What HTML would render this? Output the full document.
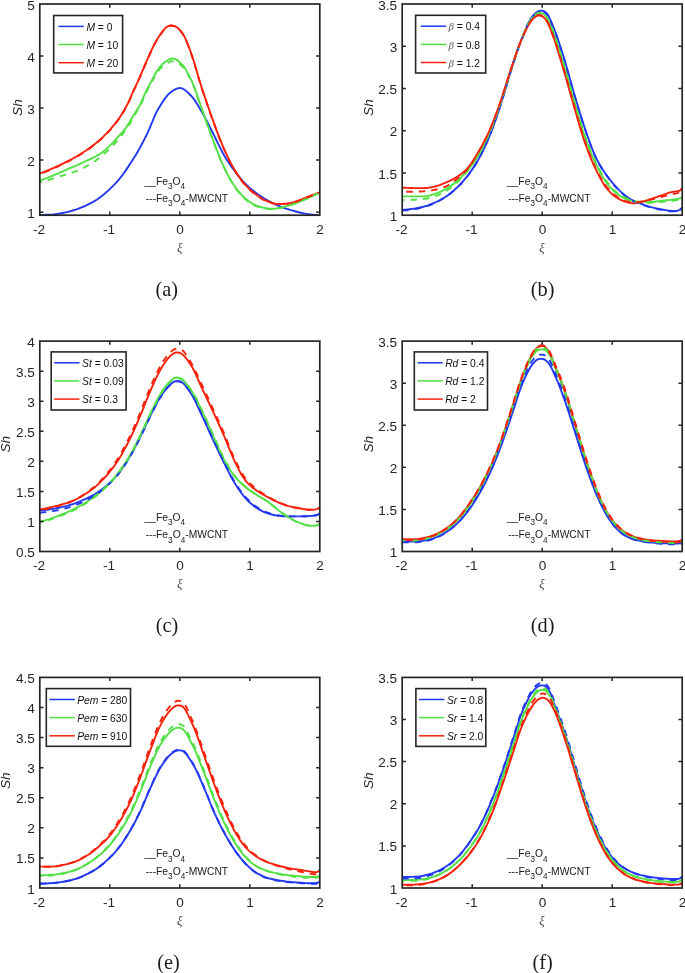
<!DOCTYPE html>
<html lang="en"><head><meta charset="utf-8"><title>Figure</title>
<style>html,body{margin:0;padding:0;background:#fff}svg{display:block;will-change:transform}</style></head><body>
<svg width="685" height="973" viewBox="0 0 685 973">
<g>
<clipPath id="clip_a"><rect x="39.8" y="3.0" width="281.0" height="213.2"/></clipPath>
<g clip-path="url(#clip_a)" fill="none" stroke-linejoin="round" stroke-linecap="butt">
<path d="M39.8,214.9 L40.8,214.9 L41.8,214.9 L42.8,214.9 L43.8,214.9 L44.8,214.9 L45.8,214.8 L46.8,214.8 L47.8,214.8 L48.8,214.8 L49.8,214.7 L50.8,214.7 L51.8,214.6 L52.8,214.6 L53.8,214.5 L54.8,214.3 L55.8,214.2 L56.8,214.0 L57.8,213.9 L58.8,213.7 L59.8,213.5 L60.8,213.3 L61.8,213.2 L62.8,213.0 L63.8,212.8 L64.8,212.6 L65.8,212.3 L66.8,212.1 L67.8,211.9 L68.8,211.6 L69.8,211.3 L70.8,211.1 L71.8,210.8 L72.8,210.5 L73.8,210.2 L74.8,209.9 L75.8,209.6 L76.8,209.2 L77.8,208.9 L78.8,208.5 L79.8,208.1 L80.8,207.7 L81.8,207.3 L82.8,206.9 L83.8,206.5 L84.8,206.1 L85.8,205.6 L86.8,205.2 L87.8,204.7 L88.8,204.2 L89.8,203.7 L90.8,203.2 L91.8,202.7 L92.8,202.1 L93.8,201.5 L94.8,200.9 L95.8,200.3 L96.8,199.7 L97.8,199.0 L98.8,198.3 L99.8,197.5 L100.8,196.8 L101.8,196.0 L102.8,195.2 L103.8,194.4 L104.8,193.5 L105.8,192.7 L106.8,191.8 L107.8,191.0 L108.8,190.1 L109.8,189.2 L110.8,188.2 L111.8,187.2 L112.8,186.2 L113.8,185.2 L114.8,184.2 L115.8,183.1 L116.8,182.0 L117.8,180.8 L118.8,179.6 L119.8,178.4 L120.8,177.2 L121.8,175.9 L122.8,174.5 L123.8,173.2 L124.8,171.8 L125.8,170.4 L126.8,168.9 L127.8,167.4 L128.8,165.9 L129.8,164.3 L130.8,162.8 L131.8,161.3 L132.8,159.7 L133.8,158.1 L134.8,156.5 L135.8,154.9 L136.8,153.2 L137.8,151.5 L138.8,149.8 L139.8,148.0 L140.8,146.1 L141.8,144.2 L142.8,142.3 L143.8,140.4 L144.8,138.4 L145.8,136.5 L146.8,134.4 L147.8,132.3 L148.8,130.1 L149.8,127.8 L150.8,125.4 L151.8,123.0 L152.8,120.6 L153.8,118.2 L154.8,115.9 L155.8,113.7 L156.8,111.7 L157.8,109.8 L158.8,108.1 L159.8,106.4 L160.8,104.8 L161.8,103.2 L162.8,101.6 L163.8,100.1 L164.8,98.7 L165.8,97.3 L166.8,96.1 L167.8,94.9 L168.8,93.9 L169.8,93.0 L170.8,92.2 L171.8,91.5 L172.8,90.8 L173.8,90.2 L174.8,89.6 L175.8,89.1 L176.8,88.6 L177.8,88.3 L178.8,88.1 L179.8,88.0 L180.8,88.1 L181.8,88.3 L182.8,88.7 L183.8,89.3 L184.8,90.0 L185.8,90.7 L186.8,91.6 L187.8,92.5 L188.8,93.5 L189.8,94.5 L190.8,95.5 L191.8,96.5 L192.8,97.7 L193.8,99.0 L194.8,100.4 L195.8,101.9 L196.8,103.5 L197.8,105.1 L198.8,106.8 L199.8,108.5 L200.8,110.2 L201.8,111.9 L202.8,113.6 L203.8,115.4 L204.8,117.3 L205.8,119.1 L206.8,121.0 L207.8,123.0 L208.8,124.9 L209.8,126.9 L210.8,128.9 L211.8,130.9 L212.8,132.8 L213.8,134.8 L214.8,136.9 L215.8,139.0 L216.8,141.0 L217.8,143.1 L218.8,145.2 L219.8,147.2 L220.8,149.2 L221.8,151.1 L222.8,153.0 L223.8,154.7 L224.8,156.4 L225.8,158.1 L226.8,159.7 L227.8,161.2 L228.8,162.7 L229.8,164.2 L230.8,165.6 L231.8,167.1 L232.8,168.5 L233.8,169.8 L234.8,171.2 L235.8,172.5 L236.8,173.8 L237.8,175.1 L238.8,176.3 L239.8,177.6 L240.8,178.8 L241.8,179.9 L242.8,181.1 L243.8,182.1 L244.8,183.2 L245.8,184.2 L246.8,185.2 L247.8,186.1 L248.8,187.1 L249.8,188.0 L250.8,188.8 L251.8,189.7 L252.8,190.5 L253.8,191.3 L254.8,192.1 L255.8,192.8 L256.8,193.5 L257.8,194.3 L258.8,195.0 L259.8,195.6 L260.8,196.3 L261.8,196.9 L262.8,197.6 L263.8,198.2 L264.8,198.8 L265.8,199.4 L266.8,199.9 L267.8,200.5 L268.8,201.0 L269.8,201.6 L270.8,202.1 L271.8,202.6 L272.8,203.1 L273.8,203.6 L274.8,204.1 L275.8,204.6 L276.8,205.0 L277.8,205.5 L278.8,205.9 L279.8,206.3 L280.8,206.7 L281.8,207.0 L282.8,207.4 L283.8,207.8 L284.8,208.1 L285.8,208.5 L286.8,208.8 L287.8,209.1 L288.8,209.4 L289.8,209.8 L290.8,210.1 L291.8,210.4 L292.8,210.7 L293.8,211.0 L294.8,211.3 L295.8,211.5 L296.8,211.8 L297.8,212.0 L298.8,212.3 L299.8,212.5 L300.8,212.7 L301.8,213.0 L302.8,213.2 L303.8,213.4 L304.8,213.6 L305.8,213.8 L306.8,213.9 L307.8,214.1 L308.8,214.2 L309.8,214.4 L310.8,214.5 L311.8,214.6 L312.8,214.7 L313.8,214.8 L314.8,214.9 L315.8,214.9 L316.8,215.0 L317.8,215.1 L318.8,215.1 L319.8,215.1" stroke="#2238f2" stroke-width="1.9"/>
<path d="M39.8,180.6 L40.8,180.2 L41.8,179.8 L42.8,179.5 L43.8,179.1 L44.8,178.7 L45.8,178.3 L46.8,177.9 L47.8,177.6 L48.8,177.2 L49.8,176.8 L50.8,176.4 L51.8,176.0 L52.8,175.6 L53.8,175.1 L54.8,174.7 L55.8,174.3 L56.8,173.9 L57.8,173.5 L58.8,173.1 L59.8,172.6 L60.8,172.2 L61.8,171.8 L62.8,171.3 L63.8,170.9 L64.8,170.4 L65.8,170.0 L66.8,169.6 L67.8,169.1 L68.8,168.7 L69.8,168.2 L70.8,167.8 L71.8,167.4 L72.8,167.0 L73.8,166.6 L74.8,166.1 L75.8,165.7 L76.8,165.3 L77.8,164.8 L78.8,164.4 L79.8,163.9 L80.8,163.5 L81.8,163.0 L82.8,162.5 L83.8,162.0 L84.8,161.5 L85.8,161.1 L86.8,160.6 L87.8,160.2 L88.8,159.7 L89.8,159.3 L90.8,158.8 L91.8,158.3 L92.8,157.8 L93.8,157.3 L94.8,156.8 L95.8,156.3 L96.8,155.7 L97.8,155.2 L98.8,154.6 L99.8,154.0 L100.8,153.3 L101.8,152.6 L102.8,151.9 L103.8,151.1 L104.8,150.3 L105.8,149.4 L106.8,148.5 L107.8,147.6 L108.8,146.7 L109.8,145.7 L110.8,144.7 L111.8,143.7 L112.8,142.6 L113.8,141.6 L114.8,140.5 L115.8,139.4 L116.8,138.3 L117.8,137.2 L118.8,136.1 L119.8,135.0 L120.8,133.9 L121.8,132.8 L122.8,131.6 L123.8,130.4 L124.8,129.1 L125.8,127.8 L126.8,126.4 L127.8,124.9 L128.8,123.4 L129.8,121.7 L130.8,120.0 L131.8,118.2 L132.8,116.5 L133.8,114.9 L134.8,113.3 L135.8,111.7 L136.8,110.2 L137.8,108.6 L138.8,107.0 L139.8,105.2 L140.8,103.1 L141.8,101.0 L142.8,98.7 L143.8,96.4 L144.8,94.2 L145.8,92.0 L146.8,89.9 L147.8,87.9 L148.8,86.0 L149.8,84.1 L150.8,82.2 L151.8,80.4 L152.8,78.5 L153.8,76.6 L154.8,74.8 L155.8,73.0 L156.8,71.3 L157.8,69.7 L158.8,68.3 L159.8,67.1 L160.8,65.9 L161.8,64.8 L162.8,63.9 L163.8,63.0 L164.8,62.2 L165.8,61.5 L166.8,60.9 L167.8,60.3 L168.8,59.7 L169.8,59.2 L170.8,58.8 L171.8,58.5 L172.8,58.5 L173.8,58.6 L174.8,58.9 L175.8,59.4 L176.8,59.9 L177.8,60.6 L178.8,61.4 L179.8,62.3 L180.8,63.3 L181.8,64.3 L182.8,65.4 L183.8,66.6 L184.8,68.0 L185.8,69.6 L186.8,71.4 L187.8,73.2 L188.8,75.1 L189.8,77.1 L190.8,79.1 L191.8,81.2 L192.8,83.5 L193.8,86.0 L194.8,88.6 L195.8,91.4 L196.8,94.2 L197.8,97.1 L198.8,100.0 L199.8,102.9 L200.8,105.8 L201.8,108.6 L202.8,111.4 L203.8,114.3 L204.8,117.1 L205.8,119.9 L206.8,122.8 L207.8,125.6 L208.8,128.5 L209.8,131.3 L210.8,134.0 L211.8,136.8 L212.8,139.4 L213.8,142.1 L214.8,144.8 L215.8,147.4 L216.8,150.0 L217.8,152.6 L218.8,155.2 L219.8,157.7 L220.8,160.1 L221.8,162.4 L222.8,164.7 L223.8,166.8 L224.8,168.9 L225.8,170.9 L226.8,172.9 L227.8,174.8 L228.8,176.7 L229.8,178.5 L230.8,180.2 L231.8,181.9 L232.8,183.5 L233.8,185.0 L234.8,186.4 L235.8,187.8 L236.8,189.2 L237.8,190.5 L238.8,191.7 L239.8,192.9 L240.8,194.1 L241.8,195.2 L242.8,196.2 L243.8,197.2 L244.8,198.1 L245.8,198.9 L246.8,199.8 L247.8,200.5 L248.8,201.3 L249.8,202.0 L250.8,202.7 L251.8,203.3 L252.8,203.9 L253.8,204.4 L254.8,204.9 L255.8,205.4 L256.8,205.7 L257.8,206.1 L258.8,206.4 L259.8,206.7 L260.8,207.0 L261.8,207.3 L262.8,207.6 L263.8,207.8 L264.8,208.0 L265.8,208.2 L266.8,208.3 L267.8,208.5 L268.8,208.6 L269.8,208.7 L270.8,208.8 L271.8,208.8 L272.8,208.7 L273.8,208.7 L274.8,208.6 L275.8,208.5 L276.8,208.3 L277.8,208.2 L278.8,208.0 L279.8,207.8 L280.8,207.7 L281.8,207.4 L282.8,207.2 L283.8,206.9 L284.8,206.7 L285.8,206.4 L286.8,206.1 L287.8,205.8 L288.8,205.6 L289.8,205.3 L290.8,204.9 L291.8,204.6 L292.8,204.3 L293.8,203.9 L294.8,203.5 L295.8,203.2 L296.8,202.8 L297.8,202.4 L298.8,202.0 L299.8,201.6 L300.8,201.2 L301.8,200.8 L302.8,200.4 L303.8,199.9 L304.8,199.5 L305.8,199.0 L306.8,198.6 L307.8,198.1 L308.8,197.7 L309.8,197.2 L310.8,196.7 L311.8,196.3 L312.8,195.8 L313.8,195.3 L314.8,194.8 L315.8,194.3 L316.8,193.8 L317.8,193.3 L318.8,192.8 L319.8,192.2" stroke="#52e044" stroke-width="1.9"/>
<path d="M39.8,173.6 L40.8,173.2 L41.8,172.8 L42.8,172.4 L43.8,172.1 L44.8,171.7 L45.8,171.3 L46.8,170.9 L47.8,170.4 L48.8,170.0 L49.8,169.6 L50.8,169.2 L51.8,168.7 L52.8,168.3 L53.8,167.9 L54.8,167.4 L55.8,166.9 L56.8,166.5 L57.8,166.0 L58.8,165.6 L59.8,165.1 L60.8,164.6 L61.8,164.1 L62.8,163.6 L63.8,163.2 L64.8,162.7 L65.8,162.2 L66.8,161.7 L67.8,161.2 L68.8,160.6 L69.8,160.1 L70.8,159.6 L71.8,159.1 L72.8,158.5 L73.8,158.0 L74.8,157.4 L75.8,156.9 L76.8,156.3 L77.8,155.7 L78.8,155.1 L79.8,154.5 L80.8,153.9 L81.8,153.3 L82.8,152.6 L83.8,152.0 L84.8,151.3 L85.8,150.7 L86.8,150.0 L87.8,149.3 L88.8,148.6 L89.8,147.9 L90.8,147.1 L91.8,146.4 L92.8,145.6 L93.8,144.9 L94.8,144.1 L95.8,143.3 L96.8,142.4 L97.8,141.6 L98.8,140.7 L99.8,139.9 L100.8,139.0 L101.8,138.1 L102.8,137.1 L103.8,136.2 L104.8,135.2 L105.8,134.2 L106.8,133.2 L107.8,132.2 L108.8,131.1 L109.8,130.0 L110.8,128.8 L111.8,127.6 L112.8,126.4 L113.8,125.2 L114.8,124.0 L115.8,122.7 L116.8,121.4 L117.8,120.0 L118.8,118.6 L119.8,117.2 L120.8,115.7 L121.8,114.1 L122.8,112.4 L123.8,110.7 L124.8,109.0 L125.8,107.3 L126.8,105.5 L127.8,103.6 L128.8,101.5 L129.8,99.3 L130.8,96.9 L131.8,94.5 L132.8,92.2 L133.8,90.0 L134.8,87.9 L135.8,85.8 L136.8,83.7 L137.8,81.6 L138.8,79.4 L139.8,77.1 L140.8,74.7 L141.8,72.3 L142.8,70.0 L143.8,67.6 L144.8,65.2 L145.8,62.9 L146.8,60.6 L147.8,58.3 L148.8,56.1 L149.8,53.9 L150.8,51.7 L151.8,49.5 L152.8,47.4 L153.8,45.3 L154.8,43.4 L155.8,41.6 L156.8,39.9 L157.8,38.3 L158.8,36.8 L159.8,35.4 L160.8,33.9 L161.8,32.5 L162.8,31.1 L163.8,29.8 L164.8,28.7 L165.8,27.8 L166.8,27.0 L167.8,26.4 L168.8,25.9 L169.8,25.6 L170.8,25.5 L171.8,25.5 L172.8,25.7 L173.8,25.9 L174.8,26.2 L175.8,26.7 L176.8,27.3 L177.8,28.1 L178.8,29.0 L179.8,30.1 L180.8,31.2 L181.8,32.4 L182.8,33.8 L183.8,35.5 L184.8,37.3 L185.8,39.3 L186.8,41.6 L187.8,44.1 L188.8,46.8 L189.8,49.5 L190.8,52.3 L191.8,55.1 L192.8,58.1 L193.8,61.3 L194.8,64.5 L195.8,67.9 L196.8,71.3 L197.8,74.8 L198.8,78.2 L199.8,81.6 L200.8,84.8 L201.8,87.9 L202.8,90.9 L203.8,93.9 L204.8,96.9 L205.8,99.9 L206.8,102.8 L207.8,105.7 L208.8,108.6 L209.8,111.5 L210.8,114.3 L211.8,117.1 L212.8,119.9 L213.8,122.6 L214.8,125.4 L215.8,128.1 L216.8,130.8 L217.8,133.5 L218.8,136.1 L219.8,138.7 L220.8,141.2 L221.8,143.7 L222.8,146.0 L223.8,148.3 L224.8,150.6 L225.8,152.8 L226.8,154.9 L227.8,157.1 L228.8,159.1 L229.8,161.1 L230.8,163.1 L231.8,164.9 L232.8,166.7 L233.8,168.5 L234.8,170.2 L235.8,171.8 L236.8,173.4 L237.8,174.9 L238.8,176.4 L239.8,177.8 L240.8,179.2 L241.8,180.6 L242.8,181.8 L243.8,183.1 L244.8,184.2 L245.8,185.3 L246.8,186.4 L247.8,187.4 L248.8,188.4 L249.8,189.4 L250.8,190.3 L251.8,191.1 L252.8,192.0 L253.8,192.8 L254.8,193.6 L255.8,194.3 L256.8,195.1 L257.8,195.8 L258.8,196.5 L259.8,197.2 L260.8,197.8 L261.8,198.5 L262.8,199.1 L263.8,199.6 L264.8,200.2 L265.8,200.6 L266.8,201.0 L267.8,201.4 L268.8,201.8 L269.8,202.2 L270.8,202.5 L271.8,202.8 L272.8,203.1 L273.8,203.4 L274.8,203.6 L275.8,203.8 L276.8,203.9 L277.8,204.0 L278.8,204.0 L279.8,204.0 L280.8,204.0 L281.8,203.9 L282.8,203.9 L283.8,203.8 L284.8,203.7 L285.8,203.6 L286.8,203.6 L287.8,203.5 L288.8,203.3 L289.8,203.2 L290.8,203.0 L291.8,202.8 L292.8,202.5 L293.8,202.2 L294.8,201.9 L295.8,201.5 L296.8,201.2 L297.8,200.8 L298.8,200.4 L299.8,200.1 L300.8,199.7 L301.8,199.3 L302.8,198.9 L303.8,198.5 L304.8,198.1 L305.8,197.7 L306.8,197.3 L307.8,196.9 L308.8,196.5 L309.8,196.1 L310.8,195.7 L311.8,195.3 L312.8,194.9 L313.8,194.5 L314.8,194.2 L315.8,193.8 L316.8,193.4 L317.8,193.0 L318.8,192.7 L319.8,192.3" stroke="#f8220c" stroke-width="1.9"/>
<path d="M39.8,182.4 L40.8,182.1 L41.8,181.8 L42.8,181.5 L43.8,181.3 L44.8,181.0 L45.8,180.7 L46.8,180.4 L47.8,180.1 L48.8,179.8 L49.8,179.5 L50.8,179.2 L51.8,178.9 L52.8,178.6 L53.8,178.3 L54.8,178.0 L55.8,177.7 L56.8,177.3 L57.8,177.0 L58.8,176.7 L59.8,176.4 L60.8,176.1 L61.8,175.8 L62.8,175.5 L63.8,175.1 L64.8,174.8 L65.8,174.5 L66.8,174.1 L67.8,173.8 L68.8,173.5 L69.8,173.2 L70.8,172.9 L71.8,172.6 L72.8,172.3 L73.8,171.9 L74.8,171.6 L75.8,171.3 L76.8,170.9 L77.8,170.6 L78.8,170.2 L79.8,169.8 L80.8,169.3 L81.8,168.8 L82.8,168.3 L83.8,167.8 L84.8,167.2 L85.8,166.7 L86.8,166.1 L87.8,165.5 L88.8,165.0 L89.8,164.4 L90.8,163.8 L91.8,163.2 L92.8,162.5 L93.8,161.9 L94.8,161.2 L95.8,160.5 L96.8,159.8 L97.8,159.1 L98.8,158.3 L99.8,157.6 L100.8,156.8 L101.8,156.0 L102.8,155.1 L103.8,154.2 L104.8,153.3 L105.8,152.4 L106.8,151.5 L107.8,150.5 L108.8,149.6 L109.8,148.6 L110.8,147.6 L111.8,146.6 L112.8,145.5 L113.8,144.5 L114.8,143.4 L115.8,142.3 L116.8,141.2 L117.8,140.0 L118.8,138.8 L119.8,137.6 L120.8,136.4 L121.8,135.1 L122.8,133.8 L123.8,132.5 L124.8,131.1 L125.8,129.8 L126.8,128.4 L127.8,127.0 L128.8,125.5 L129.8,123.8 L130.8,122.1 L131.8,120.4 L132.8,118.5 L133.8,116.6 L134.8,114.8 L135.8,113.1 L136.8,111.5 L137.8,109.9 L138.8,108.2 L139.8,106.4 L140.8,104.4 L141.8,102.3 L142.8,100.0 L143.8,97.8 L144.8,95.6 L145.8,93.4 L146.8,91.3 L147.8,89.3 L148.8,87.3 L149.8,85.5 L150.8,83.6 L151.8,81.8 L152.8,80.0 L153.8,78.2 L154.8,76.4 L155.8,74.7 L156.8,73.1 L157.8,71.6 L158.8,70.3 L159.8,69.1 L160.8,68.0 L161.8,67.0 L162.8,66.1 L163.8,65.2 L164.8,64.5 L165.8,63.9 L166.8,63.3 L167.8,62.8 L168.8,62.3 L169.8,61.8 L170.8,61.5 L171.8,61.2 L172.8,61.2 L173.8,61.3 L174.8,61.5 L175.8,61.8 L176.8,62.2 L177.8,62.7 L178.8,63.3 L179.8,64.1 L180.8,64.9 L181.8,66.0 L182.8,67.1 L183.8,68.3 L184.8,69.7 L185.8,71.1 L186.8,72.7 L187.8,74.3 L188.8,76.1 L189.8,77.9 L190.8,79.8 L191.8,81.8 L192.8,84.1 L193.8,86.5 L194.8,89.1 L195.8,91.8 L196.8,94.7 L197.8,97.6 L198.8,100.5 L199.8,103.4 L200.8,106.3 L201.8,109.1 L202.8,111.9 L203.8,114.7 L204.8,117.5 L205.8,120.4 L206.8,123.2 L207.8,126.1 L208.8,128.9 L209.8,131.7 L210.8,134.5 L211.8,137.2 L212.8,139.9 L213.8,142.5 L214.8,145.2 L215.8,147.8 L216.8,150.4 L217.8,152.9 L218.8,155.5 L219.8,157.9 L220.8,160.3 L221.8,162.6 L222.8,164.9 L223.8,167.0 L224.8,169.1 L225.8,171.2 L226.8,173.2 L227.8,175.2 L228.8,177.1 L229.8,179.0 L230.8,180.7 L231.8,182.4 L232.8,184.1 L233.8,185.6 L234.8,187.1 L235.8,188.5 L236.8,189.8 L237.8,191.1 L238.8,192.4 L239.8,193.6 L240.8,194.7 L241.8,195.8 L242.8,196.9 L243.8,197.8 L244.8,198.7 L245.8,199.6 L246.8,200.4 L247.8,201.2 L248.8,201.9 L249.8,202.7 L250.8,203.4 L251.8,204.0 L252.8,204.6 L253.8,205.1 L254.8,205.6 L255.8,206.0 L256.8,206.4 L257.8,206.7 L258.8,207.0 L259.8,207.3 L260.8,207.6 L261.8,207.8 L262.8,208.0 L263.8,208.3 L264.8,208.4 L265.8,208.6 L266.8,208.8 L267.8,208.9 L268.8,209.0 L269.8,209.1 L270.8,209.2 L271.8,209.2 L272.8,209.2 L273.8,209.1 L274.8,208.9 L275.8,208.8 L276.8,208.6 L277.8,208.4 L278.8,208.2 L279.8,208.0 L280.8,207.8 L281.8,207.5 L282.8,207.3 L283.8,207.0 L284.8,206.7 L285.8,206.5 L286.8,206.2 L287.8,205.9 L288.8,205.6 L289.8,205.2 L290.8,204.9 L291.8,204.6 L292.8,204.2 L293.8,203.9 L294.8,203.5 L295.8,203.1 L296.8,202.8 L297.8,202.4 L298.8,202.0 L299.8,201.6 L300.8,201.2 L301.8,200.8 L302.8,200.4 L303.8,199.9 L304.8,199.5 L305.8,199.0 L306.8,198.6 L307.8,198.1 L308.8,197.7 L309.8,197.2 L310.8,196.7 L311.8,196.3 L312.8,195.8 L313.8,195.3 L314.8,194.8 L315.8,194.3 L316.8,193.8 L317.8,193.3 L318.8,192.8 L319.8,192.2" stroke="#52e044" stroke-width="1.9" stroke-dasharray="6.5 6" stroke-dashoffset="4.2"/>
<path d="M39.8,174.0 L40.8,173.7 L41.8,173.3 L42.8,172.9 L43.8,172.5 L44.8,172.1 L45.8,171.7 L46.8,171.3 L47.8,170.9 L48.8,170.5 L49.8,170.0 L50.8,169.6 L51.8,169.2 L52.8,168.7 L53.8,168.3 L54.8,167.8 L55.8,167.4 L56.8,166.9 L57.8,166.5 L58.8,166.0 L59.8,165.5 L60.8,165.0 L61.8,164.6 L62.8,164.1 L63.8,163.6 L64.8,163.1 L65.8,162.6 L66.8,162.1 L67.8,161.6 L68.8,161.1 L69.8,160.6 L70.8,160.0 L71.8,159.5 L72.8,159.0 L73.8,158.4 L74.8,157.9 L75.8,157.3 L76.8,156.7 L77.8,156.1 L78.8,155.6 L79.8,154.9 L80.8,154.3 L81.8,153.7 L82.8,153.1 L83.8,152.4 L84.8,151.8 L85.8,151.1 L86.8,150.4 L87.8,149.7 L88.8,149.0 L89.8,148.3 L90.8,147.6 L91.8,146.8 L92.8,146.1 L93.8,145.3 L94.8,144.5 L95.8,143.7 L96.8,142.9 L97.8,142.0 L98.8,141.2 L99.8,140.3 L100.8,139.4 L101.8,138.5 L102.8,137.6 L103.8,136.6 L104.8,135.7 L105.8,134.7 L106.8,133.6 L107.8,132.6 L108.8,131.5 L109.8,130.4 L110.8,129.3 L111.8,128.1 L112.8,126.9 L113.8,125.7 L114.8,124.4 L115.8,123.1 L116.8,121.8 L117.8,120.5 L118.8,119.1 L119.8,117.6 L120.8,116.1 L121.8,114.5 L122.8,112.9 L123.8,111.2 L124.8,109.5 L125.8,107.8 L126.8,106.0 L127.8,104.0 L128.8,101.9 L129.8,99.7 L130.8,97.3 L131.8,94.9 L132.8,92.6 L133.8,90.4 L134.8,88.3 L135.8,86.3 L136.8,84.2 L137.8,82.0 L138.8,79.8 L139.8,77.5 L140.8,75.1 L141.8,72.8 L142.8,70.4 L143.8,68.0 L144.8,65.7 L145.8,63.3 L146.8,61.0 L147.8,58.8 L148.8,56.5 L149.8,54.3 L150.8,52.1 L151.8,50.0 L152.8,47.8 L153.8,45.8 L154.8,43.9 L155.8,42.1 L156.8,40.4 L157.8,38.8 L158.8,37.3 L159.8,35.8 L160.8,34.3 L161.8,32.9 L162.8,31.4 L163.8,30.1 L164.8,29.0 L165.8,28.0 L166.8,27.3 L167.8,26.6 L168.8,26.1 L169.8,25.8 L170.8,25.7 L171.8,25.7 L172.8,25.9 L173.8,26.1 L174.8,26.4 L175.8,26.9 L176.8,27.5 L177.8,28.3 L178.8,29.2 L179.8,30.3 L180.8,31.4 L181.8,32.7 L182.8,34.1 L183.8,35.7 L184.8,37.6 L185.8,39.6 L186.8,42.0 L187.8,44.5 L188.8,47.2 L189.8,49.9 L190.8,52.7 L191.8,55.6 L192.8,58.6 L193.8,61.7 L194.8,65.0 L195.8,68.4 L196.8,71.8 L197.8,75.2 L198.8,78.7 L199.8,82.0 L200.8,85.2 L201.8,88.4 L202.8,91.4 L203.8,94.4 L204.8,97.3 L205.8,100.3 L206.8,103.2 L207.8,106.1 L208.8,109.0 L209.8,111.9 L210.8,114.7 L211.8,117.5 L212.8,120.3 L213.8,123.0 L214.8,125.8 L215.8,128.5 L216.8,131.2 L217.8,133.9 L218.8,136.5 L219.8,139.1 L220.8,141.6 L221.8,144.1 L222.8,146.5 L223.8,148.8 L224.8,151.0 L225.8,153.2 L226.8,155.4 L227.8,157.5 L228.8,159.5 L229.8,161.6 L230.8,163.5 L231.8,165.4 L232.8,167.2 L233.8,168.9 L234.8,170.6 L235.8,172.2 L236.8,173.8 L237.8,175.3 L238.8,176.8 L239.8,178.3 L240.8,179.7 L241.8,181.0 L242.8,182.3 L243.8,183.5 L244.8,184.7 L245.8,185.8 L246.8,186.8 L247.8,187.9 L248.8,188.9 L249.8,189.8 L250.8,190.7 L251.8,191.6 L252.8,192.4 L253.8,193.3 L254.8,194.0 L255.8,194.8 L256.8,195.5 L257.8,196.2 L258.8,196.9 L259.8,197.5 L260.8,198.2 L261.8,198.8 L262.8,199.4 L263.8,199.9 L264.8,200.4 L265.8,200.9 L266.8,201.3 L267.8,201.7 L268.8,202.0 L269.8,202.4 L270.8,202.7 L271.8,203.1 L272.8,203.4 L273.8,203.6 L274.8,203.9 L275.8,204.0 L276.8,204.1 L277.8,204.2 L278.8,204.2 L279.8,204.2 L280.8,204.2 L281.8,204.1 L282.8,204.1 L283.8,204.0 L284.8,203.9 L285.8,203.9 L286.8,203.8 L287.8,203.7 L288.8,203.6 L289.8,203.4 L290.8,203.2 L291.8,203.0 L292.8,202.7 L293.8,202.4 L294.8,202.1 L295.8,201.7 L296.8,201.4 L297.8,201.0 L298.8,200.7 L299.8,200.3 L300.8,199.9 L301.8,199.6 L302.8,199.2 L303.8,198.8 L304.8,198.4 L305.8,197.9 L306.8,197.5 L307.8,197.1 L308.8,196.7 L309.8,196.3 L310.8,195.9 L311.8,195.5 L312.8,195.1 L313.8,194.7 L314.8,194.4 L315.8,194.0 L316.8,193.6 L317.8,193.3 L318.8,192.9 L319.8,192.5" stroke="#f8220c" stroke-width="1.9" stroke-dasharray="6.5 6" stroke-dashoffset="8.4"/>
</g>
<rect x="39.8" y="4.0" width="280.0" height="211.2" fill="none" stroke="#262626" stroke-width="1.7"/>
<path d="M109.8,215.2v-3.7M109.8,4.0v3.7M179.8,215.2v-3.7M179.8,4.0v3.7M249.8,215.2v-3.7M249.8,4.0v3.7M39.8,212.2h3.7M319.8,212.2h-3.7M39.8,160.1h3.7M319.8,160.1h-3.7M39.8,108.1h3.7M319.8,108.1h-3.7M39.8,56.1h3.7M319.8,56.1h-3.7" stroke="#262626" stroke-width="1.5" fill="none"/>
<g font-family='"Liberation Sans", Arial, sans-serif' font-size="13.6" fill="#262626">
<text x="39.1" y="233.8" text-anchor="middle">-2</text>
<text x="109.1" y="233.8" text-anchor="middle">-1</text>
<text x="180.1" y="233.8" text-anchor="middle">0</text>
<text x="250.1" y="233.8" text-anchor="middle">1</text>
<text x="320.1" y="233.8" text-anchor="middle">2</text>
<text x="34.8" y="217.7" text-anchor="end">1</text>
<text x="34.8" y="165.6" text-anchor="end">2</text>
<text x="34.8" y="113.6" text-anchor="end">3</text>
<text x="34.8" y="61.6" text-anchor="end">4</text>
<text x="34.8" y="9.5" text-anchor="end">5</text>
<text transform="translate(21.9,107.6) rotate(-90)" text-anchor="middle" font-style="italic" font-size="13.6">Sh</text>
</g>
<text x="179.6" y="252.0" text-anchor="middle" font-family='"Liberation Serif", "Times New Roman", serif' font-style="italic" font-size="12.6" fill="#444">ξ</text>
<g font-family='"Liberation Sans", Arial, sans-serif' font-size="10.3" fill="#1a1a1a">
<text x="144.5" y="184.5">__Fe<tspan font-size="8.2" dy="4.4">3</tspan><tspan dy="-4.4">O</tspan><tspan font-size="8.2" dy="4.4">4</tspan></text>
<text x="145.8" y="202.0">---Fe<tspan font-size="8.2" dy="4.4">3</tspan><tspan dy="-4.4">O</tspan><tspan font-size="8.2" dy="4.4">4</tspan><tspan dy="-4.4">-MWCNT</tspan></text>
</g>
<rect x="53.7" y="15.5" width="68.9" height="57.4" fill="#fff" stroke="#262626" stroke-width="1.6"/>
<path d="M58.4,26.4h25.4" stroke="#2238f2" stroke-width="1.5" fill="none"/>
<text x="86.4" y="30.6" font-family='"Liberation Sans", Arial, sans-serif' font-size="10.3" fill="#111"><tspan font-style="italic">M</tspan> = 0</text>
<path d="M58.4,44.5h25.4" stroke="#52e044" stroke-width="1.5" fill="none"/>
<text x="86.4" y="48.8" font-family='"Liberation Sans", Arial, sans-serif' font-size="10.3" fill="#111"><tspan font-style="italic">M</tspan> = 10</text>
<path d="M58.4,62.7h25.4" stroke="#f8220c" stroke-width="1.5" fill="none"/>
<text x="86.4" y="66.9" font-family='"Liberation Sans", Arial, sans-serif' font-size="10.3" fill="#111"><tspan font-style="italic">M</tspan> = 20</text>
<text x="166.7" y="295.7" text-anchor="middle" font-family='"Liberation Serif", "Times New Roman", serif' font-size="20.3" fill="#1a1a1a">(a)</text>
</g>
<g>
<clipPath id="clip_b"><rect x="402.2" y="3.0" width="281.0" height="213.2"/></clipPath>
<g clip-path="url(#clip_b)" fill="none" stroke-linejoin="round" stroke-linecap="butt">
<path d="M402.2,209.9 L403.2,209.8 L404.2,209.8 L405.2,209.7 L406.2,209.6 L407.2,209.5 L408.2,209.4 L409.2,209.3 L410.2,209.2 L411.2,209.0 L412.2,208.9 L413.2,208.8 L414.2,208.6 L415.2,208.5 L416.2,208.3 L417.2,208.1 L418.2,207.9 L419.2,207.7 L420.2,207.5 L421.2,207.3 L422.2,207.0 L423.2,206.8 L424.2,206.5 L425.2,206.2 L426.2,205.9 L427.2,205.6 L428.2,205.3 L429.2,204.9 L430.2,204.5 L431.2,204.1 L432.2,203.7 L433.2,203.3 L434.2,202.9 L435.2,202.5 L436.2,202.0 L437.2,201.5 L438.2,201.0 L439.2,200.5 L440.2,200.0 L441.2,199.4 L442.2,198.9 L443.2,198.3 L444.2,197.7 L445.2,197.0 L446.2,196.4 L447.2,195.7 L448.2,195.0 L449.2,194.2 L450.2,193.5 L451.2,192.7 L452.2,191.8 L453.2,191.0 L454.2,190.1 L455.2,189.2 L456.2,188.3 L457.2,187.4 L458.2,186.4 L459.2,185.4 L460.2,184.4 L461.2,183.3 L462.2,182.2 L463.2,181.1 L464.2,179.9 L465.2,178.7 L466.2,177.5 L467.2,176.3 L468.2,175.0 L469.2,173.6 L470.2,172.3 L471.2,170.9 L472.2,169.4 L473.2,167.9 L474.2,166.4 L475.2,164.8 L476.2,163.2 L477.2,161.5 L478.2,159.8 L479.2,158.0 L480.2,156.1 L481.2,154.2 L482.2,152.2 L483.2,150.1 L484.2,148.0 L485.2,145.8 L486.2,143.6 L487.2,141.3 L488.2,139.0 L489.2,136.6 L490.2,134.2 L491.2,131.6 L492.2,129.0 L493.2,126.4 L494.2,123.6 L495.2,120.8 L496.2,118.0 L497.2,115.1 L498.2,112.1 L499.2,109.1 L500.2,106.1 L501.2,103.0 L502.2,99.8 L503.2,96.5 L504.2,93.1 L505.2,89.8 L506.2,86.3 L507.2,82.9 L508.2,79.6 L509.2,76.3 L510.2,73.0 L511.2,69.9 L512.2,66.7 L513.2,63.6 L514.2,60.5 L515.2,57.4 L516.2,54.3 L517.2,51.4 L518.2,48.4 L519.2,45.6 L520.2,42.9 L521.2,40.3 L522.2,37.8 L523.2,35.3 L524.2,32.8 L525.2,30.3 L526.2,27.9 L527.2,25.6 L528.2,23.5 L529.2,21.4 L530.2,19.6 L531.2,18.0 L532.2,16.6 L533.2,15.5 L534.2,14.4 L535.2,13.5 L536.2,12.6 L537.2,12.0 L538.2,11.4 L539.2,11.0 L540.2,10.8 L541.2,10.7 L542.2,10.7 L543.2,10.9 L544.2,11.3 L545.2,11.9 L546.2,12.8 L547.2,13.9 L548.2,15.4 L549.2,17.3 L550.2,19.4 L551.2,21.7 L552.2,24.1 L553.2,26.6 L554.2,29.1 L555.2,31.7 L556.2,34.4 L557.2,37.2 L558.2,40.1 L559.2,43.1 L560.2,46.2 L561.2,49.3 L562.2,52.4 L563.2,55.6 L564.2,58.8 L565.2,62.1 L566.2,65.5 L567.2,69.0 L568.2,72.6 L569.2,76.2 L570.2,79.8 L571.2,83.4 L572.2,86.9 L573.2,90.5 L574.2,93.9 L575.2,97.3 L576.2,100.7 L577.2,104.0 L578.2,107.3 L579.2,110.6 L580.2,113.9 L581.2,117.1 L582.2,120.2 L583.2,123.3 L584.2,126.4 L585.2,129.3 L586.2,132.2 L587.2,135.1 L588.2,138.0 L589.2,140.8 L590.2,143.6 L591.2,146.3 L592.2,148.9 L593.2,151.4 L594.2,153.8 L595.2,156.0 L596.2,158.1 L597.2,160.1 L598.2,162.0 L599.2,163.8 L600.2,165.5 L601.2,167.1 L602.2,168.7 L603.2,170.2 L604.2,171.7 L605.2,173.2 L606.2,174.6 L607.2,176.0 L608.2,177.3 L609.2,178.6 L610.2,180.0 L611.2,181.2 L612.2,182.5 L613.2,183.7 L614.2,184.9 L615.2,186.0 L616.2,187.1 L617.2,188.2 L618.2,189.2 L619.2,190.2 L620.2,191.1 L621.2,192.1 L622.2,193.0 L623.2,193.9 L624.2,194.8 L625.2,195.6 L626.2,196.4 L627.2,197.1 L628.2,197.8 L629.2,198.4 L630.2,199.0 L631.2,199.5 L632.2,200.0 L633.2,200.5 L634.2,201.0 L635.2,201.4 L636.2,201.8 L637.2,202.3 L638.2,202.7 L639.2,203.1 L640.2,203.4 L641.2,203.8 L642.2,204.2 L643.2,204.6 L644.2,204.9 L645.2,205.3 L646.2,205.6 L647.2,206.0 L648.2,206.3 L649.2,206.6 L650.2,206.9 L651.2,207.1 L652.2,207.4 L653.2,207.7 L654.2,207.9 L655.2,208.1 L656.2,208.4 L657.2,208.6 L658.2,208.8 L659.2,209.0 L660.2,209.2 L661.2,209.4 L662.2,209.5 L663.2,209.7 L664.2,209.9 L665.2,210.1 L666.2,210.3 L667.2,210.4 L668.2,210.6 L669.2,210.7 L670.2,210.8 L671.2,210.9 L672.2,211.0 L673.2,211.0 L674.2,211.0 L675.2,211.0 L676.2,211.0 L677.2,210.8 L678.2,210.5 L679.2,210.0 L680.2,209.4 L681.2,208.5 L682.2,207.5" stroke="#2238f2" stroke-width="1.9"/>
<path d="M402.2,196.4 L403.2,196.4 L404.2,196.4 L405.2,196.4 L406.2,196.4 L407.2,196.4 L408.2,196.4 L409.2,196.4 L410.2,196.4 L411.2,196.4 L412.2,196.4 L413.2,196.4 L414.2,196.4 L415.2,196.4 L416.2,196.4 L417.2,196.4 L418.2,196.4 L419.2,196.4 L420.2,196.4 L421.2,196.4 L422.2,196.4 L423.2,196.4 L424.2,196.4 L425.2,196.3 L426.2,196.2 L427.2,196.0 L428.2,195.8 L429.2,195.6 L430.2,195.3 L431.2,195.0 L432.2,194.7 L433.2,194.4 L434.2,194.1 L435.2,193.8 L436.2,193.5 L437.2,193.1 L438.2,192.7 L439.2,192.3 L440.2,191.9 L441.2,191.4 L442.2,190.9 L443.2,190.4 L444.2,189.9 L445.2,189.4 L446.2,188.8 L447.2,188.2 L448.2,187.6 L449.2,187.0 L450.2,186.3 L451.2,185.6 L452.2,184.9 L453.2,184.1 L454.2,183.4 L455.2,182.6 L456.2,181.8 L457.2,180.9 L458.2,180.0 L459.2,179.1 L460.2,178.2 L461.2,177.2 L462.2,176.2 L463.2,175.2 L464.2,174.2 L465.2,173.1 L466.2,171.9 L467.2,170.8 L468.2,169.6 L469.2,168.4 L470.2,167.1 L471.2,165.8 L472.2,164.5 L473.2,163.1 L474.2,161.6 L475.2,160.1 L476.2,158.6 L477.2,157.0 L478.2,155.4 L479.2,153.7 L480.2,151.9 L481.2,150.1 L482.2,148.2 L483.2,146.3 L484.2,144.2 L485.2,142.2 L486.2,140.0 L487.2,137.9 L488.2,135.6 L489.2,133.3 L490.2,131.0 L491.2,128.6 L492.2,126.1 L493.2,123.5 L494.2,120.8 L495.2,118.1 L496.2,115.4 L497.2,112.6 L498.2,109.8 L499.2,106.9 L500.2,104.0 L501.2,101.0 L502.2,97.9 L503.2,94.7 L504.2,91.5 L505.2,88.2 L506.2,84.9 L507.2,81.7 L508.2,78.4 L509.2,75.2 L510.2,72.1 L511.2,69.0 L512.2,66.0 L513.2,62.9 L514.2,59.9 L515.2,56.8 L516.2,53.9 L517.2,50.9 L518.2,48.1 L519.2,45.4 L520.2,42.8 L521.2,40.2 L522.2,37.8 L523.2,35.5 L524.2,33.1 L525.2,30.8 L526.2,28.5 L527.2,26.4 L528.2,24.4 L529.2,22.5 L530.2,20.8 L531.2,19.3 L532.2,18.1 L533.2,17.0 L534.2,16.1 L535.2,15.2 L536.2,14.4 L537.2,13.8 L538.2,13.5 L539.2,13.2 L540.2,13.2 L541.2,13.2 L542.2,13.4 L543.2,13.8 L544.2,14.5 L545.2,15.4 L546.2,16.6 L547.2,18.1 L548.2,19.8 L549.2,22.0 L550.2,24.3 L551.2,26.8 L552.2,29.4 L553.2,32.1 L554.2,34.8 L555.2,37.6 L556.2,40.6 L557.2,43.6 L558.2,46.8 L559.2,50.0 L560.2,53.2 L561.2,56.5 L562.2,59.8 L563.2,63.1 L564.2,66.5 L565.2,69.8 L566.2,73.3 L567.2,76.8 L568.2,80.3 L569.2,83.9 L570.2,87.4 L571.2,91.0 L572.2,94.6 L573.2,98.1 L574.2,101.5 L575.2,105.0 L576.2,108.4 L577.2,111.9 L578.2,115.4 L579.2,118.8 L580.2,122.2 L581.2,125.6 L582.2,128.9 L583.2,132.0 L584.2,135.1 L585.2,138.0 L586.2,140.8 L587.2,143.6 L588.2,146.2 L589.2,148.8 L590.2,151.3 L591.2,153.7 L592.2,156.0 L593.2,158.3 L594.2,160.5 L595.2,162.7 L596.2,164.7 L597.2,166.7 L598.2,168.7 L599.2,170.6 L600.2,172.5 L601.2,174.3 L602.2,176.0 L603.2,177.7 L604.2,179.3 L605.2,180.8 L606.2,182.2 L607.2,183.6 L608.2,184.8 L609.2,186.0 L610.2,187.2 L611.2,188.3 L612.2,189.4 L613.2,190.4 L614.2,191.4 L615.2,192.3 L616.2,193.1 L617.2,193.9 L618.2,194.6 L619.2,195.3 L620.2,195.9 L621.2,196.5 L622.2,197.1 L623.2,197.7 L624.2,198.2 L625.2,198.7 L626.2,199.1 L627.2,199.5 L628.2,199.8 L629.2,200.1 L630.2,200.4 L631.2,200.6 L632.2,200.8 L633.2,201.0 L634.2,201.2 L635.2,201.4 L636.2,201.5 L637.2,201.7 L638.2,201.7 L639.2,201.8 L640.2,201.8 L641.2,201.8 L642.2,201.8 L643.2,201.8 L644.2,201.8 L645.2,201.8 L646.2,201.8 L647.2,201.8 L648.2,201.8 L649.2,201.8 L650.2,201.8 L651.2,201.8 L652.2,201.8 L653.2,201.7 L654.2,201.7 L655.2,201.6 L656.2,201.4 L657.2,201.3 L658.2,201.2 L659.2,201.1 L660.2,200.9 L661.2,200.8 L662.2,200.7 L663.2,200.6 L664.2,200.5 L665.2,200.4 L666.2,200.3 L667.2,200.2 L668.2,200.1 L669.2,200.0 L670.2,199.9 L671.2,199.8 L672.2,199.7 L673.2,199.6 L674.2,199.4 L675.2,199.3 L676.2,199.1 L677.2,198.9 L678.2,198.7 L679.2,198.5 L680.2,198.3 L681.2,198.1 L682.2,197.9" stroke="#52e044" stroke-width="1.9"/>
<path d="M402.2,187.7 L403.2,187.7 L404.2,187.8 L405.2,187.8 L406.2,187.9 L407.2,187.9 L408.2,187.9 L409.2,188.0 L410.2,188.0 L411.2,188.0 L412.2,188.0 L413.2,188.1 L414.2,188.1 L415.2,188.1 L416.2,188.1 L417.2,188.1 L418.2,188.1 L419.2,188.1 L420.2,188.1 L421.2,188.1 L422.2,188.1 L423.2,188.1 L424.2,188.1 L425.2,188.0 L426.2,188.0 L427.2,187.9 L428.2,187.8 L429.2,187.6 L430.2,187.4 L431.2,187.3 L432.2,187.1 L433.2,186.9 L434.2,186.7 L435.2,186.4 L436.2,186.2 L437.2,185.9 L438.2,185.6 L439.2,185.2 L440.2,184.9 L441.2,184.5 L442.2,184.1 L443.2,183.7 L444.2,183.2 L445.2,182.8 L446.2,182.4 L447.2,182.0 L448.2,181.5 L449.2,181.1 L450.2,180.6 L451.2,180.1 L452.2,179.6 L453.2,179.1 L454.2,178.5 L455.2,177.9 L456.2,177.3 L457.2,176.7 L458.2,176.1 L459.2,175.4 L460.2,174.7 L461.2,173.9 L462.2,173.2 L463.2,172.3 L464.2,171.5 L465.2,170.6 L466.2,169.6 L467.2,168.6 L468.2,167.5 L469.2,166.2 L470.2,164.9 L471.2,163.5 L472.2,162.0 L473.2,160.5 L474.2,158.9 L475.2,157.2 L476.2,155.5 L477.2,153.9 L478.2,152.2 L479.2,150.5 L480.2,148.7 L481.2,147.0 L482.2,145.2 L483.2,143.3 L484.2,141.4 L485.2,139.5 L486.2,137.5 L487.2,135.5 L488.2,133.3 L489.2,131.2 L490.2,128.9 L491.2,126.5 L492.2,124.1 L493.2,121.6 L494.2,119.0 L495.2,116.4 L496.2,113.7 L497.2,110.9 L498.2,108.1 L499.2,105.3 L500.2,102.5 L501.2,99.5 L502.2,96.5 L503.2,93.4 L504.2,90.3 L505.2,87.1 L506.2,83.9 L507.2,80.7 L508.2,77.6 L509.2,74.4 L510.2,71.4 L511.2,68.4 L512.2,65.4 L513.2,62.4 L514.2,59.4 L515.2,56.4 L516.2,53.5 L517.2,50.6 L518.2,47.8 L519.2,45.1 L520.2,42.6 L521.2,40.2 L522.2,37.9 L523.2,35.7 L524.2,33.6 L525.2,31.5 L526.2,29.4 L527.2,27.5 L528.2,25.6 L529.2,23.9 L530.2,22.4 L531.2,21.0 L532.2,19.8 L533.2,18.7 L534.2,17.7 L535.2,16.9 L536.2,16.2 L537.2,15.7 L538.2,15.5 L539.2,15.5 L540.2,15.6 L541.2,15.8 L542.2,16.2 L543.2,16.9 L544.2,17.8 L545.2,18.9 L546.2,20.3 L547.2,21.9 L548.2,23.8 L549.2,26.0 L550.2,28.5 L551.2,31.1 L552.2,33.8 L553.2,36.5 L554.2,39.3 L555.2,42.3 L556.2,45.3 L557.2,48.5 L558.2,51.7 L559.2,55.0 L560.2,58.4 L561.2,61.8 L562.2,65.1 L563.2,68.5 L564.2,71.9 L565.2,75.3 L566.2,78.8 L567.2,82.3 L568.2,85.8 L569.2,89.4 L570.2,93.0 L571.2,96.5 L572.2,100.0 L573.2,103.5 L574.2,107.0 L575.2,110.4 L576.2,113.9 L577.2,117.4 L578.2,120.8 L579.2,124.3 L580.2,127.7 L581.2,131.0 L582.2,134.3 L583.2,137.5 L584.2,140.5 L585.2,143.5 L586.2,146.3 L587.2,149.0 L588.2,151.6 L589.2,154.2 L590.2,156.7 L591.2,159.1 L592.2,161.5 L593.2,163.8 L594.2,166.0 L595.2,168.1 L596.2,170.2 L597.2,172.2 L598.2,174.2 L599.2,176.1 L600.2,178.0 L601.2,179.8 L602.2,181.6 L603.2,183.3 L604.2,184.9 L605.2,186.4 L606.2,187.7 L607.2,189.0 L608.2,190.2 L609.2,191.2 L610.2,192.3 L611.2,193.3 L612.2,194.2 L613.2,195.1 L614.2,195.9 L615.2,196.6 L616.2,197.3 L617.2,198.0 L618.2,198.5 L619.2,199.1 L620.2,199.6 L621.2,200.0 L622.2,200.5 L623.2,200.9 L624.2,201.3 L625.2,201.6 L626.2,201.9 L627.2,202.2 L628.2,202.5 L629.2,202.7 L630.2,202.9 L631.2,203.1 L632.2,203.2 L633.2,203.3 L634.2,203.3 L635.2,203.2 L636.2,203.1 L637.2,202.9 L638.2,202.7 L639.2,202.4 L640.2,202.2 L641.2,202.0 L642.2,201.7 L643.2,201.5 L644.2,201.2 L645.2,200.9 L646.2,200.5 L647.2,200.2 L648.2,199.9 L649.2,199.5 L650.2,199.2 L651.2,198.9 L652.2,198.6 L653.2,198.2 L654.2,197.9 L655.2,197.6 L656.2,197.2 L657.2,196.9 L658.2,196.5 L659.2,196.2 L660.2,195.8 L661.2,195.5 L662.2,195.1 L663.2,194.8 L664.2,194.4 L665.2,194.1 L666.2,193.7 L667.2,193.4 L668.2,193.0 L669.2,192.7 L670.2,192.4 L671.2,192.2 L672.2,191.9 L673.2,191.8 L674.2,191.6 L675.2,191.5 L676.2,191.4 L677.2,191.3 L678.2,191.1 L679.2,190.7 L680.2,190.3 L681.2,189.1 L682.2,187.9" stroke="#f8220c" stroke-width="1.9"/>
<path d="M402.2,210.5 L403.2,210.5 L404.2,210.4 L405.2,210.3 L406.2,210.3 L407.2,210.2 L408.2,210.1 L409.2,209.9 L410.2,209.8 L411.2,209.7 L412.2,209.6 L413.2,209.4 L414.2,209.3 L415.2,209.1 L416.2,208.9 L417.2,208.7 L418.2,208.5 L419.2,208.2 L420.2,208.0 L421.2,207.7 L422.2,207.5 L423.2,207.2 L424.2,206.9 L425.2,206.6 L426.2,206.3 L427.2,206.0 L428.2,205.7 L429.2,205.3 L430.2,205.0 L431.2,204.6 L432.2,204.2 L433.2,203.8 L434.2,203.3 L435.2,202.9 L436.2,202.4 L437.2,201.9 L438.2,201.4 L439.2,200.9 L440.2,200.3 L441.2,199.7 L442.2,199.2 L443.2,198.5 L444.2,197.9 L445.2,197.3 L446.2,196.6 L447.2,195.9 L448.2,195.2 L449.2,194.4 L450.2,193.7 L451.2,192.9 L452.2,192.0 L453.2,191.2 L454.2,190.3 L455.2,189.4 L456.2,188.5 L457.2,187.6 L458.2,186.6 L459.2,185.6 L460.2,184.6 L461.2,183.5 L462.2,182.4 L463.2,181.3 L464.2,180.1 L465.2,178.9 L466.2,177.7 L467.2,176.5 L468.2,175.2 L469.2,173.9 L470.2,172.5 L471.2,171.1 L472.2,169.6 L473.2,168.1 L474.2,166.6 L475.2,165.0 L476.2,163.4 L477.2,161.7 L478.2,160.0 L479.2,158.2 L480.2,156.3 L481.2,154.4 L482.2,152.4 L483.2,150.3 L484.2,148.2 L485.2,146.0 L486.2,143.8 L487.2,141.5 L488.2,139.2 L489.2,136.8 L490.2,134.4 L491.2,131.8 L492.2,129.2 L493.2,126.6 L494.2,123.8 L495.2,121.0 L496.2,118.2 L497.2,115.3 L498.2,112.3 L499.2,109.4 L500.2,106.3 L501.2,103.2 L502.2,100.0 L503.2,96.7 L504.2,93.4 L505.2,90.0 L506.2,86.6 L507.2,83.2 L508.2,79.8 L509.2,76.5 L510.2,73.3 L511.2,70.1 L512.2,66.9 L513.2,63.8 L514.2,60.7 L515.2,57.6 L516.2,54.5 L517.2,51.6 L518.2,48.6 L519.2,45.8 L520.2,43.1 L521.2,40.5 L522.2,38.0 L523.2,35.5 L524.2,33.0 L525.2,30.6 L526.2,28.2 L527.2,25.9 L528.2,23.7 L529.2,21.7 L530.2,19.9 L531.2,18.4 L532.2,17.1 L533.2,15.9 L534.2,15.0 L535.2,14.1 L536.2,13.4 L537.2,12.7 L538.2,12.3 L539.2,11.9 L540.2,11.7 L541.2,11.5 L542.2,11.6 L543.2,11.8 L544.2,12.2 L545.2,12.8 L546.2,13.7 L547.2,14.8 L548.2,16.3 L549.2,18.1 L550.2,20.3 L551.2,22.6 L552.2,25.0 L553.2,27.4 L554.2,29.9 L555.2,32.5 L556.2,35.2 L557.2,38.0 L558.2,40.9 L559.2,43.8 L560.2,46.9 L561.2,50.0 L562.2,53.1 L563.2,56.2 L564.2,59.5 L565.2,62.8 L566.2,66.2 L567.2,69.7 L568.2,73.2 L569.2,76.8 L570.2,80.4 L571.2,84.0 L572.2,87.6 L573.2,91.1 L574.2,94.6 L575.2,97.9 L576.2,101.3 L577.2,104.6 L578.2,107.9 L579.2,111.2 L580.2,114.4 L581.2,117.6 L582.2,120.7 L583.2,123.8 L584.2,126.8 L585.2,129.8 L586.2,132.7 L587.2,135.5 L588.2,138.4 L589.2,141.2 L590.2,144.0 L591.2,146.7 L592.2,149.3 L593.2,151.8 L594.2,154.2 L595.2,156.5 L596.2,158.6 L597.2,160.6 L598.2,162.4 L599.2,164.2 L600.2,165.9 L601.2,167.6 L602.2,169.1 L603.2,170.7 L604.2,172.2 L605.2,173.6 L606.2,175.0 L607.2,176.4 L608.2,177.7 L609.2,179.1 L610.2,180.4 L611.2,181.7 L612.2,182.9 L613.2,184.1 L614.2,185.3 L615.2,186.5 L616.2,187.6 L617.2,188.6 L618.2,189.6 L619.2,190.6 L620.2,191.5 L621.2,192.4 L622.2,193.3 L623.2,194.2 L624.2,195.0 L625.2,195.8 L626.2,196.6 L627.2,197.3 L628.2,198.0 L629.2,198.6 L630.2,199.2 L631.2,199.8 L632.2,200.3 L633.2,200.8 L634.2,201.3 L635.2,201.8 L636.2,202.2 L637.2,202.6 L638.2,203.1 L639.2,203.5 L640.2,203.9 L641.2,204.3 L642.2,204.7 L643.2,205.0 L644.2,205.4 L645.2,205.7 L646.2,206.1 L647.2,206.4 L648.2,206.7 L649.2,207.0 L650.2,207.3 L651.2,207.6 L652.2,207.8 L653.2,208.1 L654.2,208.3 L655.2,208.6 L656.2,208.8 L657.2,209.0 L658.2,209.2 L659.2,209.4 L660.2,209.6 L661.2,209.8 L662.2,210.0 L663.2,210.2 L664.2,210.3 L665.2,210.5 L666.2,210.7 L667.2,210.9 L668.2,211.0 L669.2,211.2 L670.2,211.3 L671.2,211.4 L672.2,211.4 L673.2,211.4 L674.2,211.4 L675.2,211.4 L676.2,211.4 L677.2,211.3 L678.2,211.0 L679.2,210.5 L680.2,210.0 L681.2,209.1 L682.2,208.2" stroke="#2238f2" stroke-width="1.9" stroke-dasharray="6.5 6" stroke-dashoffset="0.0"/>
<path d="M402.2,200.1 L403.2,200.1 L404.2,200.1 L405.2,200.1 L406.2,200.0 L407.2,200.0 L408.2,200.0 L409.2,200.0 L410.2,199.9 L411.2,199.9 L412.2,199.8 L413.2,199.8 L414.2,199.7 L415.2,199.7 L416.2,199.6 L417.2,199.5 L418.2,199.5 L419.2,199.4 L420.2,199.3 L421.2,199.2 L422.2,199.1 L423.2,199.0 L424.2,198.9 L425.2,198.8 L426.2,198.7 L427.2,198.5 L428.2,198.2 L429.2,198.0 L430.2,197.7 L431.2,197.4 L432.2,197.2 L433.2,196.8 L434.2,196.5 L435.2,196.2 L436.2,195.8 L437.2,195.5 L438.2,195.1 L439.2,194.6 L440.2,194.2 L441.2,193.7 L442.2,193.2 L443.2,192.7 L444.2,192.1 L445.2,191.6 L446.2,191.0 L447.2,190.3 L448.2,189.7 L449.2,189.0 L450.2,188.3 L451.2,187.5 L452.2,186.7 L453.2,185.9 L454.2,185.0 L455.2,184.2 L456.2,183.3 L457.2,182.4 L458.2,181.4 L459.2,180.5 L460.2,179.4 L461.2,178.4 L462.2,177.3 L463.2,176.2 L464.2,175.1 L465.2,173.9 L466.2,172.7 L467.2,171.5 L468.2,170.2 L469.2,168.9 L470.2,167.6 L471.2,166.3 L472.2,164.9 L473.2,163.4 L474.2,162.0 L475.2,160.4 L476.2,158.9 L477.2,157.3 L478.2,155.6 L479.2,153.9 L480.2,152.1 L481.2,150.3 L482.2,148.4 L483.2,146.4 L484.2,144.4 L485.2,142.4 L486.2,140.2 L487.2,138.1 L488.2,135.8 L489.2,133.6 L490.2,131.2 L491.2,128.8 L492.2,126.3 L493.2,123.7 L494.2,121.1 L495.2,118.4 L496.2,115.6 L497.2,112.8 L498.2,110.0 L499.2,107.1 L500.2,104.2 L501.2,101.2 L502.2,98.1 L503.2,94.9 L504.2,91.7 L505.2,88.4 L506.2,85.2 L507.2,81.9 L508.2,78.6 L509.2,75.4 L510.2,72.3 L511.2,69.2 L512.2,66.2 L513.2,63.1 L514.2,60.1 L515.2,57.1 L516.2,54.1 L517.2,51.2 L518.2,48.4 L519.2,45.6 L520.2,43.0 L521.2,40.5 L522.2,38.0 L523.2,35.6 L524.2,33.2 L525.2,30.8 L526.2,28.5 L527.2,26.2 L528.2,24.1 L529.2,22.2 L530.2,20.5 L531.2,19.0 L532.2,17.7 L533.2,16.6 L534.2,15.6 L535.2,14.7 L536.2,14.0 L537.2,13.4 L538.2,13.0 L539.2,12.8 L540.2,12.7 L541.2,12.8 L542.2,12.9 L543.2,13.3 L544.2,14.0 L545.2,15.0 L546.2,16.2 L547.2,17.6 L548.2,19.4 L549.2,21.4 L550.2,23.8 L551.2,26.3 L552.2,28.8 L553.2,31.4 L554.2,34.1 L555.2,36.9 L556.2,39.8 L557.2,42.8 L558.2,45.9 L559.2,49.0 L560.2,52.2 L561.2,55.5 L562.2,58.8 L563.2,62.1 L564.2,65.4 L565.2,68.7 L566.2,72.2 L567.2,75.7 L568.2,79.2 L569.2,82.8 L570.2,86.4 L571.2,90.0 L572.2,93.5 L573.2,97.0 L574.2,100.5 L575.2,103.9 L576.2,107.3 L577.2,110.7 L578.2,114.1 L579.2,117.5 L580.2,120.8 L581.2,124.1 L582.2,127.3 L583.2,130.4 L584.2,133.4 L585.2,136.3 L586.2,139.1 L587.2,141.8 L588.2,144.5 L589.2,147.1 L590.2,149.6 L591.2,152.0 L592.2,154.4 L593.2,156.7 L594.2,159.0 L595.2,161.1 L596.2,163.2 L597.2,165.2 L598.2,167.2 L599.2,169.1 L600.2,170.9 L601.2,172.7 L602.2,174.4 L603.2,176.1 L604.2,177.7 L605.2,179.2 L606.2,180.7 L607.2,182.0 L608.2,183.3 L609.2,184.6 L610.2,185.8 L611.2,186.9 L612.2,188.0 L613.2,189.1 L614.2,190.1 L615.2,191.1 L616.2,191.9 L617.2,192.8 L618.2,193.5 L619.2,194.2 L620.2,194.9 L621.2,195.5 L622.2,196.1 L623.2,196.7 L624.2,197.3 L625.2,197.8 L626.2,198.2 L627.2,198.7 L628.2,199.1 L629.2,199.5 L630.2,199.8 L631.2,200.2 L632.2,200.5 L633.2,200.8 L634.2,201.1 L635.2,201.4 L636.2,201.7 L637.2,201.9 L638.2,202.0 L639.2,202.2 L640.2,202.3 L641.2,202.4 L642.2,202.4 L643.2,202.5 L644.2,202.5 L645.2,202.6 L646.2,202.6 L647.2,202.6 L648.2,202.7 L649.2,202.7 L650.2,202.7 L651.2,202.7 L652.2,202.7 L653.2,202.6 L654.2,202.6 L655.2,202.5 L656.2,202.4 L657.2,202.3 L658.2,202.2 L659.2,202.1 L660.2,202.0 L661.2,201.9 L662.2,201.8 L663.2,201.7 L664.2,201.6 L665.2,201.5 L666.2,201.4 L667.2,201.3 L668.2,201.2 L669.2,201.1 L670.2,201.0 L671.2,200.9 L672.2,200.8 L673.2,200.7 L674.2,200.5 L675.2,200.4 L676.2,200.2 L677.2,200.0 L678.2,199.8 L679.2,199.6 L680.2,199.4 L681.2,199.2 L682.2,199.0" stroke="#52e044" stroke-width="1.9" stroke-dasharray="6.5 6" stroke-dashoffset="4.2"/>
<path d="M402.2,191.8 L403.2,191.8 L404.2,191.8 L405.2,191.8 L406.2,191.8 L407.2,191.8 L408.2,191.8 L409.2,191.8 L410.2,191.7 L411.2,191.7 L412.2,191.7 L413.2,191.7 L414.2,191.7 L415.2,191.6 L416.2,191.6 L417.2,191.6 L418.2,191.6 L419.2,191.5 L420.2,191.5 L421.2,191.5 L422.2,191.4 L423.2,191.4 L424.2,191.3 L425.2,191.3 L426.2,191.2 L427.2,191.1 L428.2,191.0 L429.2,190.8 L430.2,190.7 L431.2,190.5 L432.2,190.3 L433.2,190.1 L434.2,189.9 L435.2,189.7 L436.2,189.5 L437.2,189.3 L438.2,189.0 L439.2,188.8 L440.2,188.5 L441.2,188.2 L442.2,187.8 L443.2,187.5 L444.2,187.1 L445.2,186.7 L446.2,186.3 L447.2,185.8 L448.2,185.2 L449.2,184.6 L450.2,184.0 L451.2,183.3 L452.2,182.6 L453.2,181.9 L454.2,181.1 L455.2,180.3 L456.2,179.6 L457.2,178.8 L458.2,178.0 L459.2,177.1 L460.2,176.3 L461.2,175.4 L462.2,174.5 L463.2,173.5 L464.2,172.5 L465.2,171.5 L466.2,170.4 L467.2,169.2 L468.2,168.0 L469.2,166.7 L470.2,165.4 L471.2,163.9 L472.2,162.4 L473.2,160.9 L474.2,159.3 L475.2,157.6 L476.2,156.0 L477.2,154.3 L478.2,152.6 L479.2,150.9 L480.2,149.1 L481.2,147.3 L482.2,145.5 L483.2,143.7 L484.2,141.7 L485.2,139.8 L486.2,137.8 L487.2,135.7 L488.2,133.6 L489.2,131.4 L490.2,129.1 L491.2,126.7 L492.2,124.3 L493.2,121.8 L494.2,119.2 L495.2,116.6 L496.2,113.9 L497.2,111.1 L498.2,108.3 L499.2,105.5 L500.2,102.7 L501.2,99.7 L502.2,96.7 L503.2,93.6 L504.2,90.5 L505.2,87.3 L506.2,84.1 L507.2,80.9 L508.2,77.8 L509.2,74.7 L510.2,71.6 L511.2,68.6 L512.2,65.6 L513.2,62.6 L514.2,59.6 L515.2,56.7 L516.2,53.7 L517.2,50.9 L518.2,48.1 L519.2,45.4 L520.2,42.9 L521.2,40.4 L522.2,38.1 L523.2,35.8 L524.2,33.6 L525.2,31.4 L526.2,29.3 L527.2,27.3 L528.2,25.4 L529.2,23.6 L530.2,22.0 L531.2,20.6 L532.2,19.4 L533.2,18.3 L534.2,17.3 L535.2,16.4 L536.2,15.7 L537.2,15.3 L538.2,15.0 L539.2,15.0 L540.2,15.2 L541.2,15.4 L542.2,15.8 L543.2,16.4 L544.2,17.2 L545.2,18.3 L546.2,19.6 L547.2,21.2 L548.2,23.1 L549.2,25.3 L550.2,27.8 L551.2,30.4 L552.2,33.1 L553.2,35.8 L554.2,38.6 L555.2,41.5 L556.2,44.6 L557.2,47.7 L558.2,50.9 L559.2,54.1 L560.2,57.4 L561.2,60.8 L562.2,64.1 L563.2,67.5 L564.2,70.8 L565.2,74.2 L566.2,77.7 L567.2,81.2 L568.2,84.7 L569.2,88.3 L570.2,91.8 L571.2,95.4 L572.2,98.9 L573.2,102.4 L574.2,105.9 L575.2,109.4 L576.2,112.8 L577.2,116.3 L578.2,119.7 L579.2,123.2 L580.2,126.6 L581.2,130.0 L582.2,133.2 L583.2,136.4 L584.2,139.5 L585.2,142.4 L586.2,145.2 L587.2,147.9 L588.2,150.6 L589.2,153.2 L590.2,155.7 L591.2,158.1 L592.2,160.5 L593.2,162.7 L594.2,164.9 L595.2,167.1 L596.2,169.1 L597.2,171.0 L598.2,173.0 L599.2,174.8 L600.2,176.6 L601.2,178.4 L602.2,180.1 L603.2,181.7 L604.2,183.2 L605.2,184.7 L606.2,186.0 L607.2,187.3 L608.2,188.5 L609.2,189.6 L610.2,190.7 L611.2,191.7 L612.2,192.7 L613.2,193.7 L614.2,194.6 L615.2,195.4 L616.2,196.1 L617.2,196.8 L618.2,197.4 L619.2,198.0 L620.2,198.5 L621.2,199.1 L622.2,199.5 L623.2,200.0 L624.2,200.4 L625.2,200.8 L626.2,201.1 L627.2,201.4 L628.2,201.6 L629.2,201.8 L630.2,202.0 L631.2,202.1 L632.2,202.2 L633.2,202.2 L634.2,202.2 L635.2,202.2 L636.2,202.2 L637.2,202.1 L638.2,202.0 L639.2,201.9 L640.2,201.8 L641.2,201.7 L642.2,201.5 L643.2,201.4 L644.2,201.2 L645.2,201.0 L646.2,200.7 L647.2,200.5 L648.2,200.3 L649.2,200.0 L650.2,199.8 L651.2,199.6 L652.2,199.3 L653.2,199.1 L654.2,198.8 L655.2,198.6 L656.2,198.3 L657.2,198.0 L658.2,197.8 L659.2,197.5 L660.2,197.2 L661.2,197.0 L662.2,196.7 L663.2,196.4 L664.2,196.2 L665.2,195.9 L666.2,195.6 L667.2,195.4 L668.2,195.1 L669.2,194.8 L670.2,194.6 L671.2,194.3 L672.2,194.1 L673.2,193.9 L674.2,193.7 L675.2,193.6 L676.2,193.4 L677.2,193.2 L678.2,192.9 L679.2,192.4 L680.2,191.9 L681.2,190.7 L682.2,189.4" stroke="#f8220c" stroke-width="1.9" stroke-dasharray="6.5 6" stroke-dashoffset="8.4"/>
</g>
<rect x="402.2" y="4.0" width="280.0" height="211.2" fill="none" stroke="#262626" stroke-width="1.7"/>
<path d="M472.2,215.2v-3.7M472.2,4.0v3.7M542.2,215.2v-3.7M542.2,4.0v3.7M612.2,215.2v-3.7M612.2,4.0v3.7M402.2,173.0h3.7M682.2,173.0h-3.7M402.2,130.7h3.7M682.2,130.7h-3.7M402.2,88.5h3.7M682.2,88.5h-3.7M402.2,46.2h3.7M682.2,46.2h-3.7" stroke="#262626" stroke-width="1.5" fill="none"/>
<g font-family='"Liberation Sans", Arial, sans-serif' font-size="13.6" fill="#262626">
<text x="401.5" y="233.8" text-anchor="middle">-2</text>
<text x="471.5" y="233.8" text-anchor="middle">-1</text>
<text x="542.5" y="233.8" text-anchor="middle">0</text>
<text x="612.5" y="233.8" text-anchor="middle">1</text>
<text x="682.5" y="233.8" text-anchor="middle">2</text>
<text x="397.2" y="220.7" text-anchor="end">1</text>
<text x="397.2" y="178.5" text-anchor="end">1.5</text>
<text x="397.2" y="136.2" text-anchor="end">2</text>
<text x="397.2" y="94.0" text-anchor="end">2.5</text>
<text x="397.2" y="51.7" text-anchor="end">3</text>
<text x="397.2" y="9.5" text-anchor="end">3.5</text>
<text transform="translate(372.6,107.6) rotate(-90)" text-anchor="middle" font-style="italic" font-size="13.6">Sh</text>
</g>
<text x="542.0" y="252.0" text-anchor="middle" font-family='"Liberation Serif", "Times New Roman", serif' font-style="italic" font-size="12.6" fill="#444">ξ</text>
<g font-family='"Liberation Sans", Arial, sans-serif' font-size="10.3" fill="#1a1a1a">
<text x="506.9" y="184.5">__Fe<tspan font-size="8.2" dy="4.4">3</tspan><tspan dy="-4.4">O</tspan><tspan font-size="8.2" dy="4.4">4</tspan></text>
<text x="508.2" y="202.0">---Fe<tspan font-size="8.2" dy="4.4">3</tspan><tspan dy="-4.4">O</tspan><tspan font-size="8.2" dy="4.4">4</tspan><tspan dy="-4.4">-MWCNT</tspan></text>
</g>
<rect x="415.6" y="15.3" width="70.1" height="57.7" fill="#fff" stroke="#262626" stroke-width="1.6"/>
<path d="M420.8,26.2h25.4" stroke="#2238f2" stroke-width="1.5" fill="none"/>
<text x="448.5" y="30.4" font-family='"Liberation Sans", Arial, sans-serif' font-size="10.3" fill="#111"><tspan font-style="italic" font-family='"Liberation Serif", serif' font-size="10.8" fill="#555">β</tspan> = 0.4</text>
<path d="M420.8,44.4h25.4" stroke="#52e044" stroke-width="1.5" fill="none"/>
<text x="448.5" y="48.6" font-family='"Liberation Sans", Arial, sans-serif' font-size="10.3" fill="#111"><tspan font-style="italic" font-family='"Liberation Serif", serif' font-size="10.8" fill="#555">β</tspan> = 0.8</text>
<path d="M420.8,62.5h25.4" stroke="#f8220c" stroke-width="1.5" fill="none"/>
<text x="448.5" y="66.7" font-family='"Liberation Sans", Arial, sans-serif' font-size="10.3" fill="#111"><tspan font-style="italic" font-family='"Liberation Serif", serif' font-size="10.8" fill="#555">β</tspan> = 1.2</text>
<text x="542.6" y="295.7" text-anchor="middle" font-family='"Liberation Serif", "Times New Roman", serif' font-size="20.3" fill="#1a1a1a">(b)</text>
</g>
<g>
<clipPath id="clip_c"><rect x="39.8" y="340.1" width="281.0" height="212.4"/></clipPath>
<g clip-path="url(#clip_c)" fill="none" stroke-linejoin="round" stroke-linecap="butt">
<path d="M39.8,510.5 L40.8,510.4 L41.8,510.4 L42.8,510.3 L43.8,510.1 L44.8,510.0 L45.8,509.9 L46.8,509.8 L47.8,509.7 L48.8,509.5 L49.8,509.4 L50.8,509.2 L51.8,509.1 L52.8,508.9 L53.8,508.8 L54.8,508.6 L55.8,508.4 L56.8,508.2 L57.8,508.0 L58.8,507.8 L59.8,507.6 L60.8,507.3 L61.8,507.1 L62.8,506.9 L63.8,506.6 L64.8,506.4 L65.8,506.1 L66.8,505.9 L67.8,505.6 L68.8,505.3 L69.8,505.0 L70.8,504.7 L71.8,504.4 L72.8,504.1 L73.8,503.8 L74.8,503.4 L75.8,503.1 L76.8,502.7 L77.8,502.3 L78.8,501.9 L79.8,501.5 L80.8,501.1 L81.8,500.6 L82.8,500.2 L83.8,499.7 L84.8,499.3 L85.8,498.8 L86.8,498.4 L87.8,497.9 L88.8,497.4 L89.8,496.9 L90.8,496.4 L91.8,495.9 L92.8,495.3 L93.8,494.8 L94.8,494.2 L95.8,493.6 L96.8,493.0 L97.8,492.3 L98.8,491.6 L99.8,490.9 L100.8,490.2 L101.8,489.5 L102.8,488.7 L103.8,487.9 L104.8,487.1 L105.8,486.2 L106.8,485.4 L107.8,484.5 L108.8,483.7 L109.8,482.8 L110.8,481.8 L111.8,480.9 L112.8,479.9 L113.8,478.9 L114.8,477.8 L115.8,476.7 L116.8,475.5 L117.8,474.3 L118.8,473.1 L119.8,471.8 L120.8,470.4 L121.8,469.0 L122.8,467.6 L123.8,466.1 L124.8,464.6 L125.8,463.1 L126.8,461.5 L127.8,459.9 L128.8,458.3 L129.8,456.6 L130.8,454.9 L131.8,453.2 L132.8,451.4 L133.8,449.6 L134.8,447.7 L135.8,445.8 L136.8,443.8 L137.8,441.9 L138.8,439.9 L139.8,437.9 L140.8,435.8 L141.8,433.8 L142.8,431.7 L143.8,429.6 L144.8,427.4 L145.8,425.3 L146.8,423.1 L147.8,421.0 L148.8,418.9 L149.8,416.9 L150.8,414.8 L151.8,412.8 L152.8,410.9 L153.8,408.9 L154.8,406.9 L155.8,405.0 L156.8,403.1 L157.8,401.3 L158.8,399.6 L159.8,397.9 L160.8,396.3 L161.8,394.8 L162.8,393.3 L163.8,391.9 L164.8,390.6 L165.8,389.3 L166.8,388.1 L167.8,386.9 L168.8,385.8 L169.8,384.9 L170.8,384.0 L171.8,383.2 L172.8,382.5 L173.8,381.8 L174.8,381.4 L175.8,381.1 L176.8,381.0 L177.8,381.0 L178.8,381.1 L179.8,381.3 L180.8,381.7 L181.8,382.2 L182.8,382.9 L183.8,383.8 L184.8,384.9 L185.8,386.1 L186.8,387.4 L187.8,388.8 L188.8,390.3 L189.8,391.7 L190.8,393.2 L191.8,394.8 L192.8,396.4 L193.8,398.2 L194.8,400.2 L195.8,402.2 L196.8,404.3 L197.8,406.5 L198.8,408.6 L199.8,410.8 L200.8,413.0 L201.8,415.1 L202.8,417.3 L203.8,419.4 L204.8,421.6 L205.8,423.8 L206.8,426.1 L207.8,428.3 L208.8,430.5 L209.8,432.8 L210.8,435.0 L211.8,437.2 L212.8,439.3 L213.8,441.5 L214.8,443.6 L215.8,445.8 L216.8,447.9 L217.8,450.0 L218.8,452.2 L219.8,454.3 L220.8,456.3 L221.8,458.4 L222.8,460.4 L223.8,462.4 L224.8,464.4 L225.8,466.4 L226.8,468.5 L227.8,470.4 L228.8,472.4 L229.8,474.3 L230.8,476.2 L231.8,478.1 L232.8,479.8 L233.8,481.5 L234.8,483.2 L235.8,484.8 L236.8,486.3 L237.8,487.9 L238.8,489.4 L239.8,490.8 L240.8,492.2 L241.8,493.6 L242.8,494.9 L243.8,496.1 L244.8,497.3 L245.8,498.4 L246.8,499.5 L247.8,500.5 L248.8,501.5 L249.8,502.5 L250.8,503.4 L251.8,504.3 L252.8,505.1 L253.8,505.9 L254.8,506.7 L255.8,507.4 L256.8,508.0 L257.8,508.7 L258.8,509.3 L259.8,509.8 L260.8,510.4 L261.8,510.9 L262.8,511.4 L263.8,511.8 L264.8,512.3 L265.8,512.7 L266.8,513.0 L267.8,513.3 L268.8,513.7 L269.8,514.0 L270.8,514.3 L271.8,514.5 L272.8,514.8 L273.8,515.0 L274.8,515.2 L275.8,515.4 L276.8,515.6 L277.8,515.7 L278.8,515.8 L279.8,515.9 L280.8,516.0 L281.8,516.1 L282.8,516.2 L283.8,516.2 L284.8,516.3 L285.8,516.3 L286.8,516.4 L287.8,516.4 L288.8,516.4 L289.8,516.4 L290.8,516.4 L291.8,516.4 L292.8,516.4 L293.8,516.4 L294.8,516.4 L295.8,516.4 L296.8,516.4 L297.8,516.4 L298.8,516.4 L299.8,516.4 L300.8,516.4 L301.8,516.4 L302.8,516.3 L303.8,516.3 L304.8,516.3 L305.8,516.2 L306.8,516.2 L307.8,516.1 L308.8,516.1 L309.8,516.0 L310.8,515.9 L311.8,515.9 L312.8,515.8 L313.8,515.7 L314.8,515.5 L315.8,515.3 L316.8,515.0 L317.8,514.6 L318.8,514.0 L319.8,513.3" stroke="#2238f2" stroke-width="1.9"/>
<path d="M39.8,521.8 L40.8,521.6 L41.8,521.3 L42.8,521.0 L43.8,520.8 L44.8,520.5 L45.8,520.2 L46.8,519.9 L47.8,519.6 L48.8,519.3 L49.8,519.0 L50.8,518.6 L51.8,518.3 L52.8,518.0 L53.8,517.6 L54.8,517.2 L55.8,516.8 L56.8,516.4 L57.8,516.0 L58.8,515.6 L59.8,515.2 L60.8,514.8 L61.8,514.4 L62.8,514.0 L63.8,513.6 L64.8,513.2 L65.8,512.8 L66.8,512.4 L67.8,512.0 L68.8,511.5 L69.8,511.1 L70.8,510.7 L71.8,510.2 L72.8,509.7 L73.8,509.2 L74.8,508.7 L75.8,508.2 L76.8,507.7 L77.8,507.1 L78.8,506.6 L79.8,506.0 L80.8,505.5 L81.8,504.9 L82.8,504.3 L83.8,503.7 L84.8,503.1 L85.8,502.5 L86.8,501.8 L87.8,501.2 L88.8,500.5 L89.8,499.8 L90.8,499.2 L91.8,498.5 L92.8,497.8 L93.8,497.0 L94.8,496.3 L95.8,495.6 L96.8,494.8 L97.8,494.0 L98.8,493.2 L99.8,492.4 L100.8,491.5 L101.8,490.7 L102.8,489.8 L103.8,488.8 L104.8,487.9 L105.8,487.0 L106.8,486.0 L107.8,485.0 L108.8,484.0 L109.8,483.0 L110.8,481.9 L111.8,480.8 L112.8,479.7 L113.8,478.5 L114.8,477.3 L115.8,476.0 L116.8,474.7 L117.8,473.4 L118.8,472.0 L119.8,470.7 L120.8,469.3 L121.8,467.9 L122.8,466.4 L123.8,465.0 L124.8,463.5 L125.8,462.0 L126.8,460.4 L127.8,458.8 L128.8,457.2 L129.8,455.5 L130.8,453.8 L131.8,452.0 L132.8,450.2 L133.8,448.4 L134.8,446.5 L135.8,444.5 L136.8,442.5 L137.8,440.5 L138.8,438.4 L139.8,436.4 L140.8,434.3 L141.8,432.2 L142.8,430.1 L143.8,427.9 L144.8,425.7 L145.8,423.5 L146.8,421.3 L147.8,419.1 L148.8,416.9 L149.8,414.8 L150.8,412.7 L151.8,410.6 L152.8,408.6 L153.8,406.6 L154.8,404.5 L155.8,402.5 L156.8,400.6 L157.8,398.7 L158.8,396.9 L159.8,395.2 L160.8,393.5 L161.8,391.9 L162.8,390.4 L163.8,389.0 L164.8,387.6 L165.8,386.3 L166.8,385.0 L167.8,383.8 L168.8,382.7 L169.8,381.7 L170.8,380.8 L171.8,379.9 L172.8,379.1 L173.8,378.4 L174.8,377.9 L175.8,377.6 L176.8,377.5 L177.8,377.6 L178.8,377.8 L179.8,378.1 L180.8,378.5 L181.8,379.0 L182.8,379.8 L183.8,380.7 L184.8,381.8 L185.8,383.0 L186.8,384.3 L187.8,385.7 L188.8,387.1 L189.8,388.5 L190.8,389.9 L191.8,391.4 L192.8,393.0 L193.8,394.8 L194.8,396.6 L195.8,398.5 L196.8,400.5 L197.8,402.5 L198.8,404.6 L199.8,406.6 L200.8,408.7 L201.8,410.8 L202.8,412.9 L203.8,415.0 L204.8,417.2 L205.8,419.3 L206.8,421.6 L207.8,423.8 L208.8,426.1 L209.8,428.3 L210.8,430.5 L211.8,432.8 L212.8,435.0 L213.8,437.3 L214.8,439.5 L215.8,441.8 L216.8,444.1 L217.8,446.4 L218.8,448.7 L219.8,450.9 L220.8,453.1 L221.8,455.2 L222.8,457.2 L223.8,459.1 L224.8,460.9 L225.8,462.7 L226.8,464.5 L227.8,466.2 L228.8,467.9 L229.8,469.5 L230.8,471.0 L231.8,472.5 L232.8,473.9 L233.8,475.2 L234.8,476.5 L235.8,477.7 L236.8,478.8 L237.8,479.9 L238.8,481.0 L239.8,482.0 L240.8,483.0 L241.8,483.9 L242.8,484.8 L243.8,485.7 L244.8,486.5 L245.8,487.4 L246.8,488.1 L247.8,488.9 L248.8,489.6 L249.8,490.4 L250.8,491.1 L251.8,491.7 L252.8,492.4 L253.8,493.0 L254.8,493.7 L255.8,494.3 L256.8,495.0 L257.8,495.6 L258.8,496.2 L259.8,496.8 L260.8,497.3 L261.8,497.9 L262.8,498.5 L263.8,499.1 L264.8,499.7 L265.8,500.3 L266.8,501.0 L267.8,501.7 L268.8,502.4 L269.8,503.2 L270.8,504.0 L271.8,504.8 L272.8,505.6 L273.8,506.5 L274.8,507.3 L275.8,508.1 L276.8,508.9 L277.8,509.7 L278.8,510.5 L279.8,511.2 L280.8,512.0 L281.8,512.7 L282.8,513.4 L283.8,514.2 L284.8,514.9 L285.8,515.5 L286.8,516.2 L287.8,516.8 L288.8,517.4 L289.8,518.0 L290.8,518.6 L291.8,519.2 L292.8,519.7 L293.8,520.3 L294.8,520.8 L295.8,521.3 L296.8,521.7 L297.8,522.2 L298.8,522.6 L299.8,522.9 L300.8,523.3 L301.8,523.7 L302.8,524.0 L303.8,524.4 L304.8,524.7 L305.8,525.0 L306.8,525.2 L307.8,525.4 L308.8,525.6 L309.8,525.7 L310.8,525.7 L311.8,525.8 L312.8,525.8 L313.8,525.8 L314.8,525.7 L315.8,525.6 L316.8,525.3 L317.8,524.9 L318.8,524.4 L319.8,523.7" stroke="#52e044" stroke-width="1.9"/>
<path d="M39.8,509.5 L40.8,509.3 L41.8,509.1 L42.8,509.0 L43.8,508.8 L44.8,508.6 L45.8,508.4 L46.8,508.2 L47.8,508.0 L48.8,507.8 L49.8,507.5 L50.8,507.3 L51.8,507.1 L52.8,506.8 L53.8,506.6 L54.8,506.3 L55.8,506.1 L56.8,505.8 L57.8,505.6 L58.8,505.3 L59.8,505.0 L60.8,504.8 L61.8,504.5 L62.8,504.2 L63.8,503.9 L64.8,503.6 L65.8,503.3 L66.8,503.0 L67.8,502.7 L68.8,502.3 L69.8,502.0 L70.8,501.6 L71.8,501.2 L72.8,500.8 L73.8,500.4 L74.8,500.0 L75.8,499.5 L76.8,499.0 L77.8,498.5 L78.8,497.9 L79.8,497.3 L80.8,496.8 L81.8,496.2 L82.8,495.6 L83.8,494.9 L84.8,494.3 L85.8,493.7 L86.8,493.0 L87.8,492.4 L88.8,491.7 L89.8,491.0 L90.8,490.3 L91.8,489.5 L92.8,488.8 L93.8,488.0 L94.8,487.2 L95.8,486.4 L96.8,485.5 L97.8,484.6 L98.8,483.7 L99.8,482.7 L100.8,481.7 L101.8,480.7 L102.8,479.7 L103.8,478.6 L104.8,477.5 L105.8,476.4 L106.8,475.3 L107.8,474.1 L108.8,472.9 L109.8,471.7 L110.8,470.5 L111.8,469.2 L112.8,467.9 L113.8,466.6 L114.8,465.2 L115.8,463.8 L116.8,462.3 L117.8,460.7 L118.8,459.2 L119.8,457.5 L120.8,455.9 L121.8,454.2 L122.8,452.4 L123.8,450.6 L124.8,448.8 L125.8,446.9 L126.8,445.0 L127.8,443.1 L128.8,441.2 L129.8,439.2 L130.8,437.1 L131.8,435.0 L132.8,432.9 L133.8,430.7 L134.8,428.5 L135.8,426.2 L136.8,423.9 L137.8,421.6 L138.8,419.2 L139.8,416.9 L140.8,414.5 L141.8,412.1 L142.8,409.6 L143.8,407.1 L144.8,404.6 L145.8,402.0 L146.8,399.5 L147.8,397.1 L148.8,394.6 L149.8,392.3 L150.8,390.0 L151.8,387.7 L152.8,385.4 L153.8,383.2 L154.8,380.9 L155.8,378.7 L156.8,376.6 L157.8,374.6 L158.8,372.7 L159.8,370.8 L160.8,369.1 L161.8,367.4 L162.8,365.8 L163.8,364.2 L164.8,362.8 L165.8,361.3 L166.8,360.0 L167.8,358.7 L168.8,357.6 L169.8,356.5 L170.8,355.6 L171.8,354.8 L172.8,354.0 L173.8,353.3 L174.8,352.8 L175.8,352.5 L176.8,352.5 L177.8,352.5 L178.8,352.7 L179.8,353.0 L180.8,353.4 L181.8,354.0 L182.8,354.7 L183.8,355.6 L184.8,356.7 L185.8,357.9 L186.8,359.2 L187.8,360.5 L188.8,361.9 L189.8,363.4 L190.8,364.9 L191.8,366.5 L192.8,368.3 L193.8,370.2 L194.8,372.2 L195.8,374.4 L196.8,376.6 L197.8,378.9 L198.8,381.2 L199.8,383.5 L200.8,385.7 L201.8,387.9 L202.8,390.0 L203.8,392.1 L204.8,394.2 L205.8,396.3 L206.8,398.4 L207.8,400.4 L208.8,402.5 L209.8,404.6 L210.8,406.8 L211.8,408.9 L212.8,411.0 L213.8,413.2 L214.8,415.3 L215.8,417.5 L216.8,419.7 L217.8,421.9 L218.8,424.0 L219.8,426.3 L220.8,428.5 L221.8,430.7 L222.8,433.0 L223.8,435.3 L224.8,437.7 L225.8,440.1 L226.8,442.6 L227.8,445.1 L228.8,447.6 L229.8,450.1 L230.8,452.5 L231.8,454.9 L232.8,457.2 L233.8,459.4 L234.8,461.6 L235.8,463.6 L236.8,465.7 L237.8,467.7 L238.8,469.7 L239.8,471.6 L240.8,473.5 L241.8,475.2 L242.8,476.8 L243.8,478.3 L244.8,479.7 L245.8,481.0 L246.8,482.1 L247.8,483.2 L248.8,484.2 L249.8,485.1 L250.8,486.0 L251.8,486.9 L252.8,487.7 L253.8,488.5 L254.8,489.2 L255.8,489.9 L256.8,490.7 L257.8,491.3 L258.8,492.0 L259.8,492.6 L260.8,493.2 L261.8,493.8 L262.8,494.4 L263.8,495.0 L264.8,495.5 L265.8,496.1 L266.8,496.6 L267.8,497.2 L268.8,497.7 L269.8,498.2 L270.8,498.8 L271.8,499.3 L272.8,499.8 L273.8,500.3 L274.8,500.8 L275.8,501.3 L276.8,501.7 L277.8,502.1 L278.8,502.6 L279.8,503.0 L280.8,503.4 L281.8,503.8 L282.8,504.2 L283.8,504.5 L284.8,504.9 L285.8,505.2 L286.8,505.6 L287.8,505.9 L288.8,506.1 L289.8,506.4 L290.8,506.6 L291.8,506.8 L292.8,507.1 L293.8,507.3 L294.8,507.5 L295.8,507.6 L296.8,507.8 L297.8,508.0 L298.8,508.2 L299.8,508.3 L300.8,508.5 L301.8,508.7 L302.8,508.9 L303.8,509.1 L304.8,509.2 L305.8,509.4 L306.8,509.6 L307.8,509.7 L308.8,509.8 L309.8,509.8 L310.8,509.8 L311.8,509.8 L312.8,509.8 L313.8,509.7 L314.8,509.6 L315.8,509.4 L316.8,509.1 L317.8,508.7 L318.8,508.0 L319.8,507.2" stroke="#f8220c" stroke-width="1.9"/>
<path d="M39.8,512.7 L40.8,512.6 L41.8,512.5 L42.8,512.4 L43.8,512.3 L44.8,512.2 L45.8,512.1 L46.8,512.0 L47.8,511.8 L48.8,511.7 L49.8,511.6 L50.8,511.4 L51.8,511.3 L52.8,511.1 L53.8,510.9 L54.8,510.8 L55.8,510.6 L56.8,510.4 L57.8,510.2 L58.8,510.0 L59.8,509.7 L60.8,509.5 L61.8,509.3 L62.8,509.0 L63.8,508.8 L64.8,508.5 L65.8,508.3 L66.8,508.0 L67.8,507.7 L68.8,507.4 L69.8,507.1 L70.8,506.8 L71.8,506.4 L72.8,506.1 L73.8,505.7 L74.8,505.4 L75.8,505.0 L76.8,504.6 L77.8,504.2 L78.8,503.8 L79.8,503.4 L80.8,502.9 L81.8,502.5 L82.8,502.0 L83.8,501.5 L84.8,501.0 L85.8,500.5 L86.8,500.0 L87.8,499.5 L88.8,498.9 L89.8,498.4 L90.8,497.8 L91.8,497.2 L92.8,496.6 L93.8,496.0 L94.8,495.3 L95.8,494.7 L96.8,494.0 L97.8,493.3 L98.8,492.6 L99.8,491.9 L100.8,491.1 L101.8,490.3 L102.8,489.5 L103.8,488.6 L104.8,487.8 L105.8,486.9 L106.8,486.1 L107.8,485.2 L108.8,484.3 L109.8,483.4 L110.8,482.4 L111.8,481.4 L112.8,480.4 L113.8,479.4 L114.8,478.3 L115.8,477.2 L116.8,476.0 L117.8,474.8 L118.8,473.5 L119.8,472.2 L120.8,470.8 L121.8,469.5 L122.8,468.0 L123.8,466.6 L124.8,465.0 L125.8,463.5 L126.8,461.9 L127.8,460.3 L128.8,458.7 L129.8,457.0 L130.8,455.3 L131.8,453.6 L132.8,451.8 L133.8,450.0 L134.8,448.1 L135.8,446.2 L136.8,444.3 L137.8,442.3 L138.8,440.3 L139.8,438.3 L140.8,436.3 L141.8,434.2 L142.8,432.1 L143.8,430.0 L144.8,427.9 L145.8,425.7 L146.8,423.6 L147.8,421.5 L148.8,419.4 L149.8,417.3 L150.8,415.3 L151.8,413.3 L152.8,411.3 L153.8,409.3 L154.8,407.4 L155.8,405.5 L156.8,403.6 L157.8,401.7 L158.8,400.0 L159.8,398.3 L160.8,396.7 L161.8,395.2 L162.8,393.8 L163.8,392.4 L164.8,391.0 L165.8,389.7 L166.8,388.5 L167.8,387.4 L168.8,386.3 L169.8,385.3 L170.8,384.4 L171.8,383.6 L172.8,382.9 L173.8,382.3 L174.8,381.8 L175.8,381.5 L176.8,381.4 L177.8,381.4 L178.8,381.6 L179.8,381.8 L180.8,382.1 L181.8,382.6 L182.8,383.2 L183.8,384.1 L184.8,385.1 L185.8,386.2 L186.8,387.4 L187.8,388.7 L188.8,390.0 L189.8,391.4 L190.8,392.8 L191.8,394.3 L192.8,395.9 L193.8,397.6 L194.8,399.5 L195.8,401.5 L196.8,403.6 L197.8,405.7 L198.8,407.9 L199.8,410.0 L200.8,412.1 L201.8,414.3 L202.8,416.4 L203.8,418.5 L204.8,420.7 L205.8,422.9 L206.8,425.1 L207.8,427.3 L208.8,429.5 L209.8,431.7 L210.8,433.9 L211.8,436.1 L212.8,438.3 L213.8,440.4 L214.8,442.5 L215.8,444.7 L216.8,446.8 L217.8,448.9 L218.8,451.1 L219.8,453.2 L220.8,455.2 L221.8,457.3 L222.8,459.3 L223.8,461.3 L224.8,463.4 L225.8,465.4 L226.8,467.4 L227.8,469.4 L228.8,471.3 L229.8,473.2 L230.8,475.1 L231.8,477.0 L232.8,478.7 L233.8,480.5 L234.8,482.1 L235.8,483.7 L236.8,485.3 L237.8,486.8 L238.8,488.3 L239.8,489.7 L240.8,491.1 L241.8,492.5 L242.8,493.8 L243.8,495.0 L244.8,496.2 L245.8,497.3 L246.8,498.4 L247.8,499.4 L248.8,500.4 L249.8,501.3 L250.8,502.3 L251.8,503.2 L252.8,504.0 L253.8,504.8 L254.8,505.6 L255.8,506.3 L256.8,507.0 L257.8,507.6 L258.8,508.3 L259.8,508.9 L260.8,509.5 L261.8,510.0 L262.8,510.6 L263.8,511.1 L264.8,511.5 L265.8,512.0 L266.8,512.3 L267.8,512.7 L268.8,513.0 L269.8,513.4 L270.8,513.7 L271.8,514.0 L272.8,514.2 L273.8,514.5 L274.8,514.7 L275.8,514.9 L276.8,515.1 L277.8,515.3 L278.8,515.4 L279.8,515.6 L280.8,515.7 L281.8,515.8 L282.8,516.0 L283.8,516.1 L284.8,516.2 L285.8,516.3 L286.8,516.3 L287.8,516.4 L288.8,516.4 L289.8,516.4 L290.8,516.4 L291.8,516.4 L292.8,516.4 L293.8,516.4 L294.8,516.4 L295.8,516.4 L296.8,516.4 L297.8,516.4 L298.8,516.4 L299.8,516.4 L300.8,516.4 L301.8,516.4 L302.8,516.3 L303.8,516.3 L304.8,516.3 L305.8,516.2 L306.8,516.2 L307.8,516.1 L308.8,516.1 L309.8,516.0 L310.8,515.9 L311.8,515.9 L312.8,515.8 L313.8,515.7 L314.8,515.5 L315.8,515.3 L316.8,515.0 L317.8,514.6 L318.8,514.0 L319.8,513.3" stroke="#2238f2" stroke-width="1.9" stroke-dasharray="6.5 6" stroke-dashoffset="0.0"/>
<path d="M39.8,522.2 L40.8,522.0 L41.8,521.8 L42.8,521.5 L43.8,521.3 L44.8,521.0 L45.8,520.7 L46.8,520.5 L47.8,520.2 L48.8,519.9 L49.8,519.6 L50.8,519.3 L51.8,519.0 L52.8,518.6 L53.8,518.3 L54.8,518.0 L55.8,517.6 L56.8,517.2 L57.8,516.8 L58.8,516.5 L59.8,516.1 L60.8,515.7 L61.8,515.3 L62.8,514.9 L63.8,514.5 L64.8,514.1 L65.8,513.7 L66.8,513.3 L67.8,512.8 L68.8,512.4 L69.8,512.0 L70.8,511.5 L71.8,511.1 L72.8,510.6 L73.8,510.1 L74.8,509.6 L75.8,509.1 L76.8,508.6 L77.8,508.0 L78.8,507.5 L79.8,506.9 L80.8,506.4 L81.8,505.8 L82.8,505.2 L83.8,504.6 L84.8,503.9 L85.8,503.3 L86.8,502.7 L87.8,502.0 L88.8,501.3 L89.8,500.6 L90.8,499.9 L91.8,499.2 L92.8,498.5 L93.8,497.7 L94.8,497.0 L95.8,496.2 L96.8,495.4 L97.8,494.6 L98.8,493.8 L99.8,493.0 L100.8,492.1 L101.8,491.2 L102.8,490.3 L103.8,489.3 L104.8,488.4 L105.8,487.4 L106.8,486.4 L107.8,485.4 L108.8,484.4 L109.8,483.4 L110.8,482.3 L111.8,481.2 L112.8,480.1 L113.8,478.9 L114.8,477.7 L115.8,476.5 L116.8,475.2 L117.8,473.8 L118.8,472.5 L119.8,471.1 L120.8,469.7 L121.8,468.3 L122.8,466.9 L123.8,465.4 L124.8,463.9 L125.8,462.4 L126.8,460.8 L127.8,459.2 L128.8,457.6 L129.8,455.9 L130.8,454.2 L131.8,452.5 L132.8,450.7 L133.8,448.8 L134.8,446.9 L135.8,444.9 L136.8,442.9 L137.8,440.9 L138.8,438.9 L139.8,436.8 L140.8,434.7 L141.8,432.6 L142.8,430.5 L143.8,428.3 L144.8,426.1 L145.8,423.9 L146.8,421.7 L147.8,419.5 L148.8,417.3 L149.8,415.2 L150.8,413.1 L151.8,411.1 L152.8,409.0 L153.8,407.0 L154.8,405.0 L155.8,403.0 L156.8,401.0 L157.8,399.1 L158.8,397.3 L159.8,395.6 L160.8,393.9 L161.8,392.4 L162.8,390.9 L163.8,389.4 L164.8,388.0 L165.8,386.7 L166.8,385.4 L167.8,384.2 L168.8,383.1 L169.8,382.1 L170.8,381.2 L171.8,380.3 L172.8,379.6 L173.8,378.9 L174.8,378.3 L175.8,378.0 L176.8,378.0 L177.8,378.0 L178.8,378.2 L179.8,378.5 L180.8,378.9 L181.8,379.4 L182.8,380.1 L183.8,381.0 L184.8,382.0 L185.8,383.1 L186.8,384.3 L187.8,385.5 L188.8,386.8 L189.8,388.1 L190.8,389.5 L191.8,391.0 L192.8,392.5 L193.8,394.2 L194.8,395.9 L195.8,397.8 L196.8,399.7 L197.8,401.7 L198.8,403.8 L199.8,405.8 L200.8,407.9 L201.8,409.9 L202.8,412.0 L203.8,414.1 L204.8,416.2 L205.8,418.4 L206.8,420.6 L207.8,422.8 L208.8,425.0 L209.8,427.2 L210.8,429.5 L211.8,431.7 L212.8,433.9 L213.8,436.2 L214.8,438.4 L215.8,440.7 L216.8,443.0 L217.8,445.3 L218.8,447.6 L219.8,449.8 L220.8,452.0 L221.8,454.1 L222.8,456.1 L223.8,458.0 L224.8,459.9 L225.8,461.7 L226.8,463.5 L227.8,465.3 L228.8,467.0 L229.8,468.6 L230.8,470.2 L231.8,471.8 L232.8,473.2 L233.8,474.6 L234.8,475.8 L235.8,477.1 L236.8,478.2 L237.8,479.3 L238.8,480.4 L239.8,481.4 L240.8,482.4 L241.8,483.4 L242.8,484.3 L243.8,485.2 L244.8,486.1 L245.8,486.9 L246.8,487.8 L247.8,488.6 L248.8,489.4 L249.8,490.1 L250.8,490.9 L251.8,491.6 L252.8,492.3 L253.8,493.0 L254.8,493.7 L255.8,494.3 L256.8,495.0 L257.8,495.6 L258.8,496.2 L259.8,496.8 L260.8,497.4 L261.8,497.9 L262.8,498.5 L263.8,499.1 L264.8,499.7 L265.8,500.3 L266.8,501.0 L267.8,501.7 L268.8,502.4 L269.8,503.2 L270.8,504.0 L271.8,504.8 L272.8,505.6 L273.8,506.5 L274.8,507.3 L275.8,508.1 L276.8,508.9 L277.8,509.7 L278.8,510.5 L279.8,511.2 L280.8,512.0 L281.8,512.7 L282.8,513.4 L283.8,514.2 L284.8,514.9 L285.8,515.5 L286.8,516.2 L287.8,516.8 L288.8,517.4 L289.8,518.0 L290.8,518.6 L291.8,519.2 L292.8,519.7 L293.8,520.3 L294.8,520.8 L295.8,521.3 L296.8,521.7 L297.8,522.2 L298.8,522.6 L299.8,522.9 L300.8,523.3 L301.8,523.7 L302.8,524.0 L303.8,524.4 L304.8,524.7 L305.8,525.0 L306.8,525.2 L307.8,525.4 L308.8,525.6 L309.8,525.7 L310.8,525.7 L311.8,525.8 L312.8,525.8 L313.8,525.8 L314.8,525.7 L315.8,525.6 L316.8,525.3 L317.8,524.9 L318.8,524.4 L319.8,523.7" stroke="#52e044" stroke-width="1.9" stroke-dasharray="6.5 6" stroke-dashoffset="4.2"/>
<path d="M39.8,510.1 L40.8,510.0 L41.8,509.8 L42.8,509.6 L43.8,509.4 L44.8,509.3 L45.8,509.1 L46.8,508.8 L47.8,508.6 L48.8,508.4 L49.8,508.2 L50.8,507.9 L51.8,507.7 L52.8,507.4 L53.8,507.2 L54.8,506.9 L55.8,506.6 L56.8,506.4 L57.8,506.1 L58.8,505.8 L59.8,505.5 L60.8,505.2 L61.8,504.9 L62.8,504.6 L63.8,504.3 L64.8,504.0 L65.8,503.6 L66.8,503.3 L67.8,502.9 L68.8,502.5 L69.8,502.1 L70.8,501.7 L71.8,501.3 L72.8,500.9 L73.8,500.4 L74.8,499.9 L75.8,499.4 L76.8,498.8 L77.8,498.3 L78.8,497.7 L79.8,497.1 L80.8,496.5 L81.8,495.8 L82.8,495.2 L83.8,494.5 L84.8,493.9 L85.8,493.2 L86.8,492.5 L87.8,491.8 L88.8,491.1 L89.8,490.4 L90.8,489.6 L91.8,488.8 L92.8,488.0 L93.8,487.2 L94.8,486.4 L95.8,485.5 L96.8,484.6 L97.8,483.6 L98.8,482.7 L99.8,481.6 L100.8,480.6 L101.8,479.5 L102.8,478.4 L103.8,477.3 L104.8,476.1 L105.8,474.9 L106.8,473.8 L107.8,472.6 L108.8,471.3 L109.8,470.1 L110.8,468.8 L111.8,467.4 L112.8,466.1 L113.8,464.7 L114.8,463.3 L115.8,461.8 L116.8,460.2 L117.8,458.6 L118.8,457.0 L119.8,455.3 L120.8,453.5 L121.8,451.8 L122.8,450.0 L123.8,448.1 L124.8,446.2 L125.8,444.3 L126.8,442.4 L127.8,440.4 L128.8,438.4 L129.8,436.3 L130.8,434.2 L131.8,432.1 L132.8,429.9 L133.8,427.7 L134.8,425.4 L135.8,423.1 L136.8,420.8 L137.8,418.4 L138.8,416.0 L139.8,413.6 L140.8,411.2 L141.8,408.7 L142.8,406.2 L143.8,403.6 L144.8,401.1 L145.8,398.5 L146.8,396.0 L147.8,393.4 L148.8,391.0 L149.8,388.6 L150.8,386.3 L151.8,384.0 L152.8,381.7 L153.8,379.4 L154.8,377.2 L155.8,375.0 L156.8,372.9 L157.8,370.9 L158.8,368.9 L159.8,367.1 L160.8,365.3 L161.8,363.7 L162.8,362.1 L163.8,360.5 L164.8,359.0 L165.8,357.6 L166.8,356.3 L167.8,355.0 L168.8,353.9 L169.8,352.8 L170.8,351.9 L171.8,351.0 L172.8,350.3 L173.8,349.6 L174.8,349.1 L175.8,348.8 L176.8,348.7 L177.8,348.7 L178.8,348.8 L179.8,348.9 L180.8,349.2 L181.8,349.8 L182.8,350.5 L183.8,351.6 L184.8,352.8 L185.8,354.2 L186.8,355.7 L187.8,357.3 L188.8,359.0 L189.8,360.6 L190.8,362.2 L191.8,363.9 L192.8,365.7 L193.8,367.6 L194.8,369.5 L195.8,371.6 L196.8,373.8 L197.8,375.9 L198.8,378.1 L199.8,380.3 L200.8,382.5 L201.8,384.6 L202.8,386.7 L203.8,388.9 L204.8,391.0 L205.8,393.2 L206.8,395.3 L207.8,397.5 L208.8,399.7 L209.8,401.9 L210.8,404.0 L211.8,406.2 L212.8,408.4 L213.8,410.6 L214.8,412.8 L215.8,414.9 L216.8,417.1 L217.8,419.3 L218.8,421.4 L219.8,423.6 L220.8,425.9 L221.8,428.1 L222.8,430.4 L223.8,432.7 L224.8,435.1 L225.8,437.6 L226.8,440.1 L227.8,442.6 L228.8,445.2 L229.8,447.7 L230.8,450.2 L231.8,452.7 L232.8,455.0 L233.8,457.2 L234.8,459.4 L235.8,461.5 L236.8,463.5 L237.8,465.5 L238.8,467.5 L239.8,469.4 L240.8,471.2 L241.8,473.0 L242.8,474.6 L243.8,476.1 L244.8,477.5 L245.8,478.8 L246.8,480.0 L247.8,481.1 L248.8,482.2 L249.8,483.2 L250.8,484.1 L251.8,485.0 L252.8,485.9 L253.8,486.8 L254.8,487.6 L255.8,488.4 L256.8,489.2 L257.8,489.9 L258.8,490.7 L259.8,491.4 L260.8,492.1 L261.8,492.8 L262.8,493.5 L263.8,494.1 L264.8,494.7 L265.8,495.4 L266.8,496.0 L267.8,496.5 L268.8,497.1 L269.8,497.7 L270.8,498.2 L271.8,498.8 L272.8,499.3 L273.8,499.8 L274.8,500.3 L275.8,500.8 L276.8,501.2 L277.8,501.7 L278.8,502.2 L279.8,502.6 L280.8,503.1 L281.8,503.5 L282.8,504.0 L283.8,504.4 L284.8,504.8 L285.8,505.2 L286.8,505.5 L287.8,505.8 L288.8,506.1 L289.8,506.4 L290.8,506.6 L291.8,506.9 L292.8,507.1 L293.8,507.3 L294.8,507.5 L295.8,507.7 L296.8,507.8 L297.8,508.0 L298.8,508.2 L299.8,508.3 L300.8,508.5 L301.8,508.7 L302.8,508.9 L303.8,509.1 L304.8,509.2 L305.8,509.4 L306.8,509.6 L307.8,509.7 L308.8,509.8 L309.8,509.8 L310.8,509.8 L311.8,509.8 L312.8,509.8 L313.8,509.7 L314.8,509.6 L315.8,509.4 L316.8,509.1 L317.8,508.7 L318.8,508.0 L319.8,507.2" stroke="#f8220c" stroke-width="1.9" stroke-dasharray="6.5 6" stroke-dashoffset="8.4"/>
</g>
<rect x="39.8" y="341.1" width="280.0" height="210.4" fill="none" stroke="#262626" stroke-width="1.7"/>
<path d="M109.8,551.5v-3.7M109.8,341.1v3.7M179.8,551.5v-3.7M179.8,341.1v3.7M249.8,551.5v-3.7M249.8,341.1v3.7M39.8,521.4h3.7M319.8,521.4h-3.7M39.8,491.4h3.7M319.8,491.4h-3.7M39.8,461.3h3.7M319.8,461.3h-3.7M39.8,431.3h3.7M319.8,431.3h-3.7M39.8,401.2h3.7M319.8,401.2h-3.7M39.8,371.2h3.7M319.8,371.2h-3.7" stroke="#262626" stroke-width="1.5" fill="none"/>
<g font-family='"Liberation Sans", Arial, sans-serif' font-size="13.6" fill="#262626">
<text x="39.1" y="570.1" text-anchor="middle">-2</text>
<text x="109.1" y="570.1" text-anchor="middle">-1</text>
<text x="180.1" y="570.1" text-anchor="middle">0</text>
<text x="250.1" y="570.1" text-anchor="middle">1</text>
<text x="320.1" y="570.1" text-anchor="middle">2</text>
<text x="34.8" y="557.0" text-anchor="end">0.5</text>
<text x="34.8" y="526.9" text-anchor="end">1</text>
<text x="34.8" y="496.9" text-anchor="end">1.5</text>
<text x="34.8" y="466.8" text-anchor="end">2</text>
<text x="34.8" y="436.8" text-anchor="end">2.5</text>
<text x="34.8" y="406.7" text-anchor="end">3</text>
<text x="34.8" y="376.7" text-anchor="end">3.5</text>
<text x="34.8" y="346.6" text-anchor="end">4</text>
<text transform="translate(10.2,444.3) rotate(-90)" text-anchor="middle" font-style="italic" font-size="13.6">Sh</text>
</g>
<text x="179.6" y="588.3" text-anchor="middle" font-family='"Liberation Serif", "Times New Roman", serif' font-style="italic" font-size="12.6" fill="#444">ξ</text>
<g font-family='"Liberation Sans", Arial, sans-serif' font-size="10.3" fill="#1a1a1a">
<text x="144.5" y="520.8">__Fe<tspan font-size="8.2" dy="4.4">3</tspan><tspan dy="-4.4">O</tspan><tspan font-size="8.2" dy="4.4">4</tspan></text>
<text x="145.8" y="538.3">---Fe<tspan font-size="8.2" dy="4.4">3</tspan><tspan dy="-4.4">O</tspan><tspan font-size="8.2" dy="4.4">4</tspan><tspan dy="-4.4">-MWCNT</tspan></text>
</g>
<rect x="51.2" y="351.9" width="74.9" height="58.1" fill="#fff" stroke="#262626" stroke-width="1.6"/>
<path d="M54.1,362.8h25.4" stroke="#2238f2" stroke-width="1.5" fill="none"/>
<text x="82.1" y="367.0" font-family='"Liberation Sans", Arial, sans-serif' font-size="10.3" fill="#111"><tspan font-style="italic">St</tspan> = 0.03</text>
<path d="M54.1,380.9h25.4" stroke="#52e044" stroke-width="1.5" fill="none"/>
<text x="82.1" y="385.1" font-family='"Liberation Sans", Arial, sans-serif' font-size="10.3" fill="#111"><tspan font-style="italic">St</tspan> = 0.09</text>
<path d="M54.1,399.1h25.4" stroke="#f8220c" stroke-width="1.5" fill="none"/>
<text x="82.1" y="403.3" font-family='"Liberation Sans", Arial, sans-serif' font-size="10.3" fill="#111"><tspan font-style="italic">St</tspan> = 0.3</text>
<text x="166.9" y="632.0" text-anchor="middle" font-family='"Liberation Serif", "Times New Roman", serif' font-size="20.3" fill="#1a1a1a">(c)</text>
</g>
<g>
<clipPath id="clip_d"><rect x="402.2" y="340.1" width="281.0" height="212.4"/></clipPath>
<g clip-path="url(#clip_d)" fill="none" stroke-linejoin="round" stroke-linecap="butt">
<path d="M402.2,541.5 L403.2,541.5 L404.2,541.5 L405.2,541.5 L406.2,541.5 L407.2,541.5 L408.2,541.5 L409.2,541.5 L410.2,541.5 L411.2,541.5 L412.2,541.5 L413.2,541.5 L414.2,541.4 L415.2,541.4 L416.2,541.4 L417.2,541.3 L418.2,541.3 L419.2,541.2 L420.2,541.1 L421.2,541.0 L422.2,540.8 L423.2,540.7 L424.2,540.6 L425.2,540.4 L426.2,540.3 L427.2,540.1 L428.2,539.9 L429.2,539.7 L430.2,539.4 L431.2,539.1 L432.2,538.8 L433.2,538.5 L434.2,538.1 L435.2,537.7 L436.2,537.4 L437.2,537.0 L438.2,536.5 L439.2,536.1 L440.2,535.6 L441.2,535.1 L442.2,534.5 L443.2,533.9 L444.2,533.3 L445.2,532.7 L446.2,532.1 L447.2,531.4 L448.2,530.7 L449.2,530.0 L450.2,529.3 L451.2,528.5 L452.2,527.7 L453.2,526.9 L454.2,526.1 L455.2,525.2 L456.2,524.3 L457.2,523.3 L458.2,522.4 L459.2,521.4 L460.2,520.3 L461.2,519.3 L462.2,518.2 L463.2,517.0 L464.2,515.8 L465.2,514.6 L466.2,513.4 L467.2,512.1 L468.2,510.8 L469.2,509.4 L470.2,508.0 L471.2,506.6 L472.2,505.2 L473.2,503.6 L474.2,502.1 L475.2,500.5 L476.2,498.9 L477.2,497.2 L478.2,495.5 L479.2,493.8 L480.2,492.1 L481.2,490.3 L482.2,488.5 L483.2,486.6 L484.2,484.7 L485.2,482.8 L486.2,480.8 L487.2,478.8 L488.2,476.7 L489.2,474.6 L490.2,472.5 L491.2,470.3 L492.2,468.1 L493.2,465.8 L494.2,463.4 L495.2,461.0 L496.2,458.5 L497.2,456.0 L498.2,453.5 L499.2,450.9 L500.2,448.2 L501.2,445.5 L502.2,442.8 L503.2,440.0 L504.2,437.2 L505.2,434.3 L506.2,431.4 L507.2,428.5 L508.2,425.5 L509.2,422.6 L510.2,419.6 L511.2,416.7 L512.2,413.7 L513.2,410.7 L514.2,407.7 L515.2,404.6 L516.2,401.5 L517.2,398.4 L518.2,395.3 L519.2,392.3 L520.2,389.4 L521.2,386.6 L522.2,384.1 L523.2,381.7 L524.2,379.4 L525.2,377.2 L526.2,375.1 L527.2,373.1 L528.2,371.1 L529.2,369.3 L530.2,367.6 L531.2,366.0 L532.2,364.6 L533.2,363.4 L534.2,362.3 L535.2,361.2 L536.2,360.3 L537.2,359.6 L538.2,359.2 L539.2,359.0 L540.2,358.9 L541.2,358.9 L542.2,358.9 L543.2,359.0 L544.2,359.4 L545.2,359.9 L546.2,360.7 L547.2,361.6 L548.2,362.6 L549.2,363.9 L550.2,365.5 L551.2,367.3 L552.2,369.4 L553.2,371.6 L554.2,373.8 L555.2,376.0 L556.2,378.3 L557.2,380.6 L558.2,383.0 L559.2,385.5 L560.2,388.1 L561.2,390.7 L562.2,393.4 L563.2,396.2 L564.2,399.0 L565.2,401.8 L566.2,404.7 L567.2,407.7 L568.2,410.7 L569.2,413.8 L570.2,416.9 L571.2,420.1 L572.2,423.2 L573.2,426.4 L574.2,429.6 L575.2,432.8 L576.2,435.9 L577.2,439.1 L578.2,442.2 L579.2,445.4 L580.2,448.6 L581.2,451.7 L582.2,454.9 L583.2,458.0 L584.2,461.1 L585.2,464.1 L586.2,467.1 L587.2,470.0 L588.2,472.8 L589.2,475.6 L590.2,478.4 L591.2,481.1 L592.2,483.8 L593.2,486.4 L594.2,489.0 L595.2,491.4 L596.2,493.9 L597.2,496.2 L598.2,498.4 L599.2,500.6 L600.2,502.7 L601.2,504.8 L602.2,506.9 L603.2,508.8 L604.2,510.7 L605.2,512.6 L606.2,514.3 L607.2,516.0 L608.2,517.6 L609.2,519.1 L610.2,520.6 L611.2,522.0 L612.2,523.3 L613.2,524.6 L614.2,525.9 L615.2,527.1 L616.2,528.2 L617.2,529.3 L618.2,530.3 L619.2,531.2 L620.2,532.0 L621.2,532.8 L622.2,533.5 L623.2,534.2 L624.2,534.9 L625.2,535.5 L626.2,536.1 L627.2,536.6 L628.2,537.1 L629.2,537.6 L630.2,538.0 L631.2,538.4 L632.2,538.7 L633.2,539.0 L634.2,539.3 L635.2,539.6 L636.2,539.9 L637.2,540.1 L638.2,540.4 L639.2,540.6 L640.2,540.8 L641.2,541.0 L642.2,541.2 L643.2,541.3 L644.2,541.5 L645.2,541.7 L646.2,541.8 L647.2,542.0 L648.2,542.1 L649.2,542.2 L650.2,542.3 L651.2,542.5 L652.2,542.5 L653.2,542.6 L654.2,542.7 L655.2,542.8 L656.2,542.8 L657.2,542.9 L658.2,543.0 L659.2,543.0 L660.2,543.1 L661.2,543.1 L662.2,543.2 L663.2,543.2 L664.2,543.3 L665.2,543.3 L666.2,543.4 L667.2,543.4 L668.2,543.5 L669.2,543.5 L670.2,543.6 L671.2,543.6 L672.2,543.6 L673.2,543.6 L674.2,543.6 L675.2,543.6 L676.2,543.6 L677.2,543.6 L678.2,543.6 L679.2,543.4 L680.2,543.3 L681.2,542.7 L682.2,542.1" stroke="#2238f2" stroke-width="1.9"/>
<path d="M402.2,539.9 L403.2,539.9 L404.2,539.9 L405.2,539.9 L406.2,539.9 L407.2,539.9 L408.2,539.9 L409.2,539.9 L410.2,539.9 L411.2,539.9 L412.2,539.9 L413.2,539.9 L414.2,539.9 L415.2,539.9 L416.2,539.8 L417.2,539.8 L418.2,539.7 L419.2,539.5 L420.2,539.4 L421.2,539.2 L422.2,539.0 L423.2,538.9 L424.2,538.7 L425.2,538.5 L426.2,538.3 L427.2,538.1 L428.2,537.8 L429.2,537.6 L430.2,537.3 L431.2,536.9 L432.2,536.6 L433.2,536.2 L434.2,535.8 L435.2,535.4 L436.2,535.0 L437.2,534.5 L438.2,534.1 L439.2,533.6 L440.2,533.1 L441.2,532.5 L442.2,532.0 L443.2,531.4 L444.2,530.8 L445.2,530.1 L446.2,529.5 L447.2,528.8 L448.2,528.1 L449.2,527.4 L450.2,526.6 L451.2,525.8 L452.2,525.0 L453.2,524.1 L454.2,523.2 L455.2,522.3 L456.2,521.3 L457.2,520.4 L458.2,519.3 L459.2,518.3 L460.2,517.2 L461.2,516.1 L462.2,514.9 L463.2,513.6 L464.2,512.3 L465.2,511.0 L466.2,509.7 L467.2,508.3 L468.2,506.9 L469.2,505.5 L470.2,504.1 L471.2,502.6 L472.2,501.2 L473.2,499.7 L474.2,498.1 L475.2,496.5 L476.2,494.9 L477.2,493.3 L478.2,491.6 L479.2,489.9 L480.2,488.1 L481.2,486.4 L482.2,484.5 L483.2,482.7 L484.2,480.8 L485.2,478.9 L486.2,476.9 L487.2,474.9 L488.2,472.8 L489.2,470.7 L490.2,468.6 L491.2,466.4 L492.2,464.1 L493.2,461.9 L494.2,459.5 L495.2,457.1 L496.2,454.7 L497.2,452.2 L498.2,449.6 L499.2,447.0 L500.2,444.4 L501.2,441.6 L502.2,438.9 L503.2,436.1 L504.2,433.2 L505.2,430.2 L506.2,427.3 L507.2,424.2 L508.2,421.2 L509.2,418.1 L510.2,415.1 L511.2,412.0 L512.2,409.0 L513.2,405.9 L514.2,402.8 L515.2,399.7 L516.2,396.5 L517.2,393.3 L518.2,390.1 L519.2,387.0 L520.2,384.0 L521.2,381.1 L522.2,378.4 L523.2,375.8 L524.2,373.3 L525.2,370.8 L526.2,368.4 L527.2,366.1 L528.2,363.8 L529.2,361.7 L530.2,359.6 L531.2,357.8 L532.2,356.2 L533.2,354.8 L534.2,353.5 L535.2,352.4 L536.2,351.5 L537.2,350.7 L538.2,350.1 L539.2,349.7 L540.2,349.5 L541.2,349.4 L542.2,349.4 L543.2,349.5 L544.2,349.7 L545.2,350.2 L546.2,350.9 L547.2,351.8 L548.2,352.9 L549.2,354.2 L550.2,356.0 L551.2,358.1 L552.2,360.5 L553.2,363.0 L554.2,365.4 L555.2,367.8 L556.2,370.2 L557.2,372.6 L558.2,375.0 L559.2,377.4 L560.2,379.9 L561.2,382.5 L562.2,385.2 L563.2,387.9 L564.2,390.7 L565.2,393.6 L566.2,396.5 L567.2,399.6 L568.2,402.8 L569.2,406.0 L570.2,409.3 L571.2,412.7 L572.2,416.0 L573.2,419.4 L574.2,422.8 L575.2,426.1 L576.2,429.4 L577.2,432.6 L578.2,435.9 L579.2,439.2 L580.2,442.4 L581.2,445.7 L582.2,448.9 L583.2,452.1 L584.2,455.3 L585.2,458.4 L586.2,461.5 L587.2,464.6 L588.2,467.6 L589.2,470.6 L590.2,473.5 L591.2,476.5 L592.2,479.4 L593.2,482.3 L594.2,485.0 L595.2,487.7 L596.2,490.3 L597.2,492.8 L598.2,495.2 L599.2,497.5 L600.2,499.7 L601.2,501.9 L602.2,504.0 L603.2,506.0 L604.2,508.0 L605.2,509.8 L606.2,511.6 L607.2,513.3 L608.2,515.0 L609.2,516.5 L610.2,517.9 L611.2,519.3 L612.2,520.7 L613.2,522.0 L614.2,523.2 L615.2,524.4 L616.2,525.6 L617.2,526.6 L618.2,527.6 L619.2,528.6 L620.2,529.4 L621.2,530.3 L622.2,531.0 L623.2,531.8 L624.2,532.5 L625.2,533.2 L626.2,533.9 L627.2,534.5 L628.2,535.0 L629.2,535.5 L630.2,536.0 L631.2,536.5 L632.2,536.9 L633.2,537.3 L634.2,537.6 L635.2,538.0 L636.2,538.3 L637.2,538.6 L638.2,538.9 L639.2,539.2 L640.2,539.4 L641.2,539.6 L642.2,539.8 L643.2,540.0 L644.2,540.2 L645.2,540.4 L646.2,540.5 L647.2,540.7 L648.2,540.8 L649.2,540.9 L650.2,541.0 L651.2,541.1 L652.2,541.2 L653.2,541.3 L654.2,541.4 L655.2,541.5 L656.2,541.5 L657.2,541.6 L658.2,541.7 L659.2,541.7 L660.2,541.8 L661.2,541.8 L662.2,541.9 L663.2,541.9 L664.2,542.0 L665.2,542.0 L666.2,542.1 L667.2,542.1 L668.2,542.2 L669.2,542.2 L670.2,542.3 L671.2,542.3 L672.2,542.3 L673.2,542.3 L674.2,542.3 L675.2,542.3 L676.2,542.2 L677.2,542.2 L678.2,542.1 L679.2,541.9 L680.2,541.8 L681.2,541.2 L682.2,540.4" stroke="#52e044" stroke-width="1.9"/>
<path d="M402.2,539.3 L403.2,539.3 L404.2,539.3 L405.2,539.3 L406.2,539.3 L407.2,539.3 L408.2,539.3 L409.2,539.3 L410.2,539.3 L411.2,539.3 L412.2,539.3 L413.2,539.3 L414.2,539.3 L415.2,539.2 L416.2,539.2 L417.2,539.1 L418.2,539.0 L419.2,538.8 L420.2,538.6 L421.2,538.5 L422.2,538.3 L423.2,538.1 L424.2,537.8 L425.2,537.6 L426.2,537.4 L427.2,537.2 L428.2,536.9 L429.2,536.7 L430.2,536.4 L431.2,536.0 L432.2,535.7 L433.2,535.3 L434.2,534.9 L435.2,534.5 L436.2,534.1 L437.2,533.7 L438.2,533.2 L439.2,532.7 L440.2,532.2 L441.2,531.6 L442.2,531.0 L443.2,530.4 L444.2,529.8 L445.2,529.1 L446.2,528.4 L447.2,527.7 L448.2,527.0 L449.2,526.2 L450.2,525.5 L451.2,524.6 L452.2,523.8 L453.2,522.9 L454.2,522.0 L455.2,521.1 L456.2,520.1 L457.2,519.1 L458.2,518.0 L459.2,517.0 L460.2,515.9 L461.2,514.7 L462.2,513.5 L463.2,512.2 L464.2,510.9 L465.2,509.6 L466.2,508.2 L467.2,506.8 L468.2,505.4 L469.2,504.0 L470.2,502.6 L471.2,501.1 L472.2,499.6 L473.2,498.1 L474.2,496.6 L475.2,495.0 L476.2,493.4 L477.2,491.7 L478.2,490.1 L479.2,488.4 L480.2,486.6 L481.2,484.8 L482.2,483.0 L483.2,481.2 L484.2,479.3 L485.2,477.3 L486.2,475.4 L487.2,473.3 L488.2,471.3 L489.2,469.2 L490.2,467.0 L491.2,464.9 L492.2,462.6 L493.2,460.3 L494.2,458.0 L495.2,455.6 L496.2,453.1 L497.2,450.6 L498.2,448.1 L499.2,445.5 L500.2,442.9 L501.2,440.1 L502.2,437.4 L503.2,434.5 L504.2,431.6 L505.2,428.7 L506.2,425.7 L507.2,422.6 L508.2,419.6 L509.2,416.5 L510.2,413.4 L511.2,410.3 L512.2,407.3 L513.2,404.2 L514.2,401.1 L515.2,397.9 L516.2,394.8 L517.2,391.6 L518.2,388.4 L519.2,385.3 L520.2,382.3 L521.2,379.4 L522.2,376.7 L523.2,374.1 L524.2,371.5 L525.2,369.1 L526.2,366.7 L527.2,364.3 L528.2,362.1 L529.2,359.9 L530.2,357.9 L531.2,356.0 L532.2,354.2 L533.2,352.7 L534.2,351.2 L535.2,349.9 L536.2,348.7 L537.2,347.7 L538.2,346.9 L539.2,346.5 L540.2,346.1 L541.2,346.0 L542.2,345.9 L543.2,346.0 L544.2,346.4 L545.2,347.1 L546.2,348.1 L547.2,349.2 L548.2,350.6 L549.2,352.2 L550.2,354.1 L551.2,356.4 L552.2,358.9 L553.2,361.4 L554.2,363.9 L555.2,366.4 L556.2,368.8 L557.2,371.1 L558.2,373.5 L559.2,376.0 L560.2,378.5 L561.2,381.0 L562.2,383.7 L563.2,386.4 L564.2,389.2 L565.2,392.1 L566.2,395.0 L567.2,398.1 L568.2,401.3 L569.2,404.6 L570.2,408.0 L571.2,411.4 L572.2,414.8 L573.2,418.2 L574.2,421.6 L575.2,425.0 L576.2,428.3 L577.2,431.5 L578.2,434.8 L579.2,438.1 L580.2,441.4 L581.2,444.6 L582.2,447.9 L583.2,451.1 L584.2,454.2 L585.2,457.4 L586.2,460.4 L587.2,463.5 L588.2,466.5 L589.2,469.5 L590.2,472.4 L591.2,475.4 L592.2,478.3 L593.2,481.1 L594.2,483.9 L595.2,486.6 L596.2,489.2 L597.2,491.7 L598.2,494.1 L599.2,496.4 L600.2,498.7 L601.2,500.9 L602.2,503.0 L603.2,505.1 L604.2,507.1 L605.2,509.1 L606.2,510.9 L607.2,512.6 L608.2,514.3 L609.2,515.8 L610.2,517.3 L611.2,518.7 L612.2,520.1 L613.2,521.4 L614.2,522.6 L615.2,523.8 L616.2,524.9 L617.2,526.0 L618.2,527.0 L619.2,527.9 L620.2,528.8 L621.2,529.6 L622.2,530.3 L623.2,531.1 L624.2,531.8 L625.2,532.4 L626.2,533.1 L627.2,533.6 L628.2,534.2 L629.2,534.7 L630.2,535.2 L631.2,535.6 L632.2,536.0 L633.2,536.4 L634.2,536.8 L635.2,537.1 L636.2,537.4 L637.2,537.8 L638.2,538.0 L639.2,538.3 L640.2,538.6 L641.2,538.8 L642.2,539.0 L643.2,539.2 L644.2,539.3 L645.2,539.5 L646.2,539.7 L647.2,539.8 L648.2,539.9 L649.2,540.1 L650.2,540.2 L651.2,540.3 L652.2,540.4 L653.2,540.5 L654.2,540.5 L655.2,540.6 L656.2,540.7 L657.2,540.7 L658.2,540.8 L659.2,540.8 L660.2,540.9 L661.2,540.9 L662.2,541.0 L663.2,541.0 L664.2,541.1 L665.2,541.1 L666.2,541.2 L667.2,541.3 L668.2,541.3 L669.2,541.3 L670.2,541.4 L671.2,541.4 L672.2,541.4 L673.2,541.4 L674.2,541.4 L675.2,541.4 L676.2,541.4 L677.2,541.3 L678.2,541.2 L679.2,541.0 L680.2,540.9 L681.2,540.3 L682.2,539.5" stroke="#f8220c" stroke-width="1.9"/>
<path d="M402.2,542.3 L403.2,542.3 L404.2,542.3 L405.2,542.3 L406.2,542.3 L407.2,542.3 L408.2,542.3 L409.2,542.3 L410.2,542.3 L411.2,542.3 L412.2,542.3 L413.2,542.3 L414.2,542.3 L415.2,542.3 L416.2,542.2 L417.2,542.2 L418.2,542.1 L419.2,542.0 L420.2,541.9 L421.2,541.7 L422.2,541.6 L423.2,541.4 L424.2,541.3 L425.2,541.1 L426.2,540.9 L427.2,540.7 L428.2,540.5 L429.2,540.2 L430.2,540.0 L431.2,539.7 L432.2,539.3 L433.2,539.0 L434.2,538.6 L435.2,538.2 L436.2,537.8 L437.2,537.4 L438.2,536.9 L439.2,536.5 L440.2,535.9 L441.2,535.4 L442.2,534.8 L443.2,534.2 L444.2,533.6 L445.2,533.0 L446.2,532.3 L447.2,531.6 L448.2,530.9 L449.2,530.2 L450.2,529.5 L451.2,528.7 L452.2,527.9 L453.2,527.0 L454.2,526.2 L455.2,525.3 L456.2,524.3 L457.2,523.4 L458.2,522.4 L459.2,521.4 L460.2,520.3 L461.2,519.2 L462.2,518.0 L463.2,516.9 L464.2,515.6 L465.2,514.4 L466.2,513.1 L467.2,511.7 L468.2,510.4 L469.2,509.0 L470.2,507.6 L471.2,506.1 L472.2,504.6 L473.2,503.1 L474.2,501.5 L475.2,499.9 L476.2,498.2 L477.2,496.5 L478.2,494.8 L479.2,493.0 L480.2,491.2 L481.2,489.4 L482.2,487.5 L483.2,485.6 L484.2,483.7 L485.2,481.7 L486.2,479.7 L487.2,477.7 L488.2,475.6 L489.2,473.4 L490.2,471.2 L491.2,469.0 L492.2,466.7 L493.2,464.4 L494.2,462.0 L495.2,459.6 L496.2,457.1 L497.2,454.5 L498.2,451.9 L499.2,449.3 L500.2,446.6 L501.2,443.9 L502.2,441.1 L503.2,438.2 L504.2,435.3 L505.2,432.4 L506.2,429.4 L507.2,426.4 L508.2,423.3 L509.2,420.3 L510.2,417.2 L511.2,414.2 L512.2,411.2 L513.2,408.1 L514.2,405.0 L515.2,401.9 L516.2,398.7 L517.2,395.5 L518.2,392.4 L519.2,389.3 L520.2,386.3 L521.2,383.5 L522.2,380.9 L523.2,378.4 L524.2,376.1 L525.2,373.8 L526.2,371.7 L527.2,369.6 L528.2,367.5 L529.2,365.6 L530.2,363.9 L531.2,362.3 L532.2,360.8 L533.2,359.5 L534.2,358.3 L535.2,357.3 L536.2,356.3 L537.2,355.6 L538.2,355.1 L539.2,354.8 L540.2,354.6 L541.2,354.6 L542.2,354.6 L543.2,354.7 L544.2,355.0 L545.2,355.5 L546.2,356.3 L547.2,357.2 L548.2,358.3 L549.2,359.7 L550.2,361.4 L551.2,363.4 L552.2,365.7 L553.2,368.1 L554.2,370.5 L555.2,372.9 L556.2,375.2 L557.2,377.7 L558.2,380.1 L559.2,382.7 L560.2,385.3 L561.2,387.9 L562.2,390.7 L563.2,393.5 L564.2,396.3 L565.2,399.2 L566.2,402.2 L567.2,405.2 L568.2,408.4 L569.2,411.5 L570.2,414.8 L571.2,418.1 L572.2,421.3 L573.2,424.6 L574.2,427.9 L575.2,431.2 L576.2,434.4 L577.2,437.6 L578.2,440.8 L579.2,444.1 L580.2,447.3 L581.2,450.6 L582.2,453.8 L583.2,457.0 L584.2,460.1 L585.2,463.2 L586.2,466.2 L587.2,469.1 L588.2,472.0 L589.2,474.8 L590.2,477.6 L591.2,480.4 L592.2,483.1 L593.2,485.8 L594.2,488.4 L595.2,490.9 L596.2,493.4 L597.2,495.7 L598.2,498.0 L599.2,500.2 L600.2,502.4 L601.2,504.5 L602.2,506.5 L603.2,508.5 L604.2,510.4 L605.2,512.3 L606.2,514.1 L607.2,515.8 L608.2,517.4 L609.2,518.9 L610.2,520.4 L611.2,521.8 L612.2,523.2 L613.2,524.5 L614.2,525.8 L615.2,527.0 L616.2,528.2 L617.2,529.2 L618.2,530.2 L619.2,531.2 L620.2,532.0 L621.2,532.8 L622.2,533.6 L623.2,534.3 L624.2,535.0 L625.2,535.6 L626.2,536.2 L627.2,536.8 L628.2,537.3 L629.2,537.8 L630.2,538.2 L631.2,538.6 L632.2,539.0 L633.2,539.3 L634.2,539.6 L635.2,539.9 L636.2,540.2 L637.2,540.5 L638.2,540.7 L639.2,541.0 L640.2,541.2 L641.2,541.4 L642.2,541.6 L643.2,541.8 L644.2,541.9 L645.2,542.1 L646.2,542.2 L647.2,542.4 L648.2,542.5 L649.2,542.6 L650.2,542.8 L651.2,542.9 L652.2,543.0 L653.2,543.1 L654.2,543.2 L655.2,543.3 L656.2,543.4 L657.2,543.5 L658.2,543.5 L659.2,543.6 L660.2,543.7 L661.2,543.8 L662.2,543.8 L663.2,543.9 L664.2,543.9 L665.2,544.0 L666.2,544.0 L667.2,544.1 L668.2,544.1 L669.2,544.2 L670.2,544.2 L671.2,544.3 L672.2,544.3 L673.2,544.3 L674.2,544.3 L675.2,544.3 L676.2,544.3 L677.2,544.3 L678.2,544.2 L679.2,544.1 L680.2,543.9 L681.2,543.4 L682.2,542.7" stroke="#2238f2" stroke-width="1.9" stroke-dasharray="6.5 6" stroke-dashoffset="0.0"/>
<path d="M402.2,540.6 L403.2,540.6 L404.2,540.6 L405.2,540.6 L406.2,540.6 L407.2,540.6 L408.2,540.6 L409.2,540.6 L410.2,540.6 L411.2,540.6 L412.2,540.6 L413.2,540.6 L414.2,540.6 L415.2,540.5 L416.2,540.5 L417.2,540.4 L418.2,540.3 L419.2,540.1 L420.2,539.9 L421.2,539.8 L422.2,539.6 L423.2,539.4 L424.2,539.2 L425.2,538.9 L426.2,538.7 L427.2,538.5 L428.2,538.2 L429.2,537.9 L430.2,537.6 L431.2,537.3 L432.2,536.9 L433.2,536.5 L434.2,536.1 L435.2,535.7 L436.2,535.2 L437.2,534.8 L438.2,534.3 L439.2,533.8 L440.2,533.2 L441.2,532.7 L442.2,532.1 L443.2,531.5 L444.2,530.8 L445.2,530.2 L446.2,529.5 L447.2,528.8 L448.2,528.1 L449.2,527.3 L450.2,526.6 L451.2,525.7 L452.2,524.9 L453.2,524.0 L454.2,523.1 L455.2,522.1 L456.2,521.2 L457.2,520.2 L458.2,519.1 L459.2,518.1 L460.2,516.9 L461.2,515.8 L462.2,514.6 L463.2,513.3 L464.2,512.0 L465.2,510.7 L466.2,509.3 L467.2,507.9 L468.2,506.5 L469.2,505.1 L470.2,503.7 L471.2,502.2 L472.2,500.7 L473.2,499.1 L474.2,497.6 L475.2,496.0 L476.2,494.3 L477.2,492.7 L478.2,491.0 L479.2,489.3 L480.2,487.5 L481.2,485.7 L482.2,483.9 L483.2,482.0 L484.2,480.1 L485.2,478.1 L486.2,476.1 L487.2,474.1 L488.2,472.0 L489.2,469.9 L490.2,467.7 L491.2,465.5 L492.2,463.3 L493.2,461.0 L494.2,458.6 L495.2,456.2 L496.2,453.8 L497.2,451.3 L498.2,448.7 L499.2,446.2 L500.2,443.5 L501.2,440.8 L502.2,438.0 L503.2,435.2 L504.2,432.3 L505.2,429.3 L506.2,426.3 L507.2,423.3 L508.2,420.2 L509.2,417.1 L510.2,414.0 L511.2,411.0 L512.2,407.9 L513.2,404.8 L514.2,401.7 L515.2,398.6 L516.2,395.4 L517.2,392.2 L518.2,389.1 L519.2,386.0 L520.2,383.0 L521.2,380.1 L522.2,377.3 L523.2,374.7 L524.2,372.2 L525.2,369.7 L526.2,367.3 L527.2,364.9 L528.2,362.6 L529.2,360.4 L530.2,358.3 L531.2,356.5 L532.2,354.8 L533.2,353.3 L534.2,351.9 L535.2,350.7 L536.2,349.7 L537.2,348.8 L538.2,348.2 L539.2,347.8 L540.2,347.6 L541.2,347.4 L542.2,347.4 L543.2,347.5 L544.2,347.8 L545.2,348.4 L546.2,349.2 L547.2,350.2 L548.2,351.3 L549.2,352.8 L550.2,354.6 L551.2,356.8 L552.2,359.2 L553.2,361.7 L554.2,364.1 L555.2,366.5 L556.2,368.9 L557.2,371.3 L558.2,373.7 L559.2,376.1 L560.2,378.6 L561.2,381.2 L562.2,383.9 L563.2,386.6 L564.2,389.4 L565.2,392.3 L566.2,395.2 L567.2,398.3 L568.2,401.5 L569.2,404.8 L570.2,408.1 L571.2,411.5 L572.2,414.9 L573.2,418.3 L574.2,421.6 L575.2,425.0 L576.2,428.3 L577.2,431.6 L578.2,434.8 L579.2,438.1 L580.2,441.4 L581.2,444.7 L582.2,448.0 L583.2,451.2 L584.2,454.4 L585.2,457.5 L586.2,460.6 L587.2,463.7 L588.2,466.7 L589.2,469.7 L590.2,472.7 L591.2,475.7 L592.2,478.6 L593.2,481.5 L594.2,484.3 L595.2,487.0 L596.2,489.6 L597.2,492.1 L598.2,494.5 L599.2,496.9 L600.2,499.1 L601.2,501.3 L602.2,503.5 L603.2,505.6 L604.2,507.6 L605.2,509.5 L606.2,511.3 L607.2,513.1 L608.2,514.7 L609.2,516.3 L610.2,517.8 L611.2,519.2 L612.2,520.6 L613.2,521.9 L614.2,523.1 L615.2,524.4 L616.2,525.5 L617.2,526.6 L618.2,527.6 L619.2,528.5 L620.2,529.4 L621.2,530.3 L622.2,531.1 L623.2,531.9 L624.2,532.6 L625.2,533.3 L626.2,534.0 L627.2,534.6 L628.2,535.2 L629.2,535.7 L630.2,536.2 L631.2,536.7 L632.2,537.1 L633.2,537.5 L634.2,537.9 L635.2,538.2 L636.2,538.5 L637.2,538.8 L638.2,539.1 L639.2,539.4 L640.2,539.6 L641.2,539.9 L642.2,540.1 L643.2,540.3 L644.2,540.5 L645.2,540.7 L646.2,540.8 L647.2,541.0 L648.2,541.2 L649.2,541.3 L650.2,541.4 L651.2,541.6 L652.2,541.7 L653.2,541.8 L654.2,541.9 L655.2,542.0 L656.2,542.1 L657.2,542.2 L658.2,542.2 L659.2,542.3 L660.2,542.4 L661.2,542.4 L662.2,542.5 L663.2,542.6 L664.2,542.6 L665.2,542.7 L666.2,542.7 L667.2,542.8 L668.2,542.8 L669.2,542.9 L670.2,542.9 L671.2,542.9 L672.2,543.0 L673.2,543.0 L674.2,543.0 L675.2,542.9 L676.2,542.9 L677.2,542.8 L678.2,542.7 L679.2,542.5 L680.2,542.4 L681.2,541.8 L682.2,541.0" stroke="#52e044" stroke-width="1.9" stroke-dasharray="6.5 6" stroke-dashoffset="4.2"/>
<path d="M402.2,540.1 L403.2,540.1 L404.2,540.1 L405.2,540.1 L406.2,540.1 L407.2,540.1 L408.2,540.1 L409.2,540.1 L410.2,540.1 L411.2,540.1 L412.2,540.1 L413.2,540.1 L414.2,540.1 L415.2,540.1 L416.2,540.0 L417.2,539.9 L418.2,539.8 L419.2,539.6 L420.2,539.4 L421.2,539.2 L422.2,539.0 L423.2,538.8 L424.2,538.5 L425.2,538.3 L426.2,538.1 L427.2,537.8 L428.2,537.5 L429.2,537.2 L430.2,536.9 L431.2,536.6 L432.2,536.2 L433.2,535.8 L434.2,535.4 L435.2,535.0 L436.2,534.6 L437.2,534.1 L438.2,533.6 L439.2,533.1 L440.2,532.5 L441.2,532.0 L442.2,531.4 L443.2,530.7 L444.2,530.1 L445.2,529.4 L446.2,528.7 L447.2,528.0 L448.2,527.2 L449.2,526.4 L450.2,525.6 L451.2,524.8 L452.2,523.9 L453.2,523.0 L454.2,522.1 L455.2,521.1 L456.2,520.1 L457.2,519.1 L458.2,518.1 L459.2,517.0 L460.2,515.8 L461.2,514.6 L462.2,513.4 L463.2,512.1 L464.2,510.8 L465.2,509.5 L466.2,508.1 L467.2,506.7 L468.2,505.2 L469.2,503.8 L470.2,502.3 L471.2,500.9 L472.2,499.4 L473.2,497.8 L474.2,496.3 L475.2,494.7 L476.2,493.0 L477.2,491.4 L478.2,489.7 L479.2,487.9 L480.2,486.2 L481.2,484.4 L482.2,482.6 L483.2,480.7 L484.2,478.8 L485.2,476.8 L486.2,474.8 L487.2,472.8 L488.2,470.7 L489.2,468.6 L490.2,466.4 L491.2,464.2 L492.2,462.0 L493.2,459.6 L494.2,457.3 L495.2,454.9 L496.2,452.4 L497.2,449.9 L498.2,447.3 L499.2,444.7 L500.2,442.0 L501.2,439.3 L502.2,436.5 L503.2,433.6 L504.2,430.7 L505.2,427.7 L506.2,424.7 L507.2,421.6 L508.2,418.6 L509.2,415.4 L510.2,412.3 L511.2,409.3 L512.2,406.2 L513.2,403.1 L514.2,400.0 L515.2,396.8 L516.2,393.6 L517.2,390.5 L518.2,387.3 L519.2,384.2 L520.2,381.2 L521.2,378.3 L522.2,375.6 L523.2,373.0 L524.2,370.5 L525.2,368.0 L526.2,365.6 L527.2,363.3 L528.2,361.0 L529.2,358.9 L530.2,356.9 L531.2,355.0 L532.2,353.3 L533.2,351.8 L534.2,350.4 L535.2,349.1 L536.2,347.9 L537.2,347.0 L538.2,346.3 L539.2,345.8 L540.2,345.5 L541.2,345.3 L542.2,345.3 L543.2,345.4 L544.2,345.7 L545.2,346.4 L546.2,347.2 L547.2,348.3 L548.2,349.5 L549.2,351.0 L550.2,352.8 L551.2,355.0 L552.2,357.4 L553.2,359.8 L554.2,362.2 L555.2,364.5 L556.2,366.9 L557.2,369.2 L558.2,371.6 L559.2,374.0 L560.2,376.4 L561.2,379.0 L562.2,381.6 L563.2,384.3 L564.2,387.0 L565.2,389.9 L566.2,392.9 L567.2,395.9 L568.2,399.1 L569.2,402.4 L570.2,405.7 L571.2,409.1 L572.2,412.6 L573.2,416.0 L574.2,419.4 L575.2,422.8 L576.2,426.1 L577.2,429.4 L578.2,432.7 L579.2,436.0 L580.2,439.3 L581.2,442.6 L582.2,445.9 L583.2,449.2 L584.2,452.4 L585.2,455.5 L586.2,458.7 L587.2,461.7 L588.2,464.8 L589.2,467.8 L590.2,470.8 L591.2,473.7 L592.2,476.6 L593.2,479.5 L594.2,482.3 L595.2,485.0 L596.2,487.6 L597.2,490.2 L598.2,492.6 L599.2,494.9 L600.2,497.2 L601.2,499.5 L602.2,501.7 L603.2,503.8 L604.2,505.9 L605.2,507.8 L606.2,509.7 L607.2,511.5 L608.2,513.2 L609.2,514.8 L610.2,516.3 L611.2,517.7 L612.2,519.1 L613.2,520.5 L614.2,521.8 L615.2,523.0 L616.2,524.1 L617.2,525.2 L618.2,526.3 L619.2,527.2 L620.2,528.1 L621.2,529.0 L622.2,529.8 L623.2,530.6 L624.2,531.3 L625.2,532.0 L626.2,532.7 L627.2,533.3 L628.2,533.9 L629.2,534.4 L630.2,534.9 L631.2,535.4 L632.2,535.8 L633.2,536.2 L634.2,536.6 L635.2,537.0 L636.2,537.3 L637.2,537.6 L638.2,538.0 L639.2,538.2 L640.2,538.5 L641.2,538.8 L642.2,539.0 L643.2,539.2 L644.2,539.5 L645.2,539.7 L646.2,539.9 L647.2,540.1 L648.2,540.2 L649.2,540.4 L650.2,540.5 L651.2,540.7 L652.2,540.8 L653.2,540.9 L654.2,541.0 L655.2,541.1 L656.2,541.2 L657.2,541.3 L658.2,541.4 L659.2,541.4 L660.2,541.5 L661.2,541.6 L662.2,541.6 L663.2,541.7 L664.2,541.8 L665.2,541.9 L666.2,541.9 L667.2,542.0 L668.2,542.1 L669.2,542.2 L670.2,542.2 L671.2,542.3 L672.2,542.3 L673.2,542.3 L674.2,542.3 L675.2,542.3 L676.2,542.3 L677.2,542.2 L678.2,542.2 L679.2,542.1 L680.2,542.0 L681.2,541.4 L682.2,540.6" stroke="#f8220c" stroke-width="1.9" stroke-dasharray="6.5 6" stroke-dashoffset="8.4"/>
</g>
<rect x="402.2" y="341.1" width="280.0" height="210.4" fill="none" stroke="#262626" stroke-width="1.7"/>
<path d="M472.2,551.5v-3.7M472.2,341.1v3.7M542.2,551.5v-3.7M542.2,341.1v3.7M612.2,551.5v-3.7M612.2,341.1v3.7M402.2,509.4h3.7M682.2,509.4h-3.7M402.2,467.3h3.7M682.2,467.3h-3.7M402.2,425.3h3.7M682.2,425.3h-3.7M402.2,383.2h3.7M682.2,383.2h-3.7" stroke="#262626" stroke-width="1.5" fill="none"/>
<g font-family='"Liberation Sans", Arial, sans-serif' font-size="13.6" fill="#262626">
<text x="401.5" y="570.1" text-anchor="middle">-2</text>
<text x="471.5" y="570.1" text-anchor="middle">-1</text>
<text x="542.5" y="570.1" text-anchor="middle">0</text>
<text x="612.5" y="570.1" text-anchor="middle">1</text>
<text x="682.5" y="570.1" text-anchor="middle">2</text>
<text x="397.2" y="557.0" text-anchor="end">1</text>
<text x="397.2" y="514.9" text-anchor="end">1.5</text>
<text x="397.2" y="472.8" text-anchor="end">2</text>
<text x="397.2" y="430.8" text-anchor="end">2.5</text>
<text x="397.2" y="388.7" text-anchor="end">3</text>
<text x="397.2" y="346.6" text-anchor="end">3.5</text>
<text transform="translate(372.6,444.3) rotate(-90)" text-anchor="middle" font-style="italic" font-size="13.6">Sh</text>
</g>
<text x="542.0" y="588.3" text-anchor="middle" font-family='"Liberation Serif", "Times New Roman", serif' font-style="italic" font-size="12.6" fill="#444">ξ</text>
<g font-family='"Liberation Sans", Arial, sans-serif' font-size="10.3" fill="#1a1a1a">
<text x="506.9" y="520.8">__Fe<tspan font-size="8.2" dy="4.4">3</tspan><tspan dy="-4.4">O</tspan><tspan font-size="8.2" dy="4.4">4</tspan></text>
<text x="508.2" y="538.3">---Fe<tspan font-size="8.2" dy="4.4">3</tspan><tspan dy="-4.4">O</tspan><tspan font-size="8.2" dy="4.4">4</tspan><tspan dy="-4.4">-MWCNT</tspan></text>
</g>
<rect x="414.3" y="351.9" width="73.2" height="58.1" fill="#fff" stroke="#262626" stroke-width="1.6"/>
<path d="M417.4,362.8h25.4" stroke="#2238f2" stroke-width="1.5" fill="none"/>
<text x="445.2" y="367.0" font-family='"Liberation Sans", Arial, sans-serif' font-size="10.3" fill="#111"><tspan font-style="italic">Rd</tspan> = 0.4</text>
<path d="M417.4,380.9h25.4" stroke="#52e044" stroke-width="1.5" fill="none"/>
<text x="445.2" y="385.1" font-family='"Liberation Sans", Arial, sans-serif' font-size="10.3" fill="#111"><tspan font-style="italic">Rd</tspan> = 1.2</text>
<path d="M417.4,399.1h25.4" stroke="#f8220c" stroke-width="1.5" fill="none"/>
<text x="445.2" y="403.3" font-family='"Liberation Sans", Arial, sans-serif' font-size="10.3" fill="#111"><tspan font-style="italic">Rd</tspan> = 2</text>
<text x="542.7" y="632.0" text-anchor="middle" font-family='"Liberation Serif", "Times New Roman", serif' font-size="20.3" fill="#1a1a1a">(d)</text>
</g>
<g>
<clipPath id="clip_e"><rect x="39.8" y="676.4" width="281.0" height="212.6"/></clipPath>
<g clip-path="url(#clip_e)" fill="none" stroke-linejoin="round" stroke-linecap="butt">
<path d="M39.8,883.7 L40.8,883.7 L41.8,883.7 L42.8,883.6 L43.8,883.6 L44.8,883.6 L45.8,883.5 L46.8,883.5 L47.8,883.4 L48.8,883.3 L49.8,883.3 L50.8,883.2 L51.8,883.1 L52.8,883.1 L53.8,883.0 L54.8,882.9 L55.8,882.8 L56.8,882.7 L57.8,882.5 L58.8,882.4 L59.8,882.3 L60.8,882.1 L61.8,882.0 L62.8,881.8 L63.8,881.7 L64.8,881.5 L65.8,881.3 L66.8,881.1 L67.8,880.9 L68.8,880.7 L69.8,880.5 L70.8,880.2 L71.8,880.0 L72.8,879.7 L73.8,879.4 L74.8,879.1 L75.8,878.8 L76.8,878.5 L77.8,878.1 L78.8,877.8 L79.8,877.4 L80.8,877.0 L81.8,876.5 L82.8,876.1 L83.8,875.7 L84.8,875.2 L85.8,874.7 L86.8,874.2 L87.8,873.8 L88.8,873.2 L89.8,872.7 L90.8,872.2 L91.8,871.6 L92.8,871.1 L93.8,870.5 L94.8,869.9 L95.8,869.2 L96.8,868.6 L97.8,867.9 L98.8,867.2 L99.8,866.4 L100.8,865.7 L101.8,864.8 L102.8,864.0 L103.8,863.2 L104.8,862.3 L105.8,861.4 L106.8,860.5 L107.8,859.6 L108.8,858.6 L109.8,857.7 L110.8,856.7 L111.8,855.7 L112.8,854.6 L113.8,853.6 L114.8,852.5 L115.8,851.3 L116.8,850.2 L117.8,849.0 L118.8,847.7 L119.8,846.4 L120.8,845.1 L121.8,843.7 L122.8,842.3 L123.8,840.8 L124.8,839.3 L125.8,837.8 L126.8,836.2 L127.8,834.6 L128.8,833.0 L129.8,831.3 L130.8,829.6 L131.8,827.9 L132.8,826.1 L133.8,824.3 L134.8,822.4 L135.8,820.5 L136.8,818.5 L137.8,816.5 L138.8,814.5 L139.8,812.4 L140.8,810.3 L141.8,808.1 L142.8,805.8 L143.8,803.5 L144.8,801.1 L145.8,798.7 L146.8,796.3 L147.8,794.0 L148.8,791.7 L149.8,789.4 L150.8,787.2 L151.8,785.0 L152.8,782.8 L153.8,780.7 L154.8,778.5 L155.8,776.4 L156.8,774.3 L157.8,772.3 L158.8,770.4 L159.8,768.7 L160.8,767.0 L161.8,765.4 L162.8,763.9 L163.8,762.5 L164.8,761.1 L165.8,759.8 L166.8,758.5 L167.8,757.3 L168.8,756.2 L169.8,755.2 L170.8,754.3 L171.8,753.4 L172.8,752.7 L173.8,752.0 L174.8,751.4 L175.8,750.9 L176.8,750.6 L177.8,750.5 L178.8,750.4 L179.8,750.4 L180.8,750.5 L181.8,750.6 L182.8,751.0 L183.8,751.6 L184.8,752.5 L185.8,753.5 L186.8,754.8 L187.8,756.2 L188.8,757.7 L189.8,759.2 L190.8,760.7 L191.8,762.3 L192.8,763.9 L193.8,765.6 L194.8,767.4 L195.8,769.3 L196.8,771.4 L197.8,773.5 L198.8,775.7 L199.8,778.0 L200.8,780.3 L201.8,782.6 L202.8,784.9 L203.8,787.3 L204.8,789.6 L205.8,792.0 L206.8,794.5 L207.8,797.0 L208.8,799.5 L209.8,802.0 L210.8,804.5 L211.8,806.9 L212.8,809.3 L213.8,811.6 L214.8,813.8 L215.8,815.9 L216.8,818.1 L217.8,820.2 L218.8,822.3 L219.8,824.3 L220.8,826.3 L221.8,828.2 L222.8,830.2 L223.8,832.0 L224.8,833.9 L225.8,835.6 L226.8,837.4 L227.8,839.1 L228.8,840.8 L229.8,842.5 L230.8,844.1 L231.8,845.7 L232.8,847.3 L233.8,848.8 L234.8,850.3 L235.8,851.7 L236.8,853.1 L237.8,854.4 L238.8,855.7 L239.8,857.0 L240.8,858.3 L241.8,859.5 L242.8,860.7 L243.8,861.8 L244.8,862.9 L245.8,864.0 L246.8,865.0 L247.8,865.9 L248.8,866.8 L249.8,867.8 L250.8,868.6 L251.8,869.5 L252.8,870.3 L253.8,871.1 L254.8,871.8 L255.8,872.5 L256.8,873.1 L257.8,873.7 L258.8,874.2 L259.8,874.7 L260.8,875.2 L261.8,875.7 L262.8,876.2 L263.8,876.6 L264.8,877.0 L265.8,877.4 L266.8,877.7 L267.8,878.0 L268.8,878.3 L269.8,878.6 L270.8,878.8 L271.8,879.1 L272.8,879.3 L273.8,879.5 L274.8,879.7 L275.8,879.9 L276.8,880.1 L277.8,880.3 L278.8,880.4 L279.8,880.6 L280.8,880.7 L281.8,880.9 L282.8,881.0 L283.8,881.2 L284.8,881.3 L285.8,881.5 L286.8,881.6 L287.8,881.7 L288.8,881.8 L289.8,881.9 L290.8,882.0 L291.8,882.1 L292.8,882.2 L293.8,882.2 L294.8,882.3 L295.8,882.4 L296.8,882.5 L297.8,882.5 L298.8,882.6 L299.8,882.7 L300.8,882.8 L301.8,882.8 L302.8,882.9 L303.8,883.0 L304.8,883.1 L305.8,883.1 L306.8,883.2 L307.8,883.3 L308.8,883.3 L309.8,883.3 L310.8,883.3 L311.8,883.3 L312.8,883.3 L313.8,883.3 L314.8,883.3 L315.8,883.2 L316.8,883.0 L317.8,882.8 L318.8,882.1 L319.8,881.3" stroke="#2238f2" stroke-width="1.9"/>
<path d="M39.8,875.3 L40.8,875.3 L41.8,875.3 L42.8,875.2 L43.8,875.2 L44.8,875.2 L45.8,875.1 L46.8,875.1 L47.8,875.1 L48.8,875.0 L49.8,874.9 L50.8,874.9 L51.8,874.8 L52.8,874.8 L53.8,874.7 L54.8,874.6 L55.8,874.4 L56.8,874.3 L57.8,874.1 L58.8,874.0 L59.8,873.8 L60.8,873.6 L61.8,873.4 L62.8,873.2 L63.8,873.0 L64.8,872.8 L65.8,872.6 L66.8,872.4 L67.8,872.1 L68.8,871.9 L69.8,871.6 L70.8,871.3 L71.8,871.0 L72.8,870.7 L73.8,870.4 L74.8,870.0 L75.8,869.7 L76.8,869.3 L77.8,868.9 L78.8,868.4 L79.8,868.0 L80.8,867.5 L81.8,867.0 L82.8,866.4 L83.8,865.9 L84.8,865.3 L85.8,864.8 L86.8,864.2 L87.8,863.6 L88.8,863.0 L89.8,862.3 L90.8,861.7 L91.8,861.0 L92.8,860.3 L93.8,859.6 L94.8,858.8 L95.8,858.1 L96.8,857.3 L97.8,856.5 L98.8,855.7 L99.8,854.8 L100.8,854.0 L101.8,853.1 L102.8,852.2 L103.8,851.2 L104.8,850.3 L105.8,849.3 L106.8,848.3 L107.8,847.2 L108.8,846.2 L109.8,845.1 L110.8,843.9 L111.8,842.7 L112.8,841.4 L113.8,840.1 L114.8,838.8 L115.8,837.4 L116.8,836.0 L117.8,834.6 L118.8,833.2 L119.8,831.7 L120.8,830.2 L121.8,828.7 L122.8,827.1 L123.8,825.5 L124.8,823.8 L125.8,822.2 L126.8,820.4 L127.8,818.6 L128.8,816.8 L129.8,814.9 L130.8,813.0 L131.8,810.9 L132.8,808.8 L133.8,806.7 L134.8,804.5 L135.8,802.2 L136.8,799.9 L137.8,797.6 L138.8,795.2 L139.8,792.9 L140.8,790.5 L141.8,788.0 L142.8,785.5 L143.8,782.9 L144.8,780.3 L145.8,777.8 L146.8,775.2 L147.8,772.6 L148.8,770.1 L149.8,767.7 L150.8,765.4 L151.8,763.0 L152.8,760.7 L153.8,758.4 L154.8,756.1 L155.8,753.9 L156.8,751.7 L157.8,749.6 L158.8,747.7 L159.8,745.8 L160.8,744.1 L161.8,742.5 L162.8,741.0 L163.8,739.6 L164.8,738.2 L165.8,736.8 L166.8,735.6 L167.8,734.4 L168.8,733.3 L169.8,732.3 L170.8,731.4 L171.8,730.6 L172.8,729.8 L173.8,729.1 L174.8,728.5 L175.8,728.0 L176.8,727.8 L177.8,727.7 L178.8,727.7 L179.8,727.9 L180.8,728.1 L181.8,728.6 L182.8,729.2 L183.8,730.1 L184.8,731.3 L185.8,732.7 L186.8,734.3 L187.8,736.0 L188.8,737.9 L189.8,739.8 L190.8,741.7 L191.8,743.6 L192.8,745.5 L193.8,747.6 L194.8,749.7 L195.8,751.9 L196.8,754.3 L197.8,756.8 L198.8,759.3 L199.8,761.8 L200.8,764.4 L201.8,767.0 L202.8,769.6 L203.8,772.1 L204.8,774.7 L205.8,777.4 L206.8,780.0 L207.8,782.7 L208.8,785.4 L209.8,788.1 L210.8,790.7 L211.8,793.3 L212.8,795.9 L213.8,798.4 L214.8,800.9 L215.8,803.4 L216.8,805.8 L217.8,808.3 L218.8,810.6 L219.8,813.0 L220.8,815.3 L221.8,817.6 L222.8,819.8 L223.8,822.0 L224.8,824.0 L225.8,826.1 L226.8,828.1 L227.8,830.0 L228.8,832.0 L229.8,833.8 L230.8,835.7 L231.8,837.5 L232.8,839.2 L233.8,840.9 L234.8,842.5 L235.8,844.1 L236.8,845.6 L237.8,847.1 L238.8,848.6 L239.8,850.0 L240.8,851.4 L241.8,852.7 L242.8,854.0 L243.8,855.2 L244.8,856.3 L245.8,857.4 L246.8,858.4 L247.8,859.4 L248.8,860.4 L249.8,861.3 L250.8,862.2 L251.8,863.0 L252.8,863.8 L253.8,864.6 L254.8,865.3 L255.8,865.9 L256.8,866.5 L257.8,867.1 L258.8,867.6 L259.8,868.1 L260.8,868.5 L261.8,868.9 L262.8,869.3 L263.8,869.7 L264.8,870.1 L265.8,870.4 L266.8,870.7 L267.8,871.0 L268.8,871.3 L269.8,871.6 L270.8,871.9 L271.8,872.2 L272.8,872.4 L273.8,872.6 L274.8,872.9 L275.8,873.1 L276.8,873.3 L277.8,873.5 L278.8,873.7 L279.8,873.9 L280.8,874.0 L281.8,874.2 L282.8,874.4 L283.8,874.6 L284.8,874.7 L285.8,874.9 L286.8,875.0 L287.8,875.1 L288.8,875.3 L289.8,875.4 L290.8,875.5 L291.8,875.6 L292.8,875.7 L293.8,875.8 L294.8,875.9 L295.8,876.0 L296.8,876.1 L297.8,876.2 L298.8,876.3 L299.8,876.4 L300.8,876.4 L301.8,876.5 L302.8,876.6 L303.8,876.7 L304.8,876.8 L305.8,876.8 L306.8,876.9 L307.8,876.9 L308.8,877.0 L309.8,877.0 L310.8,877.0 L311.8,877.0 L312.8,877.0 L313.8,877.0 L314.8,877.0 L315.8,876.9 L316.8,876.7 L317.8,876.5 L318.8,875.8 L319.8,875.0" stroke="#52e044" stroke-width="1.9"/>
<path d="M39.8,866.6 L40.8,866.6 L41.8,866.6 L42.8,866.6 L43.8,866.6 L44.8,866.6 L45.8,866.6 L46.8,866.6 L47.8,866.6 L48.8,866.6 L49.8,866.6 L50.8,866.6 L51.8,866.6 L52.8,866.6 L53.8,866.5 L54.8,866.4 L55.8,866.3 L56.8,866.2 L57.8,866.0 L58.8,865.8 L59.8,865.6 L60.8,865.4 L61.8,865.2 L62.8,865.0 L63.8,864.8 L64.8,864.6 L65.8,864.4 L66.8,864.2 L67.8,863.9 L68.8,863.7 L69.8,863.4 L70.8,863.1 L71.8,862.8 L72.8,862.4 L73.8,862.1 L74.8,861.8 L75.8,861.4 L76.8,861.0 L77.8,860.5 L78.8,860.1 L79.8,859.6 L80.8,859.1 L81.8,858.6 L82.8,858.0 L83.8,857.5 L84.8,856.9 L85.8,856.3 L86.8,855.7 L87.8,855.0 L88.8,854.4 L89.8,853.7 L90.8,853.0 L91.8,852.2 L92.8,851.5 L93.8,850.7 L94.8,849.9 L95.8,849.0 L96.8,848.2 L97.8,847.4 L98.8,846.5 L99.8,845.6 L100.8,844.8 L101.8,843.9 L102.8,842.9 L103.8,842.0 L104.8,841.0 L105.8,840.0 L106.8,839.0 L107.8,837.9 L108.8,836.8 L109.8,835.6 L110.8,834.4 L111.8,833.1 L112.8,831.8 L113.8,830.4 L114.8,829.0 L115.8,827.5 L116.8,826.1 L117.8,824.5 L118.8,823.0 L119.8,821.4 L120.8,819.7 L121.8,818.1 L122.8,816.3 L123.8,814.6 L124.8,812.7 L125.8,810.9 L126.8,809.0 L127.8,807.0 L128.8,805.0 L129.8,802.9 L130.8,800.8 L131.8,798.5 L132.8,796.2 L133.8,793.8 L134.8,791.4 L135.8,788.9 L136.8,786.4 L137.8,783.9 L138.8,781.3 L139.8,778.8 L140.8,776.1 L141.8,773.5 L142.8,770.8 L143.8,768.0 L144.8,765.2 L145.8,762.4 L146.8,759.7 L147.8,756.9 L148.8,754.2 L149.8,751.5 L150.8,748.9 L151.8,746.3 L152.8,743.7 L153.8,741.1 L154.8,738.5 L155.8,735.9 L156.8,733.4 L157.8,731.0 L158.8,728.7 L159.8,726.6 L160.8,724.6 L161.8,722.8 L162.8,721.0 L163.8,719.3 L164.8,717.7 L165.8,716.1 L166.8,714.7 L167.8,713.3 L168.8,712.0 L169.8,710.8 L170.8,709.7 L171.8,708.8 L172.8,707.9 L173.8,707.1 L174.8,706.4 L175.8,705.9 L176.8,705.6 L177.8,705.4 L178.8,705.4 L179.8,705.5 L180.8,705.7 L181.8,706.1 L182.8,706.8 L183.8,707.7 L184.8,709.0 L185.8,710.6 L186.8,712.3 L187.8,714.3 L188.8,716.4 L189.8,718.5 L190.8,720.6 L191.8,722.8 L192.8,725.0 L193.8,727.2 L194.8,729.6 L195.8,732.2 L196.8,734.9 L197.8,737.6 L198.8,740.5 L199.8,743.3 L200.8,746.2 L201.8,749.1 L202.8,752.0 L203.8,754.8 L204.8,757.7 L205.8,760.5 L206.8,763.4 L207.8,766.3 L208.8,769.1 L209.8,772.0 L210.8,774.8 L211.8,777.7 L212.8,780.4 L213.8,783.1 L214.8,785.8 L215.8,788.5 L216.8,791.1 L217.8,793.8 L218.8,796.4 L219.8,798.9 L220.8,801.4 L221.8,803.9 L222.8,806.3 L223.8,808.7 L224.8,811.0 L225.8,813.2 L226.8,815.4 L227.8,817.6 L228.8,819.7 L229.8,821.8 L230.8,823.9 L231.8,825.9 L232.8,827.8 L233.8,829.7 L234.8,831.5 L235.8,833.2 L236.8,834.9 L237.8,836.5 L238.8,838.1 L239.8,839.7 L240.8,841.1 L241.8,842.6 L242.8,843.9 L243.8,845.2 L244.8,846.4 L245.8,847.6 L246.8,848.6 L247.8,849.6 L248.8,850.6 L249.8,851.5 L250.8,852.3 L251.8,853.2 L252.8,853.9 L253.8,854.7 L254.8,855.4 L255.8,856.1 L256.8,856.7 L257.8,857.4 L258.8,858.0 L259.8,858.6 L260.8,859.1 L261.8,859.7 L262.8,860.2 L263.8,860.7 L264.8,861.1 L265.8,861.6 L266.8,862.0 L267.8,862.4 L268.8,862.7 L269.8,863.1 L270.8,863.4 L271.8,863.7 L272.8,864.0 L273.8,864.3 L274.8,864.6 L275.8,864.9 L276.8,865.2 L277.8,865.4 L278.8,865.7 L279.8,866.0 L280.8,866.2 L281.8,866.5 L282.8,866.7 L283.8,867.0 L284.8,867.2 L285.8,867.4 L286.8,867.7 L287.8,867.9 L288.8,868.1 L289.8,868.3 L290.8,868.4 L291.8,868.6 L292.8,868.8 L293.8,868.9 L294.8,869.1 L295.8,869.2 L296.8,869.4 L297.8,869.5 L298.8,869.7 L299.8,869.8 L300.8,870.0 L301.8,870.2 L302.8,870.3 L303.8,870.5 L304.8,870.6 L305.8,870.8 L306.8,871.0 L307.8,871.1 L308.8,871.3 L309.8,871.4 L310.8,871.6 L311.8,871.8 L312.8,872.0 L313.8,872.2 L314.8,872.3 L315.8,872.3 L316.8,872.1 L317.8,871.8 L318.8,871.0 L319.8,870.0" stroke="#f8220c" stroke-width="1.9"/>
<path d="M39.8,883.6 L40.8,883.6 L41.8,883.5 L42.8,883.5 L43.8,883.5 L44.8,883.5 L45.8,883.4 L46.8,883.4 L47.8,883.3 L48.8,883.3 L49.8,883.2 L50.8,883.2 L51.8,883.1 L52.8,883.0 L53.8,883.0 L54.8,882.9 L55.8,882.7 L56.8,882.6 L57.8,882.5 L58.8,882.3 L59.8,882.2 L60.8,882.0 L61.8,881.9 L62.8,881.7 L63.8,881.6 L64.8,881.4 L65.8,881.2 L66.8,881.0 L67.8,880.8 L68.8,880.6 L69.8,880.4 L70.8,880.2 L71.8,879.9 L72.8,879.7 L73.8,879.4 L74.8,879.2 L75.8,878.9 L76.8,878.5 L77.8,878.2 L78.8,877.8 L79.8,877.4 L80.8,877.0 L81.8,876.6 L82.8,876.1 L83.8,875.7 L84.8,875.2 L85.8,874.7 L86.8,874.2 L87.8,873.7 L88.8,873.2 L89.8,872.7 L90.8,872.2 L91.8,871.6 L92.8,871.0 L93.8,870.4 L94.8,869.8 L95.8,869.2 L96.8,868.5 L97.8,867.9 L98.8,867.1 L99.8,866.4 L100.8,865.6 L101.8,864.8 L102.8,864.0 L103.8,863.2 L104.8,862.3 L105.8,861.4 L106.8,860.5 L107.8,859.6 L108.8,858.6 L109.8,857.7 L110.8,856.7 L111.8,855.6 L112.8,854.6 L113.8,853.5 L114.8,852.3 L115.8,851.2 L116.8,850.0 L117.8,848.8 L118.8,847.5 L119.8,846.2 L120.8,844.9 L121.8,843.5 L122.8,842.0 L123.8,840.5 L124.8,839.0 L125.8,837.5 L126.8,835.9 L127.8,834.2 L128.8,832.6 L129.8,830.9 L130.8,829.2 L131.8,827.4 L132.8,825.6 L133.8,823.7 L134.8,821.8 L135.8,819.9 L136.8,817.9 L137.8,815.9 L138.8,813.9 L139.8,811.8 L140.8,809.6 L141.8,807.4 L142.8,805.1 L143.8,802.8 L144.8,800.4 L145.8,798.1 L146.8,795.7 L147.8,793.3 L148.8,791.0 L149.8,788.7 L150.8,786.5 L151.8,784.4 L152.8,782.2 L153.8,780.0 L154.8,777.9 L155.8,775.7 L156.8,773.7 L157.8,771.7 L158.8,769.8 L159.8,768.0 L160.8,766.3 L161.8,764.8 L162.8,763.3 L163.8,761.8 L164.8,760.4 L165.8,759.1 L166.8,757.8 L167.8,756.6 L168.8,755.5 L169.8,754.5 L170.8,753.6 L171.8,752.8 L172.8,752.0 L173.8,751.3 L174.8,750.7 L175.8,750.3 L176.8,750.0 L177.8,749.8 L178.8,749.8 L179.8,749.8 L180.8,749.8 L181.8,750.0 L182.8,750.3 L183.8,750.9 L184.8,751.8 L185.8,752.9 L186.8,754.1 L187.8,755.5 L188.8,757.0 L189.8,758.5 L190.8,760.1 L191.8,761.6 L192.8,763.2 L193.8,764.9 L194.8,766.7 L195.8,768.7 L196.8,770.7 L197.8,772.9 L198.8,775.1 L199.8,777.3 L200.8,779.6 L201.8,782.0 L202.8,784.3 L203.8,786.6 L204.8,789.0 L205.8,791.4 L206.8,793.9 L207.8,796.4 L208.8,799.0 L209.8,801.5 L210.8,804.0 L211.8,806.4 L212.8,808.8 L213.8,811.1 L214.8,813.4 L215.8,815.6 L216.8,817.7 L217.8,819.8 L218.8,821.9 L219.8,824.0 L220.8,826.0 L221.8,828.0 L222.8,829.9 L223.8,831.8 L224.8,833.6 L225.8,835.4 L226.8,837.2 L227.8,839.0 L228.8,840.7 L229.8,842.4 L230.8,844.0 L231.8,845.7 L232.8,847.2 L233.8,848.8 L234.8,850.2 L235.8,851.7 L236.8,853.1 L237.8,854.4 L238.8,855.7 L239.8,857.0 L240.8,858.3 L241.8,859.5 L242.8,860.7 L243.8,861.8 L244.8,862.9 L245.8,864.0 L246.8,865.0 L247.8,865.9 L248.8,866.9 L249.8,867.8 L250.8,868.7 L251.8,869.6 L252.8,870.4 L253.8,871.2 L254.8,872.0 L255.8,872.6 L256.8,873.3 L257.8,873.9 L258.8,874.5 L259.8,875.0 L260.8,875.6 L261.8,876.1 L262.8,876.5 L263.8,877.0 L264.8,877.4 L265.8,877.8 L266.8,878.1 L267.8,878.4 L268.8,878.7 L269.8,879.0 L270.8,879.3 L271.8,879.5 L272.8,879.7 L273.8,879.9 L274.8,880.1 L275.8,880.3 L276.8,880.5 L277.8,880.7 L278.8,880.9 L279.8,881.0 L280.8,881.2 L281.8,881.3 L282.8,881.5 L283.8,881.6 L284.8,881.8 L285.8,881.9 L286.8,882.0 L287.8,882.1 L288.8,882.2 L289.8,882.3 L290.8,882.4 L291.8,882.5 L292.8,882.6 L293.8,882.7 L294.8,882.8 L295.8,882.8 L296.8,882.9 L297.8,883.0 L298.8,883.1 L299.8,883.1 L300.8,883.2 L301.8,883.3 L302.8,883.4 L303.8,883.4 L304.8,883.5 L305.8,883.6 L306.8,883.6 L307.8,883.7 L308.8,883.7 L309.8,883.8 L310.8,883.8 L311.8,883.8 L312.8,883.8 L313.8,883.8 L314.8,883.8 L315.8,883.7 L316.8,883.5 L317.8,883.2 L318.8,882.5 L319.8,881.8" stroke="#2238f2" stroke-width="1.9" stroke-dasharray="6.5 6" stroke-dashoffset="0.0"/>
<path d="M39.8,875.9 L40.8,875.9 L41.8,875.9 L42.8,875.9 L43.8,875.9 L44.8,875.8 L45.8,875.8 L46.8,875.8 L47.8,875.7 L48.8,875.7 L49.8,875.6 L50.8,875.5 L51.8,875.5 L52.8,875.4 L53.8,875.3 L54.8,875.2 L55.8,875.0 L56.8,874.9 L57.8,874.7 L58.8,874.5 L59.8,874.3 L60.8,874.1 L61.8,873.9 L62.8,873.7 L63.8,873.5 L64.8,873.3 L65.8,873.0 L66.8,872.8 L67.8,872.5 L68.8,872.2 L69.8,871.9 L70.8,871.6 L71.8,871.3 L72.8,871.0 L73.8,870.6 L74.8,870.3 L75.8,869.9 L76.8,869.5 L77.8,869.0 L78.8,868.6 L79.8,868.1 L80.8,867.6 L81.8,867.0 L82.8,866.5 L83.8,865.9 L84.8,865.4 L85.8,864.8 L86.8,864.2 L87.8,863.6 L88.8,862.9 L89.8,862.3 L90.8,861.6 L91.8,860.9 L92.8,860.2 L93.8,859.4 L94.8,858.7 L95.8,857.9 L96.8,857.1 L97.8,856.3 L98.8,855.4 L99.8,854.5 L100.8,853.6 L101.8,852.7 L102.8,851.8 L103.8,850.8 L104.8,849.8 L105.8,848.7 L106.8,847.7 L107.8,846.6 L108.8,845.5 L109.8,844.3 L110.8,843.1 L111.8,841.9 L112.8,840.6 L113.8,839.3 L114.8,837.9 L115.8,836.5 L116.8,835.1 L117.8,833.6 L118.8,832.1 L119.8,830.6 L120.8,829.0 L121.8,827.4 L122.8,825.8 L123.8,824.1 L124.8,822.4 L125.8,820.6 L126.8,818.9 L127.8,817.0 L128.8,815.1 L129.8,813.2 L130.8,811.2 L131.8,809.1 L132.8,806.9 L133.8,804.7 L134.8,802.5 L135.8,800.2 L136.8,797.8 L137.8,795.5 L138.8,793.1 L139.8,790.7 L140.8,788.3 L141.8,785.8 L142.8,783.2 L143.8,780.6 L144.8,778.0 L145.8,775.3 L146.8,772.7 L147.8,770.1 L148.8,767.6 L149.8,765.1 L150.8,762.7 L151.8,760.4 L152.8,758.0 L153.8,755.7 L154.8,753.3 L155.8,751.0 L156.8,748.8 L157.8,746.7 L158.8,744.7 L159.8,742.8 L160.8,741.1 L161.8,739.5 L162.8,737.9 L163.8,736.5 L164.8,735.1 L165.8,733.7 L166.8,732.4 L167.8,731.2 L168.8,730.1 L169.8,729.1 L170.8,728.1 L171.8,727.3 L172.8,726.5 L173.8,725.8 L174.8,725.1 L175.8,724.6 L176.8,724.3 L177.8,724.2 L178.8,724.2 L179.8,724.3 L180.8,724.5 L181.8,724.9 L182.8,725.5 L183.8,726.4 L184.8,727.7 L185.8,729.2 L186.8,730.9 L187.8,732.8 L188.8,734.8 L189.8,736.8 L190.8,738.9 L191.8,740.9 L192.8,742.9 L193.8,745.0 L194.8,747.2 L195.8,749.5 L196.8,751.9 L197.8,754.4 L198.8,756.9 L199.8,759.5 L200.8,762.1 L201.8,764.8 L202.8,767.4 L203.8,770.0 L204.8,772.6 L205.8,775.3 L206.8,778.0 L207.8,780.7 L208.8,783.4 L209.8,786.2 L210.8,788.9 L211.8,791.5 L212.8,794.1 L213.8,796.7 L214.8,799.2 L215.8,801.7 L216.8,804.2 L217.8,806.6 L218.8,809.0 L219.8,811.4 L220.8,813.7 L221.8,816.0 L222.8,818.2 L223.8,820.4 L224.8,822.5 L225.8,824.6 L226.8,826.6 L227.8,828.6 L228.8,830.6 L229.8,832.5 L230.8,834.4 L231.8,836.2 L232.8,838.0 L233.8,839.7 L234.8,841.4 L235.8,843.0 L236.8,844.6 L237.8,846.1 L238.8,847.6 L239.8,849.1 L240.8,850.5 L241.8,851.8 L242.8,853.2 L243.8,854.4 L244.8,855.6 L245.8,856.7 L246.8,857.8 L247.8,858.8 L248.8,859.8 L249.8,860.8 L250.8,861.7 L251.8,862.6 L252.8,863.5 L253.8,864.2 L254.8,865.0 L255.8,865.7 L256.8,866.3 L257.8,866.9 L258.8,867.5 L259.8,868.0 L260.8,868.5 L261.8,868.9 L262.8,869.4 L263.8,869.8 L264.8,870.2 L265.8,870.6 L266.8,870.9 L267.8,871.3 L268.8,871.6 L269.8,871.9 L270.8,872.2 L271.8,872.5 L272.8,872.7 L273.8,873.0 L274.8,873.2 L275.8,873.5 L276.8,873.7 L277.8,873.9 L278.8,874.1 L279.8,874.3 L280.8,874.5 L281.8,874.7 L282.8,874.9 L283.8,875.1 L284.8,875.3 L285.8,875.4 L286.8,875.6 L287.8,875.8 L288.8,875.9 L289.8,876.1 L290.8,876.2 L291.8,876.3 L292.8,876.5 L293.8,876.6 L294.8,876.7 L295.8,876.8 L296.8,877.0 L297.8,877.1 L298.8,877.1 L299.8,877.2 L300.8,877.3 L301.8,877.4 L302.8,877.5 L303.8,877.6 L304.8,877.6 L305.8,877.7 L306.8,877.8 L307.8,877.8 L308.8,877.8 L309.8,877.9 L310.8,877.9 L311.8,877.9 L312.8,877.9 L313.8,877.9 L314.8,877.9 L315.8,877.8 L316.8,877.6 L317.8,877.3 L318.8,876.7 L319.8,875.9" stroke="#52e044" stroke-width="1.9" stroke-dasharray="6.5 6" stroke-dashoffset="4.2"/>
<path d="M39.8,866.8 L40.8,866.8 L41.8,866.8 L42.8,866.8 L43.8,866.8 L44.8,866.8 L45.8,866.8 L46.8,866.8 L47.8,866.8 L48.8,866.8 L49.8,866.8 L50.8,866.8 L51.8,866.8 L52.8,866.7 L53.8,866.7 L54.8,866.6 L55.8,866.4 L56.8,866.3 L57.8,866.1 L58.8,865.9 L59.8,865.7 L60.8,865.4 L61.8,865.2 L62.8,865.0 L63.8,864.8 L64.8,864.5 L65.8,864.3 L66.8,864.1 L67.8,863.8 L68.8,863.5 L69.8,863.2 L70.8,862.9 L71.8,862.6 L72.8,862.3 L73.8,861.9 L74.8,861.6 L75.8,861.2 L76.8,860.8 L77.8,860.3 L78.8,859.8 L79.8,859.3 L80.8,858.8 L81.8,858.2 L82.8,857.7 L83.8,857.1 L84.8,856.5 L85.8,855.9 L86.8,855.2 L87.8,854.6 L88.8,853.9 L89.8,853.2 L90.8,852.4 L91.8,851.7 L92.8,850.9 L93.8,850.1 L94.8,849.2 L95.8,848.4 L96.8,847.5 L97.8,846.7 L98.8,845.8 L99.8,844.9 L100.8,843.9 L101.8,843.0 L102.8,842.0 L103.8,841.0 L104.8,839.9 L105.8,838.9 L106.8,837.8 L107.8,836.6 L108.8,835.4 L109.8,834.2 L110.8,832.9 L111.8,831.6 L112.8,830.1 L113.8,828.7 L114.8,827.2 L115.8,825.6 L116.8,824.1 L117.8,822.5 L118.8,820.8 L119.8,819.2 L120.8,817.4 L121.8,815.7 L122.8,813.9 L123.8,812.1 L124.8,810.2 L125.8,808.3 L126.8,806.3 L127.8,804.3 L128.8,802.2 L129.8,800.1 L130.8,797.9 L131.8,795.6 L132.8,793.2 L133.8,790.8 L134.8,788.4 L135.8,785.8 L136.8,783.3 L137.8,780.7 L138.8,778.1 L139.8,775.5 L140.8,772.8 L141.8,770.1 L142.8,767.3 L143.8,764.5 L144.8,761.7 L145.8,758.8 L146.8,755.9 L147.8,753.1 L148.8,750.3 L149.8,747.6 L150.8,744.9 L151.8,742.3 L152.8,739.7 L153.8,737.0 L154.8,734.4 L155.8,731.8 L156.8,729.3 L157.8,726.9 L158.8,724.6 L159.8,722.5 L160.8,720.5 L161.8,718.6 L162.8,716.9 L163.8,715.2 L164.8,713.5 L165.8,711.9 L166.8,710.4 L167.8,709.0 L168.8,707.7 L169.8,706.5 L170.8,705.4 L171.8,704.4 L172.8,703.5 L173.8,702.7 L174.8,701.9 L175.8,701.4 L176.8,701.0 L177.8,700.8 L178.8,700.8 L179.8,700.9 L180.8,701.0 L181.8,701.3 L182.8,702.0 L183.8,703.0 L184.8,704.4 L185.8,706.1 L186.8,708.1 L187.8,710.2 L188.8,712.5 L189.8,714.8 L190.8,717.1 L191.8,719.4 L192.8,721.7 L193.8,724.1 L194.8,726.5 L195.8,729.1 L196.8,731.7 L197.8,734.5 L198.8,737.3 L199.8,740.2 L200.8,743.0 L201.8,745.9 L202.8,748.7 L203.8,751.6 L204.8,754.4 L205.8,757.2 L206.8,760.1 L207.8,763.0 L208.8,765.8 L209.8,768.7 L210.8,771.5 L211.8,774.4 L212.8,777.1 L213.8,779.9 L214.8,782.6 L215.8,785.3 L216.8,788.0 L217.8,790.6 L218.8,793.2 L219.8,795.8 L220.8,798.4 L221.8,800.9 L222.8,803.4 L223.8,805.8 L224.8,808.1 L225.8,810.4 L226.8,812.7 L227.8,814.9 L228.8,817.1 L229.8,819.3 L230.8,821.4 L231.8,823.5 L232.8,825.5 L233.8,827.4 L234.8,829.3 L235.8,831.1 L236.8,832.8 L237.8,834.5 L238.8,836.1 L239.8,837.7 L240.8,839.3 L241.8,840.8 L242.8,842.2 L243.8,843.5 L244.8,844.8 L245.8,846.0 L246.8,847.1 L247.8,848.2 L248.8,849.3 L249.8,850.2 L250.8,851.2 L251.8,852.1 L252.8,853.0 L253.8,853.8 L254.8,854.6 L255.8,855.4 L256.8,856.1 L257.8,856.8 L258.8,857.5 L259.8,858.1 L260.8,858.7 L261.8,859.3 L262.8,859.9 L263.8,860.4 L264.8,861.0 L265.8,861.5 L266.8,861.9 L267.8,862.4 L268.8,862.8 L269.8,863.2 L270.8,863.6 L271.8,864.0 L272.8,864.4 L273.8,864.7 L274.8,865.1 L275.8,865.4 L276.8,865.7 L277.8,866.1 L278.8,866.4 L279.8,866.7 L280.8,867.0 L281.8,867.3 L282.8,867.6 L283.8,867.8 L284.8,868.1 L285.8,868.4 L286.8,868.6 L287.8,868.9 L288.8,869.2 L289.8,869.4 L290.8,869.6 L291.8,869.9 L292.8,870.1 L293.8,870.3 L294.8,870.5 L295.8,870.7 L296.8,871.0 L297.8,871.2 L298.8,871.4 L299.8,871.6 L300.8,871.8 L301.8,872.0 L302.8,872.2 L303.8,872.4 L304.8,872.7 L305.8,872.9 L306.8,873.1 L307.8,873.3 L308.8,873.4 L309.8,873.6 L310.8,873.8 L311.8,873.9 L312.8,874.1 L313.8,874.2 L314.8,874.3 L315.8,874.3 L316.8,874.1 L317.8,873.8 L318.8,873.1 L319.8,872.2" stroke="#f8220c" stroke-width="1.9" stroke-dasharray="6.5 6" stroke-dashoffset="8.4"/>
</g>
<rect x="39.8" y="677.4" width="280.0" height="210.6" fill="none" stroke="#262626" stroke-width="1.7"/>
<path d="M109.8,888.0v-3.7M109.8,677.4v3.7M179.8,888.0v-3.7M179.8,677.4v3.7M249.8,888.0v-3.7M249.8,677.4v3.7M39.8,857.9h3.7M319.8,857.9h-3.7M39.8,827.8h3.7M319.8,827.8h-3.7M39.8,797.7h3.7M319.8,797.7h-3.7M39.8,767.7h3.7M319.8,767.7h-3.7M39.8,737.6h3.7M319.8,737.6h-3.7M39.8,707.5h3.7M319.8,707.5h-3.7" stroke="#262626" stroke-width="1.5" fill="none"/>
<g font-family='"Liberation Sans", Arial, sans-serif' font-size="13.6" fill="#262626">
<text x="39.1" y="906.6" text-anchor="middle">-2</text>
<text x="109.1" y="906.6" text-anchor="middle">-1</text>
<text x="180.1" y="906.6" text-anchor="middle">0</text>
<text x="250.1" y="906.6" text-anchor="middle">1</text>
<text x="320.1" y="906.6" text-anchor="middle">2</text>
<text x="34.8" y="893.5" text-anchor="end">1</text>
<text x="34.8" y="863.4" text-anchor="end">1.5</text>
<text x="34.8" y="833.3" text-anchor="end">2</text>
<text x="34.8" y="803.2" text-anchor="end">2.5</text>
<text x="34.8" y="773.2" text-anchor="end">3</text>
<text x="34.8" y="743.1" text-anchor="end">3.5</text>
<text x="34.8" y="713.0" text-anchor="end">4</text>
<text x="34.8" y="682.9" text-anchor="end">4.5</text>
<text transform="translate(10.2,780.7) rotate(-90)" text-anchor="middle" font-style="italic" font-size="13.6">Sh</text>
</g>
<text x="179.6" y="924.8" text-anchor="middle" font-family='"Liberation Serif", "Times New Roman", serif' font-style="italic" font-size="12.6" fill="#444">ξ</text>
<g font-family='"Liberation Sans", Arial, sans-serif' font-size="10.3" fill="#1a1a1a">
<text x="144.5" y="857.3">__Fe<tspan font-size="8.2" dy="4.4">3</tspan><tspan dy="-4.4">O</tspan><tspan font-size="8.2" dy="4.4">4</tspan></text>
<text x="145.8" y="874.8">---Fe<tspan font-size="8.2" dy="4.4">3</tspan><tspan dy="-4.4">O</tspan><tspan font-size="8.2" dy="4.4">4</tspan><tspan dy="-4.4">-MWCNT</tspan></text>
</g>
<rect x="46.3" y="688.6" width="84.2" height="57.7" fill="#fff" stroke="#262626" stroke-width="1.6"/>
<path d="M49.4,699.5h25.4" stroke="#2238f2" stroke-width="1.5" fill="none"/>
<text x="77.2" y="703.7" font-family='"Liberation Sans", Arial, sans-serif' font-size="10.3" fill="#111"><tspan font-style="italic">Pem</tspan> = 280</text>
<path d="M49.4,717.6h25.4" stroke="#52e044" stroke-width="1.5" fill="none"/>
<text x="77.2" y="721.9" font-family='"Liberation Sans", Arial, sans-serif' font-size="10.3" fill="#111"><tspan font-style="italic">Pem</tspan> = 630</text>
<path d="M49.4,735.8h25.4" stroke="#f8220c" stroke-width="1.5" fill="none"/>
<text x="77.2" y="740.0" font-family='"Liberation Sans", Arial, sans-serif' font-size="10.3" fill="#111"><tspan font-style="italic">Pem</tspan> = 910</text>
<text x="168.4" y="968.5" text-anchor="middle" font-family='"Liberation Serif", "Times New Roman", serif' font-size="20.3" fill="#1a1a1a">(e)</text>
</g>
<g>
<clipPath id="clip_f"><rect x="402.2" y="676.4" width="281.0" height="212.6"/></clipPath>
<g clip-path="url(#clip_f)" fill="none" stroke-linejoin="round" stroke-linecap="butt">
<path d="M402.2,877.0 L403.2,877.0 L404.2,877.0 L405.2,877.0 L406.2,877.0 L407.2,877.0 L408.2,877.0 L409.2,877.0 L410.2,876.9 L411.2,876.9 L412.2,876.9 L413.2,876.9 L414.2,876.8 L415.2,876.8 L416.2,876.7 L417.2,876.7 L418.2,876.6 L419.2,876.4 L420.2,876.3 L421.2,876.1 L422.2,875.9 L423.2,875.7 L424.2,875.5 L425.2,875.2 L426.2,875.0 L427.2,874.8 L428.2,874.5 L429.2,874.2 L430.2,873.9 L431.2,873.6 L432.2,873.3 L433.2,872.9 L434.2,872.5 L435.2,872.1 L436.2,871.7 L437.2,871.3 L438.2,870.9 L439.2,870.4 L440.2,869.9 L441.2,869.4 L442.2,868.8 L443.2,868.2 L444.2,867.6 L445.2,867.0 L446.2,866.3 L447.2,865.7 L448.2,865.0 L449.2,864.2 L450.2,863.5 L451.2,862.7 L452.2,861.9 L453.2,861.1 L454.2,860.2 L455.2,859.3 L456.2,858.3 L457.2,857.4 L458.2,856.4 L459.2,855.3 L460.2,854.3 L461.2,853.1 L462.2,852.0 L463.2,850.8 L464.2,849.5 L465.2,848.2 L466.2,846.9 L467.2,845.5 L468.2,844.1 L469.2,842.7 L470.2,841.3 L471.2,839.9 L472.2,838.4 L473.2,836.9 L474.2,835.4 L475.2,833.9 L476.2,832.3 L477.2,830.7 L478.2,829.0 L479.2,827.3 L480.2,825.6 L481.2,823.7 L482.2,821.7 L483.2,819.7 L484.2,817.6 L485.2,815.5 L486.2,813.3 L487.2,811.0 L488.2,808.7 L489.2,806.3 L490.2,803.9 L491.2,801.5 L492.2,799.1 L493.2,796.6 L494.2,794.0 L495.2,791.5 L496.2,788.8 L497.2,786.2 L498.2,783.4 L499.2,780.7 L500.2,777.9 L501.2,775.1 L502.2,772.2 L503.2,769.4 L504.2,766.4 L505.2,763.5 L506.2,760.5 L507.2,757.4 L508.2,754.3 L509.2,751.3 L510.2,748.2 L511.2,745.1 L512.2,742.0 L513.2,739.0 L514.2,735.8 L515.2,732.6 L516.2,729.4 L517.2,726.2 L518.2,723.0 L519.2,720.0 L520.2,717.0 L521.2,714.3 L522.2,711.8 L523.2,709.4 L524.2,707.2 L525.2,705.0 L526.2,702.9 L527.2,700.9 L528.2,698.9 L529.2,697.1 L530.2,695.3 L531.2,693.8 L532.2,692.3 L533.2,691.0 L534.2,689.8 L535.2,688.8 L536.2,687.8 L537.2,687.0 L538.2,686.3 L539.2,685.9 L540.2,685.6 L541.2,685.5 L542.2,685.4 L543.2,685.4 L544.2,685.6 L545.2,686.1 L546.2,686.9 L547.2,687.9 L548.2,689.1 L549.2,690.6 L550.2,692.6 L551.2,695.1 L552.2,698.0 L553.2,701.0 L554.2,703.9 L555.2,706.7 L556.2,709.4 L557.2,712.1 L558.2,714.8 L559.2,717.6 L560.2,720.3 L561.2,723.1 L562.2,725.9 L563.2,728.8 L564.2,731.7 L565.2,734.7 L566.2,737.7 L567.2,740.9 L568.2,744.1 L569.2,747.4 L570.2,750.7 L571.2,754.0 L572.2,757.4 L573.2,760.8 L574.2,764.1 L575.2,767.4 L576.2,770.7 L577.2,774.0 L578.2,777.2 L579.2,780.5 L580.2,783.8 L581.2,787.1 L582.2,790.4 L583.2,793.6 L584.2,796.7 L585.2,799.8 L586.2,802.9 L587.2,805.8 L588.2,808.7 L589.2,811.5 L590.2,814.2 L591.2,816.9 L592.2,819.5 L593.2,822.1 L594.2,824.6 L595.2,827.0 L596.2,829.3 L597.2,831.6 L598.2,833.8 L599.2,835.9 L600.2,837.9 L601.2,840.0 L602.2,841.9 L603.2,843.8 L604.2,845.7 L605.2,847.4 L606.2,849.1 L607.2,850.6 L608.2,852.1 L609.2,853.5 L610.2,854.9 L611.2,856.2 L612.2,857.5 L613.2,858.7 L614.2,859.8 L615.2,860.9 L616.2,861.9 L617.2,862.9 L618.2,863.8 L619.2,864.6 L620.2,865.4 L621.2,866.1 L622.2,866.8 L623.2,867.5 L624.2,868.1 L625.2,868.7 L626.2,869.3 L627.2,869.8 L628.2,870.4 L629.2,870.8 L630.2,871.3 L631.2,871.8 L632.2,872.2 L633.2,872.6 L634.2,873.0 L635.2,873.4 L636.2,873.7 L637.2,874.0 L638.2,874.3 L639.2,874.6 L640.2,874.9 L641.2,875.1 L642.2,875.4 L643.2,875.6 L644.2,875.8 L645.2,876.0 L646.2,876.2 L647.2,876.4 L648.2,876.6 L649.2,876.7 L650.2,876.9 L651.2,877.1 L652.2,877.2 L653.2,877.4 L654.2,877.5 L655.2,877.6 L656.2,877.7 L657.2,877.9 L658.2,878.0 L659.2,878.1 L660.2,878.2 L661.2,878.3 L662.2,878.4 L663.2,878.4 L664.2,878.5 L665.2,878.6 L666.2,878.7 L667.2,878.8 L668.2,878.8 L669.2,878.9 L670.2,878.9 L671.2,878.9 L672.2,879.0 L673.2,879.0 L674.2,879.0 L675.2,879.0 L676.2,879.0 L677.2,879.0 L678.2,878.8 L679.2,878.6 L680.2,878.3 L681.2,877.6 L682.2,876.9" stroke="#2238f2" stroke-width="1.9"/>
<path d="M402.2,880.1 L403.2,880.1 L404.2,880.1 L405.2,880.1 L406.2,880.1 L407.2,880.0 L408.2,880.0 L409.2,880.0 L410.2,880.0 L411.2,880.0 L412.2,879.9 L413.2,879.9 L414.2,879.9 L415.2,879.9 L416.2,879.8 L417.2,879.8 L418.2,879.7 L419.2,879.6 L420.2,879.5 L421.2,879.4 L422.2,879.3 L423.2,879.1 L424.2,879.0 L425.2,878.8 L426.2,878.7 L427.2,878.5 L428.2,878.3 L429.2,878.0 L430.2,877.8 L431.2,877.5 L432.2,877.1 L433.2,876.8 L434.2,876.4 L435.2,876.0 L436.2,875.6 L437.2,875.2 L438.2,874.8 L439.2,874.4 L440.2,873.9 L441.2,873.4 L442.2,872.9 L443.2,872.3 L444.2,871.8 L445.2,871.2 L446.2,870.6 L447.2,869.9 L448.2,869.3 L449.2,868.6 L450.2,867.9 L451.2,867.2 L452.2,866.4 L453.2,865.6 L454.2,864.8 L455.2,864.0 L456.2,863.1 L457.2,862.2 L458.2,861.2 L459.2,860.3 L460.2,859.3 L461.2,858.3 L462.2,857.2 L463.2,856.1 L464.2,854.9 L465.2,853.7 L466.2,852.5 L467.2,851.3 L468.2,850.0 L469.2,848.7 L470.2,847.3 L471.2,846.0 L472.2,844.6 L473.2,843.2 L474.2,841.7 L475.2,840.2 L476.2,838.6 L477.2,837.1 L478.2,835.5 L479.2,833.8 L480.2,832.0 L481.2,830.2 L482.2,828.3 L483.2,826.4 L484.2,824.3 L485.2,822.3 L486.2,820.1 L487.2,817.9 L488.2,815.7 L489.2,813.4 L490.2,811.1 L491.2,808.7 L492.2,806.2 L493.2,803.7 L494.2,801.2 L495.2,798.5 L496.2,795.8 L497.2,793.1 L498.2,790.3 L499.2,787.4 L500.2,784.5 L501.2,781.7 L502.2,778.8 L503.2,775.9 L504.2,772.9 L505.2,770.0 L506.2,766.9 L507.2,763.9 L508.2,760.8 L509.2,757.8 L510.2,754.7 L511.2,751.6 L512.2,748.6 L513.2,745.5 L514.2,742.4 L515.2,739.2 L516.2,736.0 L517.2,732.8 L518.2,729.7 L519.2,726.6 L520.2,723.7 L521.2,720.9 L522.2,718.4 L523.2,715.9 L524.2,713.6 L525.2,711.4 L526.2,709.2 L527.2,707.1 L528.2,705.0 L529.2,703.1 L530.2,701.2 L531.2,699.5 L532.2,698.0 L533.2,696.6 L534.2,695.3 L535.2,694.1 L536.2,693.0 L537.2,692.0 L538.2,691.3 L539.2,690.7 L540.2,690.3 L541.2,690.0 L542.2,689.8 L543.2,689.8 L544.2,690.0 L545.2,690.5 L546.2,691.3 L547.2,692.2 L548.2,693.4 L549.2,694.8 L550.2,696.6 L551.2,698.7 L552.2,701.1 L553.2,703.6 L554.2,706.2 L555.2,708.7 L556.2,711.3 L557.2,714.0 L558.2,716.6 L559.2,719.4 L560.2,722.2 L561.2,725.0 L562.2,727.9 L563.2,730.9 L564.2,733.8 L565.2,736.8 L566.2,739.9 L567.2,743.1 L568.2,746.3 L569.2,749.5 L570.2,752.9 L571.2,756.2 L572.2,759.6 L573.2,762.9 L574.2,766.3 L575.2,769.6 L576.2,772.9 L577.2,776.1 L578.2,779.4 L579.2,782.7 L580.2,786.0 L581.2,789.3 L582.2,792.6 L583.2,795.8 L584.2,798.9 L585.2,802.0 L586.2,805.0 L587.2,808.0 L588.2,810.8 L589.2,813.7 L590.2,816.4 L591.2,819.1 L592.2,821.7 L593.2,824.3 L594.2,826.8 L595.2,829.2 L596.2,831.5 L597.2,833.8 L598.2,835.9 L599.2,838.1 L600.2,840.1 L601.2,842.1 L602.2,844.1 L603.2,846.0 L604.2,847.8 L605.2,849.5 L606.2,851.2 L607.2,852.8 L608.2,854.3 L609.2,855.7 L610.2,857.1 L611.2,858.5 L612.2,859.8 L613.2,861.0 L614.2,862.2 L615.2,863.3 L616.2,864.4 L617.2,865.4 L618.2,866.4 L619.2,867.3 L620.2,868.1 L621.2,868.9 L622.2,869.7 L623.2,870.5 L624.2,871.2 L625.2,871.8 L626.2,872.5 L627.2,873.1 L628.2,873.6 L629.2,874.1 L630.2,874.6 L631.2,875.0 L632.2,875.4 L633.2,875.8 L634.2,876.2 L635.2,876.5 L636.2,876.8 L637.2,877.1 L638.2,877.4 L639.2,877.7 L640.2,877.9 L641.2,878.2 L642.2,878.4 L643.2,878.6 L644.2,878.9 L645.2,879.1 L646.2,879.3 L647.2,879.5 L648.2,879.6 L649.2,879.8 L650.2,880.0 L651.2,880.1 L652.2,880.3 L653.2,880.4 L654.2,880.6 L655.2,880.7 L656.2,880.8 L657.2,880.9 L658.2,881.1 L659.2,881.2 L660.2,881.3 L661.2,881.3 L662.2,881.4 L663.2,881.5 L664.2,881.5 L665.2,881.6 L666.2,881.6 L667.2,881.7 L668.2,881.7 L669.2,881.7 L670.2,881.8 L671.2,881.8 L672.2,881.8 L673.2,881.8 L674.2,881.8 L675.2,881.8 L676.2,881.8 L677.2,881.8 L678.2,881.7 L679.2,881.4 L680.2,881.0 L681.2,880.3 L682.2,879.5" stroke="#52e044" stroke-width="1.9"/>
<path d="M402.2,884.8 L403.2,884.8 L404.2,884.8 L405.2,884.8 L406.2,884.8 L407.2,884.8 L408.2,884.7 L409.2,884.7 L410.2,884.7 L411.2,884.7 L412.2,884.6 L413.2,884.6 L414.2,884.6 L415.2,884.5 L416.2,884.5 L417.2,884.4 L418.2,884.3 L419.2,884.2 L420.2,884.1 L421.2,884.0 L422.2,883.9 L423.2,883.7 L424.2,883.6 L425.2,883.4 L426.2,883.2 L427.2,883.1 L428.2,882.9 L429.2,882.6 L430.2,882.4 L431.2,882.1 L432.2,881.8 L433.2,881.5 L434.2,881.2 L435.2,880.8 L436.2,880.5 L437.2,880.1 L438.2,879.7 L439.2,879.3 L440.2,878.9 L441.2,878.4 L442.2,877.9 L443.2,877.4 L444.2,876.9 L445.2,876.3 L446.2,875.7 L447.2,875.1 L448.2,874.5 L449.2,873.8 L450.2,873.1 L451.2,872.4 L452.2,871.6 L453.2,870.8 L454.2,870.0 L455.2,869.1 L456.2,868.3 L457.2,867.4 L458.2,866.4 L459.2,865.5 L460.2,864.5 L461.2,863.5 L462.2,862.5 L463.2,861.4 L464.2,860.4 L465.2,859.2 L466.2,858.1 L467.2,856.9 L468.2,855.7 L469.2,854.4 L470.2,853.2 L471.2,851.9 L472.2,850.5 L473.2,849.1 L474.2,847.7 L475.2,846.2 L476.2,844.7 L477.2,843.1 L478.2,841.5 L479.2,839.8 L480.2,838.1 L481.2,836.3 L482.2,834.5 L483.2,832.5 L484.2,830.5 L485.2,828.5 L486.2,826.4 L487.2,824.3 L488.2,822.1 L489.2,819.8 L490.2,817.5 L491.2,815.2 L492.2,812.8 L493.2,810.3 L494.2,807.7 L495.2,805.1 L496.2,802.4 L497.2,799.6 L498.2,796.8 L499.2,794.0 L500.2,791.1 L501.2,788.2 L502.2,785.3 L503.2,782.4 L504.2,779.5 L505.2,776.5 L506.2,773.5 L507.2,770.4 L508.2,767.3 L509.2,764.3 L510.2,761.2 L511.2,758.2 L512.2,755.1 L513.2,752.1 L514.2,749.0 L515.2,745.8 L516.2,742.7 L517.2,739.5 L518.2,736.4 L519.2,733.4 L520.2,730.6 L521.2,728.0 L522.2,725.5 L523.2,723.2 L524.2,721.0 L525.2,718.8 L526.2,716.8 L527.2,714.7 L528.2,712.8 L529.2,711.0 L530.2,709.2 L531.2,707.6 L532.2,706.1 L533.2,704.7 L534.2,703.5 L535.2,702.3 L536.2,701.2 L537.2,700.3 L538.2,699.5 L539.2,698.9 L540.2,698.4 L541.2,698.1 L542.2,697.8 L543.2,697.8 L544.2,697.9 L545.2,698.3 L546.2,698.8 L547.2,699.6 L548.2,700.4 L549.2,701.5 L550.2,702.8 L551.2,704.5 L552.2,706.3 L553.2,708.3 L554.2,710.4 L555.2,712.6 L556.2,714.9 L557.2,717.3 L558.2,719.9 L559.2,722.6 L560.2,725.4 L561.2,728.3 L562.2,731.2 L563.2,734.1 L564.2,737.1 L565.2,740.1 L566.2,743.2 L567.2,746.3 L568.2,749.5 L569.2,752.8 L570.2,756.1 L571.2,759.5 L572.2,762.8 L573.2,766.2 L574.2,769.5 L575.2,772.8 L576.2,776.1 L577.2,779.4 L578.2,782.7 L579.2,786.0 L580.2,789.3 L581.2,792.6 L582.2,795.8 L583.2,799.0 L584.2,802.2 L585.2,805.3 L586.2,808.3 L587.2,811.2 L588.2,814.1 L589.2,816.9 L590.2,819.7 L591.2,822.4 L592.2,825.0 L593.2,827.6 L594.2,830.0 L595.2,832.5 L596.2,834.8 L597.2,837.0 L598.2,839.2 L599.2,841.3 L600.2,843.4 L601.2,845.4 L602.2,847.4 L603.2,849.3 L604.2,851.1 L605.2,852.9 L606.2,854.5 L607.2,856.1 L608.2,857.6 L609.2,859.0 L610.2,860.3 L611.2,861.6 L612.2,862.9 L613.2,864.1 L614.2,865.2 L615.2,866.3 L616.2,867.3 L617.2,868.3 L618.2,869.2 L619.2,870.1 L620.2,870.9 L621.2,871.8 L622.2,872.5 L623.2,873.3 L624.2,874.0 L625.2,874.7 L626.2,875.3 L627.2,875.9 L628.2,876.4 L629.2,876.9 L630.2,877.4 L631.2,877.8 L632.2,878.2 L633.2,878.6 L634.2,879.0 L635.2,879.3 L636.2,879.7 L637.2,880.0 L638.2,880.2 L639.2,880.5 L640.2,880.8 L641.2,881.0 L642.2,881.3 L643.2,881.5 L644.2,881.7 L645.2,881.9 L646.2,882.1 L647.2,882.3 L648.2,882.5 L649.2,882.6 L650.2,882.8 L651.2,882.9 L652.2,883.1 L653.2,883.2 L654.2,883.3 L655.2,883.4 L656.2,883.5 L657.2,883.6 L658.2,883.7 L659.2,883.8 L660.2,883.9 L661.2,883.9 L662.2,884.0 L663.2,884.1 L664.2,884.2 L665.2,884.3 L666.2,884.3 L667.2,884.4 L668.2,884.5 L669.2,884.5 L670.2,884.6 L671.2,884.6 L672.2,884.6 L673.2,884.6 L674.2,884.6 L675.2,884.6 L676.2,884.6 L677.2,884.6 L678.2,884.5 L679.2,884.3 L680.2,884.0 L681.2,883.4 L682.2,882.8" stroke="#f8220c" stroke-width="1.9"/>
<path d="M402.2,878.5 L403.2,878.5 L404.2,878.5 L405.2,878.5 L406.2,878.5 L407.2,878.5 L408.2,878.5 L409.2,878.5 L410.2,878.5 L411.2,878.4 L412.2,878.4 L413.2,878.4 L414.2,878.4 L415.2,878.3 L416.2,878.3 L417.2,878.2 L418.2,878.1 L419.2,877.9 L420.2,877.8 L421.2,877.6 L422.2,877.3 L423.2,877.1 L424.2,876.9 L425.2,876.6 L426.2,876.3 L427.2,876.1 L428.2,875.8 L429.2,875.5 L430.2,875.2 L431.2,874.8 L432.2,874.5 L433.2,874.1 L434.2,873.7 L435.2,873.3 L436.2,872.9 L437.2,872.4 L438.2,871.9 L439.2,871.5 L440.2,870.9 L441.2,870.4 L442.2,869.8 L443.2,869.1 L444.2,868.5 L445.2,867.8 L446.2,867.1 L447.2,866.4 L448.2,865.7 L449.2,864.9 L450.2,864.1 L451.2,863.3 L452.2,862.5 L453.2,861.6 L454.2,860.7 L455.2,859.8 L456.2,858.8 L457.2,857.8 L458.2,856.8 L459.2,855.8 L460.2,854.7 L461.2,853.6 L462.2,852.4 L463.2,851.1 L464.2,849.9 L465.2,848.5 L466.2,847.2 L467.2,845.8 L468.2,844.4 L469.2,843.0 L470.2,841.5 L471.2,840.1 L472.2,838.6 L473.2,837.0 L474.2,835.5 L475.2,833.9 L476.2,832.3 L477.2,830.7 L478.2,829.0 L479.2,827.2 L480.2,825.4 L481.2,823.5 L482.2,821.5 L483.2,819.4 L484.2,817.3 L485.2,815.1 L486.2,812.8 L487.2,810.5 L488.2,808.2 L489.2,805.8 L490.2,803.3 L491.2,800.9 L492.2,798.4 L493.2,795.9 L494.2,793.3 L495.2,790.7 L496.2,788.0 L497.2,785.3 L498.2,782.5 L499.2,779.7 L500.2,776.9 L501.2,774.0 L502.2,771.1 L503.2,768.2 L504.2,765.3 L505.2,762.2 L506.2,759.2 L507.2,756.1 L508.2,753.0 L509.2,749.9 L510.2,746.7 L511.2,743.6 L512.2,740.5 L513.2,737.4 L514.2,734.2 L515.2,731.0 L516.2,727.8 L517.2,724.6 L518.2,721.4 L519.2,718.3 L520.2,715.4 L521.2,712.6 L522.2,710.1 L523.2,707.7 L524.2,705.4 L525.2,703.2 L526.2,701.0 L527.2,699.0 L528.2,697.0 L529.2,695.1 L530.2,693.3 L531.2,691.7 L532.2,690.2 L533.2,688.9 L534.2,687.6 L535.2,686.5 L536.2,685.5 L537.2,684.6 L538.2,684.0 L539.2,683.5 L540.2,683.2 L541.2,683.1 L542.2,683.0 L543.2,683.0 L544.2,683.3 L545.2,683.7 L546.2,684.5 L547.2,685.5 L548.2,686.7 L549.2,688.2 L550.2,690.2 L551.2,692.6 L552.2,695.3 L553.2,698.2 L554.2,701.1 L555.2,703.8 L556.2,706.5 L557.2,709.2 L558.2,711.9 L559.2,714.7 L560.2,717.4 L561.2,720.2 L562.2,723.0 L563.2,725.9 L564.2,728.8 L565.2,731.8 L566.2,734.9 L567.2,738.1 L568.2,741.3 L569.2,744.6 L570.2,747.9 L571.2,751.3 L572.2,754.7 L573.2,758.1 L574.2,761.4 L575.2,764.8 L576.2,768.1 L577.2,771.4 L578.2,774.7 L579.2,778.0 L580.2,781.4 L581.2,784.7 L582.2,788.0 L583.2,791.2 L584.2,794.4 L585.2,797.6 L586.2,800.6 L587.2,803.6 L588.2,806.5 L589.2,809.4 L590.2,812.2 L591.2,814.9 L592.2,817.6 L593.2,820.2 L594.2,822.7 L595.2,825.2 L596.2,827.5 L597.2,829.8 L598.2,832.0 L599.2,834.2 L600.2,836.3 L601.2,838.4 L602.2,840.4 L603.2,842.3 L604.2,844.2 L605.2,845.9 L606.2,847.7 L607.2,849.3 L608.2,850.8 L609.2,852.3 L610.2,853.7 L611.2,855.1 L612.2,856.4 L613.2,857.6 L614.2,858.9 L615.2,860.0 L616.2,861.1 L617.2,862.1 L618.2,863.1 L619.2,864.0 L620.2,864.8 L621.2,865.6 L622.2,866.4 L623.2,867.1 L624.2,867.8 L625.2,868.5 L626.2,869.1 L627.2,869.7 L628.2,870.3 L629.2,870.8 L630.2,871.4 L631.2,871.8 L632.2,872.3 L633.2,872.8 L634.2,873.2 L635.2,873.6 L636.2,874.0 L637.2,874.4 L638.2,874.7 L639.2,875.0 L640.2,875.3 L641.2,875.6 L642.2,875.9 L643.2,876.1 L644.2,876.3 L645.2,876.6 L646.2,876.8 L647.2,877.0 L648.2,877.2 L649.2,877.4 L650.2,877.6 L651.2,877.7 L652.2,877.9 L653.2,878.1 L654.2,878.2 L655.2,878.4 L656.2,878.5 L657.2,878.6 L658.2,878.8 L659.2,878.9 L660.2,879.0 L661.2,879.1 L662.2,879.2 L663.2,879.3 L664.2,879.5 L665.2,879.6 L666.2,879.7 L667.2,879.8 L668.2,879.9 L669.2,879.9 L670.2,880.0 L671.2,880.0 L672.2,880.1 L673.2,880.1 L674.2,880.1 L675.2,880.1 L676.2,880.1 L677.2,880.0 L678.2,879.9 L679.2,879.7 L680.2,879.3 L681.2,878.7 L682.2,878.0" stroke="#2238f2" stroke-width="1.9" stroke-dasharray="6.5 6" stroke-dashoffset="0.0"/>
<path d="M402.2,880.9 L403.2,880.9 L404.2,880.9 L405.2,880.9 L406.2,880.9 L407.2,880.9 L408.2,880.9 L409.2,880.9 L410.2,880.9 L411.2,880.8 L412.2,880.8 L413.2,880.8 L414.2,880.8 L415.2,880.7 L416.2,880.7 L417.2,880.6 L418.2,880.5 L419.2,880.4 L420.2,880.3 L421.2,880.2 L422.2,880.0 L423.2,879.9 L424.2,879.7 L425.2,879.5 L426.2,879.3 L427.2,879.1 L428.2,878.9 L429.2,878.6 L430.2,878.3 L431.2,878.0 L432.2,877.7 L433.2,877.3 L434.2,876.9 L435.2,876.5 L436.2,876.1 L437.2,875.7 L438.2,875.2 L439.2,874.8 L440.2,874.3 L441.2,873.8 L442.2,873.2 L443.2,872.7 L444.2,872.1 L445.2,871.5 L446.2,870.8 L447.2,870.2 L448.2,869.5 L449.2,868.8 L450.2,868.1 L451.2,867.4 L452.2,866.6 L453.2,865.8 L454.2,864.9 L455.2,864.1 L456.2,863.2 L457.2,862.2 L458.2,861.3 L459.2,860.3 L460.2,859.3 L461.2,858.2 L462.2,857.1 L463.2,856.0 L464.2,854.8 L465.2,853.6 L466.2,852.4 L467.2,851.1 L468.2,849.8 L469.2,848.5 L470.2,847.1 L471.2,845.7 L472.2,844.3 L473.2,842.9 L474.2,841.4 L475.2,839.9 L476.2,838.3 L477.2,836.7 L478.2,835.1 L479.2,833.4 L480.2,831.6 L481.2,829.8 L482.2,827.9 L483.2,825.9 L484.2,823.9 L485.2,821.8 L486.2,819.6 L487.2,817.4 L488.2,815.1 L489.2,812.8 L490.2,810.4 L491.2,808.0 L492.2,805.6 L493.2,803.0 L494.2,800.5 L495.2,797.8 L496.2,795.1 L497.2,792.3 L498.2,789.5 L499.2,786.6 L500.2,783.7 L501.2,780.8 L502.2,777.9 L503.2,775.0 L504.2,772.0 L505.2,769.0 L506.2,766.0 L507.2,762.9 L508.2,759.8 L509.2,756.7 L510.2,753.7 L511.2,750.6 L512.2,747.5 L513.2,744.4 L514.2,741.2 L515.2,738.0 L516.2,734.8 L517.2,731.6 L518.2,728.5 L519.2,725.4 L520.2,722.4 L521.2,719.7 L522.2,717.1 L523.2,714.6 L524.2,712.3 L525.2,710.0 L526.2,707.8 L527.2,705.7 L528.2,703.6 L529.2,701.7 L530.2,699.8 L531.2,698.1 L532.2,696.5 L533.2,695.0 L534.2,693.7 L535.2,692.5 L536.2,691.4 L537.2,690.4 L538.2,689.6 L539.2,689.0 L540.2,688.5 L541.2,688.3 L542.2,688.1 L543.2,688.1 L544.2,688.3 L545.2,688.8 L546.2,689.5 L547.2,690.5 L548.2,691.7 L549.2,693.1 L550.2,694.9 L551.2,697.0 L552.2,699.5 L553.2,702.0 L554.2,704.6 L555.2,707.2 L556.2,709.8 L557.2,712.5 L558.2,715.2 L559.2,717.9 L560.2,720.7 L561.2,723.5 L562.2,726.4 L563.2,729.3 L564.2,732.3 L565.2,735.3 L566.2,738.4 L567.2,741.6 L568.2,744.8 L569.2,748.1 L570.2,751.4 L571.2,754.8 L572.2,758.2 L573.2,761.5 L574.2,764.9 L575.2,768.2 L576.2,771.6 L577.2,774.9 L578.2,778.2 L579.2,781.5 L580.2,784.9 L581.2,788.2 L582.2,791.5 L583.2,794.7 L584.2,797.9 L585.2,801.1 L586.2,804.1 L587.2,807.1 L588.2,810.0 L589.2,812.8 L590.2,815.6 L591.2,818.3 L592.2,821.0 L593.2,823.6 L594.2,826.1 L595.2,828.5 L596.2,830.8 L597.2,833.1 L598.2,835.3 L599.2,837.4 L600.2,839.5 L601.2,841.5 L602.2,843.5 L603.2,845.4 L604.2,847.3 L605.2,849.0 L606.2,850.7 L607.2,852.3 L608.2,853.9 L609.2,855.3 L610.2,856.7 L611.2,858.1 L612.2,859.4 L613.2,860.7 L614.2,861.9 L615.2,863.0 L616.2,864.1 L617.2,865.2 L618.2,866.1 L619.2,867.1 L620.2,867.9 L621.2,868.8 L622.2,869.6 L623.2,870.3 L624.2,871.1 L625.2,871.8 L626.2,872.4 L627.2,873.0 L628.2,873.6 L629.2,874.1 L630.2,874.6 L631.2,875.0 L632.2,875.5 L633.2,875.9 L634.2,876.3 L635.2,876.6 L636.2,877.0 L637.2,877.3 L638.2,877.6 L639.2,877.9 L640.2,878.2 L641.2,878.4 L642.2,878.7 L643.2,878.9 L644.2,879.2 L645.2,879.4 L646.2,879.6 L647.2,879.8 L648.2,880.0 L649.2,880.2 L650.2,880.4 L651.2,880.5 L652.2,880.7 L653.2,880.8 L654.2,881.0 L655.2,881.1 L656.2,881.2 L657.2,881.4 L658.2,881.5 L659.2,881.6 L660.2,881.7 L661.2,881.8 L662.2,881.8 L663.2,881.9 L664.2,882.0 L665.2,882.1 L666.2,882.2 L667.2,882.2 L668.2,882.3 L669.2,882.4 L670.2,882.4 L671.2,882.4 L672.2,882.5 L673.2,882.5 L674.2,882.5 L675.2,882.5 L676.2,882.5 L677.2,882.4 L678.2,882.3 L679.2,882.0 L680.2,881.7 L681.2,880.9 L682.2,880.1" stroke="#52e044" stroke-width="1.9" stroke-dasharray="6.5 6" stroke-dashoffset="4.2"/>
<path d="M402.2,885.5 L403.2,885.5 L404.2,885.5 L405.2,885.5 L406.2,885.4 L407.2,885.4 L408.2,885.4 L409.2,885.4 L410.2,885.3 L411.2,885.3 L412.2,885.3 L413.2,885.3 L414.2,885.2 L415.2,885.2 L416.2,885.1 L417.2,885.1 L418.2,885.0 L419.2,884.9 L420.2,884.7 L421.2,884.6 L422.2,884.4 L423.2,884.3 L424.2,884.1 L425.2,883.9 L426.2,883.7 L427.2,883.5 L428.2,883.3 L429.2,883.0 L430.2,882.7 L431.2,882.4 L432.2,882.1 L433.2,881.8 L434.2,881.4 L435.2,881.1 L436.2,880.7 L437.2,880.3 L438.2,879.9 L439.2,879.5 L440.2,879.1 L441.2,878.6 L442.2,878.1 L443.2,877.5 L444.2,877.0 L445.2,876.4 L446.2,875.8 L447.2,875.1 L448.2,874.5 L449.2,873.8 L450.2,873.1 L451.2,872.4 L452.2,871.6 L453.2,870.8 L454.2,869.9 L455.2,869.0 L456.2,868.1 L457.2,867.2 L458.2,866.2 L459.2,865.3 L460.2,864.3 L461.2,863.3 L462.2,862.2 L463.2,861.2 L464.2,860.0 L465.2,858.9 L466.2,857.7 L467.2,856.5 L468.2,855.3 L469.2,854.0 L470.2,852.7 L471.2,851.4 L472.2,850.1 L473.2,848.7 L474.2,847.2 L475.2,845.7 L476.2,844.2 L477.2,842.6 L478.2,840.9 L479.2,839.2 L480.2,837.5 L481.2,835.7 L482.2,833.8 L483.2,831.8 L484.2,829.8 L485.2,827.8 L486.2,825.7 L487.2,823.5 L488.2,821.3 L489.2,819.0 L490.2,816.7 L491.2,814.3 L492.2,811.9 L493.2,809.4 L494.2,806.8 L495.2,804.1 L496.2,801.4 L497.2,798.6 L498.2,795.8 L499.2,792.9 L500.2,790.1 L501.2,787.1 L502.2,784.2 L503.2,781.3 L504.2,778.3 L505.2,775.3 L506.2,772.2 L507.2,769.1 L508.2,766.0 L509.2,762.9 L510.2,759.8 L511.2,756.7 L512.2,753.6 L513.2,750.5 L514.2,747.4 L515.2,744.2 L516.2,741.0 L517.2,737.8 L518.2,734.7 L519.2,731.7 L520.2,728.7 L521.2,726.0 L522.2,723.4 L523.2,720.9 L524.2,718.6 L525.2,716.3 L526.2,714.1 L527.2,711.9 L528.2,709.8 L529.2,707.8 L530.2,705.9 L531.2,704.1 L532.2,702.5 L533.2,701.0 L534.2,699.6 L535.2,698.3 L536.2,697.2 L537.2,696.1 L538.2,695.3 L539.2,694.6 L540.2,694.2 L541.2,693.8 L542.2,693.6 L543.2,693.5 L544.2,693.6 L545.2,694.0 L546.2,694.5 L547.2,695.3 L548.2,696.2 L549.2,697.3 L550.2,698.8 L551.2,700.6 L552.2,702.7 L553.2,705.0 L554.2,707.3 L555.2,709.7 L556.2,712.2 L557.2,714.9 L558.2,717.6 L559.2,720.4 L560.2,723.3 L561.2,726.2 L562.2,729.2 L563.2,732.2 L564.2,735.3 L565.2,738.3 L566.2,741.5 L567.2,744.6 L568.2,747.9 L569.2,751.2 L570.2,754.5 L571.2,757.9 L572.2,761.2 L573.2,764.6 L574.2,768.0 L575.2,771.3 L576.2,774.6 L577.2,777.9 L578.2,781.2 L579.2,784.6 L580.2,787.9 L581.2,791.2 L582.2,794.5 L583.2,797.8 L584.2,801.0 L585.2,804.1 L586.2,807.2 L587.2,810.2 L588.2,813.1 L589.2,815.9 L590.2,818.7 L591.2,821.5 L592.2,824.1 L593.2,826.7 L594.2,829.3 L595.2,831.7 L596.2,834.1 L597.2,836.4 L598.2,838.6 L599.2,840.7 L600.2,842.8 L601.2,844.8 L602.2,846.8 L603.2,848.7 L604.2,850.6 L605.2,852.4 L606.2,854.0 L607.2,855.6 L608.2,857.1 L609.2,858.6 L610.2,859.9 L611.2,861.2 L612.2,862.5 L613.2,863.7 L614.2,864.9 L615.2,866.0 L616.2,867.0 L617.2,868.0 L618.2,869.0 L619.2,869.9 L620.2,870.8 L621.2,871.6 L622.2,872.4 L623.2,873.1 L624.2,873.9 L625.2,874.6 L626.2,875.2 L627.2,875.8 L628.2,876.4 L629.2,876.9 L630.2,877.4 L631.2,877.9 L632.2,878.3 L633.2,878.7 L634.2,879.1 L635.2,879.5 L636.2,879.8 L637.2,880.1 L638.2,880.4 L639.2,880.7 L640.2,881.0 L641.2,881.3 L642.2,881.5 L643.2,881.8 L644.2,882.0 L645.2,882.3 L646.2,882.5 L647.2,882.7 L648.2,882.9 L649.2,883.1 L650.2,883.2 L651.2,883.4 L652.2,883.5 L653.2,883.6 L654.2,883.7 L655.2,883.8 L656.2,884.0 L657.2,884.0 L658.2,884.1 L659.2,884.2 L660.2,884.3 L661.2,884.4 L662.2,884.5 L663.2,884.5 L664.2,884.6 L665.2,884.7 L666.2,884.8 L667.2,884.8 L668.2,884.9 L669.2,885.0 L670.2,885.0 L671.2,885.0 L672.2,885.1 L673.2,885.1 L674.2,885.1 L675.2,885.1 L676.2,885.1 L677.2,885.1 L678.2,885.0 L679.2,884.7 L680.2,884.4 L681.2,883.8 L682.2,883.2" stroke="#f8220c" stroke-width="1.9" stroke-dasharray="6.5 6" stroke-dashoffset="8.4"/>
</g>
<rect x="402.2" y="677.4" width="280.0" height="210.6" fill="none" stroke="#262626" stroke-width="1.7"/>
<path d="M472.2,888.0v-3.7M472.2,677.4v3.7M542.2,888.0v-3.7M542.2,677.4v3.7M612.2,888.0v-3.7M612.2,677.4v3.7M402.2,845.9h3.7M682.2,845.9h-3.7M402.2,803.8h3.7M682.2,803.8h-3.7M402.2,761.6h3.7M682.2,761.6h-3.7M402.2,719.5h3.7M682.2,719.5h-3.7" stroke="#262626" stroke-width="1.5" fill="none"/>
<g font-family='"Liberation Sans", Arial, sans-serif' font-size="13.6" fill="#262626">
<text x="401.5" y="906.6" text-anchor="middle">-2</text>
<text x="471.5" y="906.6" text-anchor="middle">-1</text>
<text x="542.5" y="906.6" text-anchor="middle">0</text>
<text x="612.5" y="906.6" text-anchor="middle">1</text>
<text x="682.5" y="906.6" text-anchor="middle">2</text>
<text x="397.2" y="893.5" text-anchor="end">1</text>
<text x="397.2" y="851.4" text-anchor="end">1.5</text>
<text x="397.2" y="809.3" text-anchor="end">2</text>
<text x="397.2" y="767.1" text-anchor="end">2.5</text>
<text x="397.2" y="725.0" text-anchor="end">3</text>
<text x="397.2" y="682.9" text-anchor="end">3.5</text>
<text transform="translate(372.6,780.7) rotate(-90)" text-anchor="middle" font-style="italic" font-size="13.6">Sh</text>
</g>
<text x="542.0" y="924.8" text-anchor="middle" font-family='"Liberation Serif", "Times New Roman", serif' font-style="italic" font-size="12.6" fill="#444">ξ</text>
<g font-family='"Liberation Sans", Arial, sans-serif' font-size="10.3" fill="#1a1a1a">
<text x="506.9" y="857.3">__Fe<tspan font-size="8.2" dy="4.4">3</tspan><tspan dy="-4.4">O</tspan><tspan font-size="8.2" dy="4.4">4</tspan></text>
<text x="508.2" y="874.8">---Fe<tspan font-size="8.2" dy="4.4">3</tspan><tspan dy="-4.4">O</tspan><tspan font-size="8.2" dy="4.4">4</tspan><tspan dy="-4.4">-MWCNT</tspan></text>
</g>
<rect x="415.9" y="688.6" width="69.9" height="57.8" fill="#fff" stroke="#262626" stroke-width="1.6"/>
<path d="M418.9,699.5h25.4" stroke="#2238f2" stroke-width="1.5" fill="none"/>
<text x="447.0" y="703.7" font-family='"Liberation Sans", Arial, sans-serif' font-size="10.3" fill="#111"><tspan font-style="italic">Sr</tspan> = 0.8</text>
<path d="M418.9,717.6h25.4" stroke="#52e044" stroke-width="1.5" fill="none"/>
<text x="447.0" y="721.9" font-family='"Liberation Sans", Arial, sans-serif' font-size="10.3" fill="#111"><tspan font-style="italic">Sr</tspan> = 1.4</text>
<path d="M418.9,735.8h25.4" stroke="#f8220c" stroke-width="1.5" fill="none"/>
<text x="447.0" y="740.0" font-family='"Liberation Sans", Arial, sans-serif' font-size="10.3" fill="#111"><tspan font-style="italic">Sr</tspan> = 2.0</text>
<text x="542.7" y="968.5" text-anchor="middle" font-family='"Liberation Serif", "Times New Roman", serif' font-size="20.3" fill="#1a1a1a">(f)</text>
</g>
</svg></body></html>
